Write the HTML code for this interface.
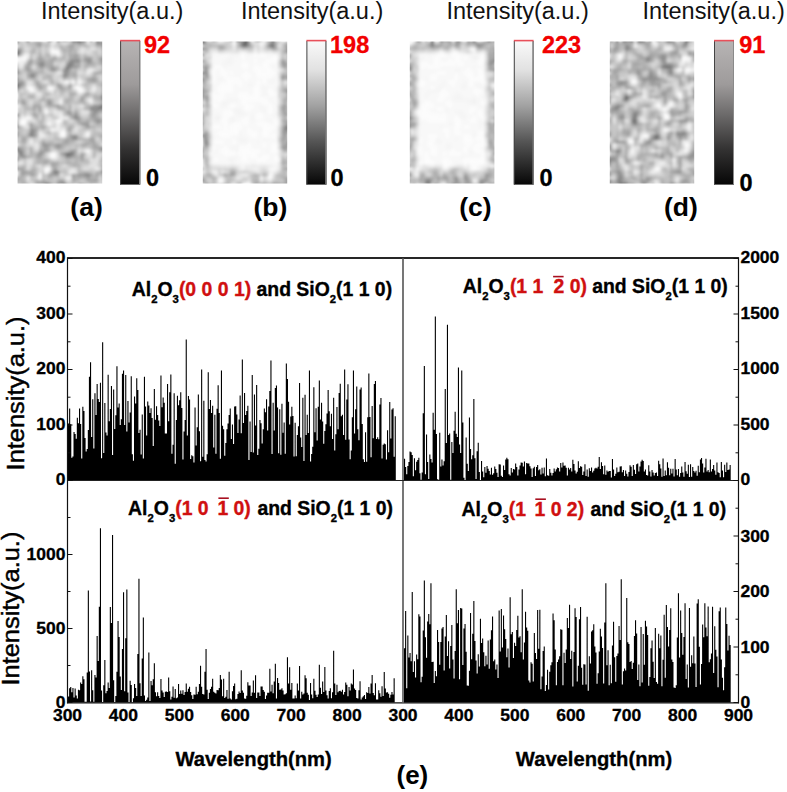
<!DOCTYPE html>
<html><head><meta charset="utf-8"><style>
html,body{margin:0;padding:0;background:#fff;overflow:hidden;width:787px;height:792px;}
svg{display:block;font-family:"Liberation Sans",sans-serif;}
</style></head><body>
<svg width="787" height="792" viewBox="0 0 787 792">
<defs><clipPath id="c0"><rect x="17.6" y="41.5" width="84.6" height="142.0"/></clipPath><filter id="bl0" x="-5%" y="-5%" width="110%" height="110%"><feGaussianBlur stdDeviation="1.5"/></filter><linearGradient id="g0" x1="0" y1="0" x2="0" y2="1"><stop offset="0" stop-color="#b7b4b4"/><stop offset="0.3" stop-color="#9e9b9b"/><stop offset="0.5" stop-color="#6f6d6d"/><stop offset="0.75" stop-color="#343333"/><stop offset="1" stop-color="#060606"/></linearGradient><clipPath id="c1"><rect x="202.8" y="41.5" width="84.4" height="142.0"/></clipPath><filter id="bl1" x="-5%" y="-5%" width="110%" height="110%"><feGaussianBlur stdDeviation="1.5"/></filter><linearGradient id="g1" x1="0" y1="0" x2="0" y2="1"><stop offset="0" stop-color="#f9f9f9"/><stop offset="0.2" stop-color="#e2e2e2"/><stop offset="0.45" stop-color="#a2a2a2"/><stop offset="0.7" stop-color="#555555"/><stop offset="1" stop-color="#060606"/></linearGradient><clipPath id="c2"><rect x="409.8" y="41.5" width="84.6" height="142.0"/></clipPath><filter id="bl2" x="-5%" y="-5%" width="110%" height="110%"><feGaussianBlur stdDeviation="1.5"/></filter><linearGradient id="g2" x1="0" y1="0" x2="0" y2="1"><stop offset="0" stop-color="#f9f9f9"/><stop offset="0.2" stop-color="#e2e2e2"/><stop offset="0.45" stop-color="#a2a2a2"/><stop offset="0.7" stop-color="#555555"/><stop offset="1" stop-color="#060606"/></linearGradient><clipPath id="c3"><rect x="609.8" y="41.5" width="84.4" height="142.0"/></clipPath><filter id="bl3" x="-5%" y="-5%" width="110%" height="110%"><feGaussianBlur stdDeviation="1.5"/></filter><linearGradient id="g3" x1="0" y1="0" x2="0" y2="1"><stop offset="0" stop-color="#b7b4b4"/><stop offset="0.3" stop-color="#9e9b9b"/><stop offset="0.5" stop-color="#6f6d6d"/><stop offset="0.75" stop-color="#343333"/><stop offset="1" stop-color="#060606"/></linearGradient></defs>
<rect width="787" height="792" fill="#fff"/>
<g clip-path="url(#c0)"><g filter="url(#bl0)"><path fill="rgb(60,60,60)" d="M56.6 38.5h3v3h-3zM71.6 38.5h3v3h-3zM77.6 38.5h3v3h-3zM14.6 53.5h3v3h-3zM14.6 71.5h3v3h-3zM14.6 77.5h3v3h-3zM104.6 83.5h3v3h-3zM104.6 104.5h3v3h-3zM14.6 113.5h3v3h-3zM14.6 122.5h3v3h-3zM14.6 125.5h3v3h-3zM104.6 146.5h3v3h-3zM14.6 158.5h3v3h-3zM104.6 176.5h3v3h-3zM47.6 185.5h3v3h-3z"/><path fill="rgb(64,64,64)" d="M104.6 44.5h3v3h-3zM104.6 80.5h3v3h-3z"/><path fill="rgb(68,68,68)" d="M14.6 38.5h3v3h-3zM14.6 68.5h3v3h-3z"/><path fill="rgb(72,72,72)" d="M14.6 41.5h3v3h-3z"/><path fill="rgb(76,76,76)" d="M104.6 98.5h3v3h-3zM65.6 152.5h3v3h-3zM56.6 185.5h3v3h-3zM77.6 185.5h3v3h-3z"/><path fill="rgb(80,80,80)" d="M104.6 59.5h3v3h-3zM68.6 152.5h3v3h-3z"/><path fill="rgb(84,84,84)" d="M26.6 38.5h3v3h-3zM74.6 38.5h3v3h-3zM14.6 185.5h3v3h-3z"/><path fill="rgb(88,88,88)" d="M14.6 50.5h3v3h-3zM101.6 104.5h3v3h-3z"/><path fill="rgb(92,92,92)" d="M104.6 56.5h3v3h-3zM101.6 95.5h3v3h-3zM53.6 170.5h3v3h-3zM80.6 185.5h3v3h-3z"/><path fill="rgb(96,96,96)" d="M17.6 50.5h3v3h-3zM14.6 167.5h3v3h-3zM62.6 185.5h3v3h-3zM89.6 185.5h3v3h-3z"/><path fill="rgb(100,100,100)" d="M68.6 62.5h3v3h-3zM44.6 182.5h3v3h-3zM26.6 185.5h3v3h-3zM44.6 185.5h3v3h-3z"/><path fill="rgb(104,104,104)" d="M14.6 83.5h3v3h-3zM17.6 83.5h3v3h-3zM14.6 86.5h3v3h-3zM71.6 152.5h3v3h-3zM86.6 173.5h3v3h-3z"/><path fill="rgb(108,108,108)" d="M62.6 38.5h3v3h-3zM83.6 38.5h3v3h-3zM68.6 65.5h3v3h-3zM74.6 116.5h3v3h-3zM17.6 149.5h3v3h-3zM101.6 170.5h3v3h-3z"/><path fill="rgb(112,112,112)" d="M47.6 38.5h3v3h-3zM41.6 62.5h3v3h-3zM65.6 65.5h3v3h-3zM104.6 65.5h3v3h-3zM65.6 68.5h3v3h-3zM62.6 74.5h3v3h-3zM95.6 107.5h3v3h-3zM20.6 152.5h3v3h-3zM56.6 170.5h3v3h-3zM47.6 182.5h3v3h-3z"/><path fill="rgb(116,116,116)" d="M89.6 38.5h3v3h-3zM77.6 41.5h3v3h-3zM101.6 41.5h3v3h-3zM104.6 50.5h3v3h-3zM71.6 59.5h3v3h-3zM38.6 62.5h3v3h-3zM47.6 101.5h3v3h-3zM98.6 104.5h3v3h-3zM98.6 107.5h3v3h-3zM14.6 119.5h3v3h-3zM14.6 131.5h3v3h-3zM29.6 131.5h3v3h-3zM29.6 134.5h3v3h-3zM14.6 146.5h3v3h-3zM101.6 146.5h3v3h-3zM17.6 152.5h3v3h-3zM65.6 155.5h3v3h-3zM62.6 182.5h3v3h-3z"/><path fill="rgb(120,120,120)" d="M17.6 53.5h3v3h-3zM86.6 59.5h3v3h-3zM14.6 65.5h3v3h-3zM29.6 74.5h3v3h-3zM32.6 74.5h3v3h-3zM101.6 107.5h3v3h-3zM95.6 119.5h3v3h-3zM14.6 134.5h3v3h-3zM38.6 152.5h3v3h-3zM62.6 152.5h3v3h-3zM104.6 158.5h3v3h-3zM83.6 173.5h3v3h-3z"/><path fill="rgb(124,124,124)" d="M95.6 41.5h3v3h-3zM98.6 41.5h3v3h-3zM71.6 62.5h3v3h-3zM50.6 68.5h3v3h-3zM65.6 71.5h3v3h-3zM101.6 98.5h3v3h-3zM89.6 107.5h3v3h-3zM92.6 107.5h3v3h-3zM74.6 113.5h3v3h-3zM98.6 119.5h3v3h-3zM29.6 128.5h3v3h-3zM32.6 134.5h3v3h-3zM68.6 155.5h3v3h-3z"/><path fill="rgb(128,128,128)" d="M68.6 59.5h3v3h-3zM74.6 59.5h3v3h-3zM77.6 59.5h3v3h-3zM101.6 59.5h3v3h-3zM53.6 68.5h3v3h-3zM65.6 74.5h3v3h-3zM20.6 83.5h3v3h-3zM92.6 113.5h3v3h-3zM86.6 125.5h3v3h-3zM74.6 134.5h3v3h-3zM74.6 137.5h3v3h-3zM44.6 143.5h3v3h-3zM56.6 143.5h3v3h-3zM20.6 149.5h3v3h-3zM59.6 182.5h3v3h-3zM83.6 185.5h3v3h-3z"/><path fill="rgb(132,132,132)" d="M95.6 38.5h3v3h-3zM38.6 41.5h3v3h-3zM101.6 56.5h3v3h-3zM29.6 59.5h3v3h-3zM89.6 59.5h3v3h-3zM92.6 77.5h3v3h-3zM104.6 77.5h3v3h-3zM20.6 80.5h3v3h-3zM104.6 86.5h3v3h-3zM80.6 98.5h3v3h-3zM56.6 104.5h3v3h-3zM71.6 134.5h3v3h-3zM71.6 137.5h3v3h-3zM41.6 143.5h3v3h-3zM17.6 146.5h3v3h-3zM56.6 146.5h3v3h-3zM98.6 146.5h3v3h-3zM71.6 149.5h3v3h-3zM80.6 155.5h3v3h-3zM77.6 173.5h3v3h-3zM59.6 179.5h3v3h-3zM56.6 182.5h3v3h-3zM20.6 185.5h3v3h-3zM101.6 185.5h3v3h-3z"/><path fill="rgb(136,136,136)" d="M53.6 56.5h3v3h-3zM65.6 62.5h3v3h-3zM71.6 65.5h3v3h-3zM26.6 68.5h3v3h-3zM56.6 83.5h3v3h-3zM17.6 86.5h3v3h-3zM59.6 86.5h3v3h-3zM101.6 92.5h3v3h-3zM104.6 95.5h3v3h-3zM92.6 104.5h3v3h-3zM95.6 104.5h3v3h-3zM38.6 107.5h3v3h-3zM92.6 110.5h3v3h-3zM95.6 110.5h3v3h-3zM32.6 113.5h3v3h-3zM77.6 116.5h3v3h-3zM104.6 116.5h3v3h-3zM32.6 128.5h3v3h-3zM32.6 131.5h3v3h-3zM89.6 137.5h3v3h-3zM44.6 146.5h3v3h-3zM14.6 149.5h3v3h-3zM80.6 152.5h3v3h-3zM20.6 155.5h3v3h-3zM23.6 155.5h3v3h-3zM104.6 170.5h3v3h-3zM53.6 173.5h3v3h-3zM80.6 173.5h3v3h-3zM86.6 176.5h3v3h-3zM41.6 182.5h3v3h-3z"/><path fill="rgb(140,140,140)" d="M17.6 47.5h3v3h-3zM74.6 53.5h3v3h-3zM86.6 56.5h3v3h-3zM26.6 65.5h3v3h-3zM50.6 65.5h3v3h-3zM74.6 65.5h3v3h-3zM62.6 68.5h3v3h-3zM32.6 71.5h3v3h-3zM62.6 71.5h3v3h-3zM14.6 80.5h3v3h-3zM38.6 86.5h3v3h-3zM86.6 92.5h3v3h-3zM47.6 98.5h3v3h-3zM65.6 140.5h3v3h-3zM44.6 149.5h3v3h-3zM20.6 167.5h3v3h-3z"/><path fill="rgb(144,144,144)" d="M80.6 38.5h3v3h-3zM35.6 41.5h3v3h-3zM80.6 41.5h3v3h-3zM38.6 44.5h3v3h-3zM68.6 44.5h3v3h-3zM101.6 44.5h3v3h-3zM104.6 53.5h3v3h-3zM74.6 56.5h3v3h-3zM41.6 59.5h3v3h-3zM26.6 62.5h3v3h-3zM101.6 62.5h3v3h-3zM38.6 65.5h3v3h-3zM41.6 65.5h3v3h-3zM89.6 77.5h3v3h-3zM89.6 113.5h3v3h-3zM71.6 116.5h3v3h-3zM92.6 116.5h3v3h-3zM77.6 119.5h3v3h-3zM80.6 122.5h3v3h-3zM83.6 122.5h3v3h-3zM86.6 122.5h3v3h-3zM41.6 125.5h3v3h-3zM68.6 128.5h3v3h-3zM23.6 137.5h3v3h-3zM41.6 140.5h3v3h-3zM47.6 143.5h3v3h-3zM59.6 143.5h3v3h-3zM83.6 143.5h3v3h-3zM101.6 149.5h3v3h-3zM38.6 155.5h3v3h-3zM44.6 161.5h3v3h-3zM53.6 167.5h3v3h-3zM56.6 173.5h3v3h-3zM89.6 173.5h3v3h-3zM95.6 173.5h3v3h-3zM14.6 179.5h3v3h-3zM92.6 179.5h3v3h-3zM38.6 182.5h3v3h-3z"/><path fill="rgb(148,148,148)" d="M104.6 47.5h3v3h-3zM38.6 56.5h3v3h-3zM89.6 56.5h3v3h-3zM38.6 59.5h3v3h-3zM50.6 59.5h3v3h-3zM77.6 62.5h3v3h-3zM86.6 62.5h3v3h-3zM17.6 71.5h3v3h-3zM29.6 71.5h3v3h-3zM98.6 71.5h3v3h-3zM104.6 74.5h3v3h-3zM17.6 80.5h3v3h-3zM35.6 80.5h3v3h-3zM92.6 80.5h3v3h-3zM68.6 83.5h3v3h-3zM68.6 86.5h3v3h-3zM14.6 89.5h3v3h-3zM29.6 95.5h3v3h-3zM80.6 95.5h3v3h-3zM98.6 95.5h3v3h-3zM20.6 101.5h3v3h-3zM23.6 101.5h3v3h-3zM32.6 104.5h3v3h-3zM59.6 107.5h3v3h-3zM65.6 110.5h3v3h-3zM68.6 110.5h3v3h-3zM74.6 110.5h3v3h-3zM68.6 113.5h3v3h-3zM29.6 122.5h3v3h-3zM29.6 125.5h3v3h-3zM68.6 134.5h3v3h-3zM53.6 143.5h3v3h-3zM92.6 143.5h3v3h-3zM95.6 146.5h3v3h-3zM38.6 149.5h3v3h-3zM98.6 149.5h3v3h-3zM71.6 155.5h3v3h-3zM80.6 158.5h3v3h-3zM17.6 167.5h3v3h-3zM101.6 167.5h3v3h-3zM29.6 170.5h3v3h-3zM71.6 173.5h3v3h-3zM14.6 176.5h3v3h-3zM71.6 176.5h3v3h-3zM41.6 179.5h3v3h-3zM95.6 179.5h3v3h-3zM35.6 182.5h3v3h-3z"/><path fill="rgb(152,152,152)" d="M71.6 44.5h3v3h-3zM71.6 56.5h3v3h-3zM83.6 56.5h3v3h-3zM83.6 59.5h3v3h-3zM29.6 62.5h3v3h-3zM89.6 62.5h3v3h-3zM77.6 65.5h3v3h-3zM68.6 68.5h3v3h-3zM95.6 71.5h3v3h-3zM26.6 74.5h3v3h-3zM86.6 77.5h3v3h-3zM50.6 80.5h3v3h-3zM59.6 83.5h3v3h-3zM71.6 92.5h3v3h-3zM35.6 104.5h3v3h-3zM47.6 104.5h3v3h-3zM53.6 104.5h3v3h-3zM89.6 104.5h3v3h-3zM32.6 107.5h3v3h-3zM17.6 113.5h3v3h-3zM95.6 116.5h3v3h-3zM86.6 119.5h3v3h-3zM17.6 125.5h3v3h-3zM68.6 125.5h3v3h-3zM65.6 137.5h3v3h-3zM62.6 140.5h3v3h-3zM92.6 140.5h3v3h-3zM59.6 146.5h3v3h-3zM92.6 146.5h3v3h-3zM41.6 149.5h3v3h-3zM68.6 149.5h3v3h-3zM41.6 152.5h3v3h-3zM59.6 152.5h3v3h-3zM17.6 155.5h3v3h-3zM35.6 155.5h3v3h-3zM53.6 164.5h3v3h-3zM20.6 170.5h3v3h-3zM23.6 170.5h3v3h-3zM26.6 170.5h3v3h-3zM50.6 170.5h3v3h-3zM20.6 173.5h3v3h-3zM29.6 173.5h3v3h-3zM32.6 173.5h3v3h-3zM47.6 173.5h3v3h-3zM50.6 173.5h3v3h-3zM62.6 179.5h3v3h-3zM71.6 179.5h3v3h-3zM89.6 179.5h3v3h-3z"/><path fill="rgb(156,156,156)" d="M38.6 53.5h3v3h-3zM68.6 53.5h3v3h-3zM77.6 56.5h3v3h-3zM98.6 56.5h3v3h-3zM98.6 59.5h3v3h-3zM35.6 62.5h3v3h-3zM44.6 62.5h3v3h-3zM50.6 62.5h3v3h-3zM74.6 62.5h3v3h-3zM47.6 65.5h3v3h-3zM29.6 68.5h3v3h-3zM35.6 71.5h3v3h-3zM47.6 74.5h3v3h-3zM89.6 80.5h3v3h-3zM35.6 83.5h3v3h-3zM38.6 83.5h3v3h-3zM101.6 89.5h3v3h-3zM83.6 92.5h3v3h-3zM20.6 98.5h3v3h-3zM65.6 98.5h3v3h-3zM50.6 101.5h3v3h-3zM101.6 101.5h3v3h-3zM38.6 104.5h3v3h-3zM98.6 110.5h3v3h-3zM71.6 113.5h3v3h-3zM89.6 116.5h3v3h-3zM92.6 119.5h3v3h-3zM95.6 122.5h3v3h-3zM35.6 128.5h3v3h-3zM26.6 134.5h3v3h-3zM98.6 134.5h3v3h-3zM20.6 137.5h3v3h-3zM68.6 137.5h3v3h-3zM92.6 137.5h3v3h-3zM23.6 140.5h3v3h-3zM89.6 140.5h3v3h-3zM80.6 143.5h3v3h-3zM20.6 146.5h3v3h-3zM47.6 149.5h3v3h-3zM74.6 149.5h3v3h-3zM35.6 152.5h3v3h-3zM26.6 155.5h3v3h-3zM44.6 158.5h3v3h-3zM41.6 161.5h3v3h-3zM101.6 164.5h3v3h-3zM98.6 170.5h3v3h-3zM74.6 173.5h3v3h-3zM77.6 176.5h3v3h-3zM35.6 179.5h3v3h-3zM86.6 179.5h3v3h-3z"/><path fill="rgb(160,160,160)" d="M71.6 41.5h3v3h-3zM74.6 41.5h3v3h-3zM95.6 44.5h3v3h-3zM101.6 47.5h3v3h-3zM20.6 50.5h3v3h-3zM32.6 50.5h3v3h-3zM71.6 53.5h3v3h-3zM62.6 56.5h3v3h-3zM68.6 56.5h3v3h-3zM47.6 62.5h3v3h-3zM92.6 62.5h3v3h-3zM23.6 65.5h3v3h-3zM53.6 65.5h3v3h-3zM101.6 65.5h3v3h-3zM68.6 71.5h3v3h-3zM71.6 74.5h3v3h-3zM74.6 74.5h3v3h-3zM92.6 74.5h3v3h-3zM32.6 77.5h3v3h-3zM101.6 83.5h3v3h-3zM41.6 86.5h3v3h-3zM62.6 86.5h3v3h-3zM68.6 92.5h3v3h-3zM83.6 95.5h3v3h-3zM41.6 98.5h3v3h-3zM50.6 104.5h3v3h-3zM62.6 107.5h3v3h-3zM86.6 107.5h3v3h-3zM38.6 110.5h3v3h-3zM89.6 110.5h3v3h-3zM35.6 113.5h3v3h-3zM95.6 113.5h3v3h-3zM98.6 122.5h3v3h-3zM32.6 125.5h3v3h-3zM83.6 125.5h3v3h-3zM101.6 134.5h3v3h-3zM20.6 140.5h3v3h-3zM50.6 143.5h3v3h-3zM62.6 143.5h3v3h-3zM95.6 143.5h3v3h-3zM41.6 146.5h3v3h-3zM47.6 146.5h3v3h-3zM53.6 146.5h3v3h-3zM92.6 152.5h3v3h-3zM74.6 155.5h3v3h-3zM104.6 155.5h3v3h-3zM101.6 158.5h3v3h-3zM50.6 161.5h3v3h-3zM53.6 161.5h3v3h-3zM56.6 161.5h3v3h-3zM65.6 161.5h3v3h-3zM50.6 164.5h3v3h-3zM23.6 173.5h3v3h-3zM83.6 176.5h3v3h-3zM95.6 176.5h3v3h-3zM56.6 179.5h3v3h-3zM50.6 185.5h3v3h-3z"/><path fill="rgb(164,164,164)" d="M65.6 38.5h3v3h-3zM104.6 38.5h3v3h-3zM104.6 41.5h3v3h-3zM35.6 44.5h3v3h-3zM98.6 44.5h3v3h-3zM68.6 47.5h3v3h-3zM71.6 47.5h3v3h-3zM68.6 50.5h3v3h-3zM47.6 53.5h3v3h-3zM50.6 56.5h3v3h-3zM35.6 59.5h3v3h-3zM47.6 59.5h3v3h-3zM98.6 62.5h3v3h-3zM23.6 68.5h3v3h-3zM26.6 71.5h3v3h-3zM92.6 71.5h3v3h-3zM62.6 77.5h3v3h-3zM86.6 80.5h3v3h-3zM56.6 86.5h3v3h-3zM59.6 89.5h3v3h-3zM44.6 92.5h3v3h-3zM32.6 95.5h3v3h-3zM92.6 95.5h3v3h-3zM95.6 95.5h3v3h-3zM68.6 98.5h3v3h-3zM98.6 98.5h3v3h-3zM65.6 101.5h3v3h-3zM86.6 104.5h3v3h-3zM56.6 107.5h3v3h-3zM32.6 110.5h3v3h-3zM98.6 116.5h3v3h-3zM101.6 119.5h3v3h-3zM77.6 122.5h3v3h-3zM38.6 125.5h3v3h-3zM89.6 125.5h3v3h-3zM47.6 131.5h3v3h-3zM77.6 137.5h3v3h-3zM68.6 140.5h3v3h-3zM104.6 140.5h3v3h-3zM29.6 146.5h3v3h-3zM29.6 149.5h3v3h-3zM104.6 149.5h3v3h-3zM29.6 152.5h3v3h-3zM74.6 152.5h3v3h-3zM38.6 158.5h3v3h-3zM68.6 161.5h3v3h-3zM74.6 161.5h3v3h-3zM77.6 164.5h3v3h-3zM32.6 167.5h3v3h-3zM32.6 170.5h3v3h-3zM83.6 170.5h3v3h-3zM101.6 173.5h3v3h-3zM47.6 176.5h3v3h-3zM74.6 176.5h3v3h-3zM89.6 176.5h3v3h-3zM50.6 182.5h3v3h-3zM98.6 185.5h3v3h-3z"/><path fill="rgb(168,168,168)" d="M50.6 38.5h3v3h-3zM101.6 38.5h3v3h-3zM26.6 41.5h3v3h-3zM32.6 41.5h3v3h-3zM83.6 44.5h3v3h-3zM20.6 47.5h3v3h-3zM32.6 47.5h3v3h-3zM62.6 47.5h3v3h-3zM29.6 50.5h3v3h-3zM62.6 50.5h3v3h-3zM41.6 56.5h3v3h-3zM44.6 65.5h3v3h-3zM101.6 68.5h3v3h-3zM71.6 71.5h3v3h-3zM74.6 71.5h3v3h-3zM101.6 71.5h3v3h-3zM14.6 74.5h3v3h-3zM44.6 74.5h3v3h-3zM68.6 74.5h3v3h-3zM29.6 77.5h3v3h-3zM95.6 77.5h3v3h-3zM95.6 80.5h3v3h-3zM23.6 83.5h3v3h-3zM98.6 83.5h3v3h-3zM65.6 86.5h3v3h-3zM101.6 86.5h3v3h-3zM62.6 89.5h3v3h-3zM47.6 92.5h3v3h-3zM74.6 92.5h3v3h-3zM68.6 95.5h3v3h-3zM38.6 98.5h3v3h-3zM95.6 98.5h3v3h-3zM14.6 101.5h3v3h-3zM23.6 104.5h3v3h-3zM59.6 104.5h3v3h-3zM68.6 104.5h3v3h-3zM26.6 107.5h3v3h-3zM68.6 107.5h3v3h-3zM101.6 110.5h3v3h-3zM65.6 113.5h3v3h-3zM35.6 116.5h3v3h-3zM74.6 119.5h3v3h-3zM83.6 119.5h3v3h-3zM104.6 119.5h3v3h-3zM35.6 125.5h3v3h-3zM71.6 125.5h3v3h-3zM92.6 125.5h3v3h-3zM65.6 128.5h3v3h-3zM17.6 131.5h3v3h-3zM68.6 131.5h3v3h-3zM56.6 137.5h3v3h-3zM80.6 137.5h3v3h-3zM50.6 140.5h3v3h-3zM71.6 140.5h3v3h-3zM86.6 140.5h3v3h-3zM65.6 143.5h3v3h-3zM86.6 143.5h3v3h-3zM23.6 152.5h3v3h-3zM29.6 155.5h3v3h-3zM62.6 155.5h3v3h-3zM77.6 155.5h3v3h-3zM92.6 155.5h3v3h-3zM35.6 158.5h3v3h-3zM41.6 158.5h3v3h-3zM74.6 158.5h3v3h-3zM47.6 161.5h3v3h-3zM71.6 164.5h3v3h-3zM74.6 164.5h3v3h-3zM95.6 170.5h3v3h-3zM17.6 176.5h3v3h-3zM20.6 176.5h3v3h-3zM80.6 176.5h3v3h-3zM92.6 176.5h3v3h-3zM38.6 179.5h3v3h-3zM44.6 179.5h3v3h-3zM74.6 179.5h3v3h-3zM20.6 182.5h3v3h-3zM23.6 182.5h3v3h-3zM65.6 182.5h3v3h-3z"/><path fill="rgb(172,172,172)" d="M44.6 44.5h3v3h-3zM59.6 44.5h3v3h-3zM14.6 47.5h3v3h-3zM59.6 47.5h3v3h-3zM101.6 50.5h3v3h-3zM44.6 53.5h3v3h-3zM62.6 53.5h3v3h-3zM77.6 53.5h3v3h-3zM83.6 53.5h3v3h-3zM29.6 56.5h3v3h-3zM26.6 59.5h3v3h-3zM44.6 59.5h3v3h-3zM47.6 68.5h3v3h-3zM74.6 68.5h3v3h-3zM35.6 74.5h3v3h-3zM17.6 77.5h3v3h-3zM41.6 83.5h3v3h-3zM83.6 83.5h3v3h-3zM41.6 95.5h3v3h-3zM23.6 98.5h3v3h-3zM50.6 98.5h3v3h-3zM77.6 98.5h3v3h-3zM80.6 101.5h3v3h-3zM83.6 101.5h3v3h-3zM29.6 107.5h3v3h-3zM83.6 107.5h3v3h-3zM77.6 113.5h3v3h-3zM80.6 119.5h3v3h-3zM44.6 125.5h3v3h-3zM26.6 131.5h3v3h-3zM35.6 131.5h3v3h-3zM20.6 134.5h3v3h-3zM35.6 134.5h3v3h-3zM62.6 137.5h3v3h-3zM86.6 137.5h3v3h-3zM101.6 137.5h3v3h-3zM47.6 140.5h3v3h-3zM89.6 143.5h3v3h-3zM23.6 149.5h3v3h-3zM92.6 149.5h3v3h-3zM32.6 152.5h3v3h-3zM14.6 155.5h3v3h-3zM101.6 155.5h3v3h-3zM47.6 158.5h3v3h-3zM65.6 158.5h3v3h-3zM83.6 158.5h3v3h-3zM35.6 161.5h3v3h-3zM38.6 161.5h3v3h-3zM71.6 161.5h3v3h-3zM80.6 170.5h3v3h-3zM86.6 170.5h3v3h-3zM26.6 173.5h3v3h-3zM92.6 173.5h3v3h-3zM101.6 176.5h3v3h-3zM17.6 179.5h3v3h-3zM20.6 179.5h3v3h-3zM23.6 179.5h3v3h-3zM77.6 182.5h3v3h-3zM80.6 182.5h3v3h-3zM68.6 185.5h3v3h-3zM95.6 185.5h3v3h-3z"/><path fill="rgb(176,176,176)" d="M29.6 41.5h3v3h-3zM47.6 41.5h3v3h-3zM56.6 41.5h3v3h-3zM83.6 41.5h3v3h-3zM77.6 44.5h3v3h-3zM86.6 44.5h3v3h-3zM38.6 50.5h3v3h-3zM101.6 53.5h3v3h-3zM47.6 56.5h3v3h-3zM53.6 59.5h3v3h-3zM80.6 59.5h3v3h-3zM83.6 62.5h3v3h-3zM56.6 65.5h3v3h-3zM83.6 65.5h3v3h-3zM86.6 65.5h3v3h-3zM56.6 68.5h3v3h-3zM47.6 77.5h3v3h-3zM50.6 77.5h3v3h-3zM74.6 77.5h3v3h-3zM23.6 80.5h3v3h-3zM101.6 80.5h3v3h-3zM20.6 86.5h3v3h-3zM35.6 86.5h3v3h-3zM68.6 89.5h3v3h-3zM59.6 92.5h3v3h-3zM26.6 95.5h3v3h-3zM71.6 95.5h3v3h-3zM44.6 98.5h3v3h-3zM35.6 101.5h3v3h-3zM44.6 101.5h3v3h-3zM68.6 101.5h3v3h-3zM77.6 101.5h3v3h-3zM23.6 107.5h3v3h-3zM41.6 113.5h3v3h-3zM41.6 116.5h3v3h-3zM41.6 119.5h3v3h-3zM89.6 119.5h3v3h-3zM17.6 134.5h3v3h-3zM23.6 134.5h3v3h-3zM83.6 137.5h3v3h-3zM44.6 140.5h3v3h-3zM83.6 140.5h3v3h-3zM23.6 146.5h3v3h-3zM62.6 146.5h3v3h-3zM74.6 146.5h3v3h-3zM89.6 146.5h3v3h-3zM83.6 152.5h3v3h-3zM41.6 155.5h3v3h-3zM17.6 158.5h3v3h-3zM77.6 158.5h3v3h-3zM86.6 161.5h3v3h-3zM23.6 164.5h3v3h-3zM56.6 164.5h3v3h-3zM23.6 167.5h3v3h-3zM77.6 167.5h3v3h-3zM62.6 170.5h3v3h-3zM77.6 170.5h3v3h-3zM98.6 173.5h3v3h-3zM50.6 176.5h3v3h-3zM32.6 179.5h3v3h-3zM89.6 182.5h3v3h-3zM32.6 185.5h3v3h-3zM71.6 185.5h3v3h-3z"/><path fill="rgb(180,180,180)" d="M17.6 41.5h3v3h-3zM41.6 41.5h3v3h-3zM65.6 44.5h3v3h-3zM80.6 44.5h3v3h-3zM65.6 47.5h3v3h-3zM74.6 47.5h3v3h-3zM65.6 50.5h3v3h-3zM71.6 50.5h3v3h-3zM74.6 50.5h3v3h-3zM29.6 53.5h3v3h-3zM35.6 56.5h3v3h-3zM59.6 56.5h3v3h-3zM95.6 56.5h3v3h-3zM32.6 59.5h3v3h-3zM59.6 59.5h3v3h-3zM65.6 59.5h3v3h-3zM95.6 62.5h3v3h-3zM29.6 65.5h3v3h-3zM35.6 65.5h3v3h-3zM92.6 65.5h3v3h-3zM38.6 68.5h3v3h-3zM41.6 68.5h3v3h-3zM83.6 68.5h3v3h-3zM38.6 71.5h3v3h-3zM41.6 71.5h3v3h-3zM50.6 74.5h3v3h-3zM26.6 77.5h3v3h-3zM41.6 77.5h3v3h-3zM44.6 77.5h3v3h-3zM65.6 77.5h3v3h-3zM83.6 77.5h3v3h-3zM38.6 80.5h3v3h-3zM44.6 83.5h3v3h-3zM86.6 83.5h3v3h-3zM38.6 89.5h3v3h-3zM20.6 92.5h3v3h-3zM71.6 98.5h3v3h-3zM38.6 101.5h3v3h-3zM74.6 101.5h3v3h-3zM98.6 101.5h3v3h-3zM104.6 101.5h3v3h-3zM44.6 104.5h3v3h-3zM62.6 104.5h3v3h-3zM35.6 107.5h3v3h-3zM62.6 110.5h3v3h-3zM80.6 116.5h3v3h-3zM86.6 116.5h3v3h-3zM38.6 119.5h3v3h-3zM38.6 122.5h3v3h-3zM41.6 122.5h3v3h-3zM65.6 125.5h3v3h-3zM17.6 128.5h3v3h-3zM41.6 128.5h3v3h-3zM95.6 131.5h3v3h-3zM98.6 131.5h3v3h-3zM77.6 134.5h3v3h-3zM53.6 137.5h3v3h-3zM14.6 140.5h3v3h-3zM59.6 140.5h3v3h-3zM20.6 143.5h3v3h-3zM68.6 143.5h3v3h-3zM38.6 146.5h3v3h-3zM59.6 149.5h3v3h-3zM95.6 149.5h3v3h-3zM32.6 155.5h3v3h-3zM68.6 158.5h3v3h-3zM77.6 161.5h3v3h-3zM83.6 161.5h3v3h-3zM101.6 161.5h3v3h-3zM20.6 164.5h3v3h-3zM32.6 164.5h3v3h-3zM68.6 164.5h3v3h-3zM50.6 167.5h3v3h-3zM89.6 170.5h3v3h-3zM14.6 182.5h3v3h-3zM26.6 182.5h3v3h-3z"/><path fill="rgb(184,184,184)" d="M32.6 44.5h3v3h-3zM47.6 44.5h3v3h-3zM74.6 44.5h3v3h-3zM38.6 47.5h3v3h-3zM92.6 50.5h3v3h-3zM95.6 53.5h3v3h-3zM44.6 56.5h3v3h-3zM95.6 59.5h3v3h-3zM62.6 65.5h3v3h-3zM17.6 68.5h3v3h-3zM35.6 68.5h3v3h-3zM71.6 68.5h3v3h-3zM20.6 71.5h3v3h-3zM41.6 74.5h3v3h-3zM95.6 74.5h3v3h-3zM20.6 77.5h3v3h-3zM32.6 80.5h3v3h-3zM98.6 80.5h3v3h-3zM95.6 83.5h3v3h-3zM17.6 92.5h3v3h-3zM89.6 92.5h3v3h-3zM86.6 95.5h3v3h-3zM62.6 98.5h3v3h-3zM83.6 98.5h3v3h-3zM92.6 98.5h3v3h-3zM32.6 101.5h3v3h-3zM62.6 101.5h3v3h-3zM26.6 104.5h3v3h-3zM83.6 104.5h3v3h-3zM65.6 107.5h3v3h-3zM74.6 107.5h3v3h-3zM23.6 110.5h3v3h-3zM50.6 113.5h3v3h-3zM32.6 116.5h3v3h-3zM53.6 116.5h3v3h-3zM68.6 116.5h3v3h-3zM62.6 119.5h3v3h-3zM32.6 122.5h3v3h-3zM62.6 122.5h3v3h-3zM65.6 122.5h3v3h-3zM92.6 122.5h3v3h-3zM101.6 122.5h3v3h-3zM104.6 125.5h3v3h-3zM20.6 128.5h3v3h-3zM83.6 128.5h3v3h-3zM92.6 128.5h3v3h-3zM92.6 131.5h3v3h-3zM101.6 131.5h3v3h-3zM53.6 134.5h3v3h-3zM89.6 134.5h3v3h-3zM92.6 134.5h3v3h-3zM95.6 134.5h3v3h-3zM104.6 134.5h3v3h-3zM14.6 137.5h3v3h-3zM59.6 137.5h3v3h-3zM23.6 143.5h3v3h-3zM74.6 143.5h3v3h-3zM77.6 143.5h3v3h-3zM80.6 146.5h3v3h-3zM65.6 149.5h3v3h-3zM86.6 158.5h3v3h-3zM32.6 161.5h3v3h-3zM59.6 161.5h3v3h-3zM62.6 161.5h3v3h-3zM80.6 161.5h3v3h-3zM98.6 164.5h3v3h-3zM29.6 167.5h3v3h-3zM35.6 167.5h3v3h-3zM56.6 167.5h3v3h-3zM59.6 170.5h3v3h-3zM41.6 173.5h3v3h-3zM23.6 176.5h3v3h-3zM41.6 176.5h3v3h-3zM47.6 179.5h3v3h-3zM77.6 179.5h3v3h-3zM53.6 182.5h3v3h-3zM71.6 182.5h3v3h-3zM83.6 182.5h3v3h-3zM92.6 182.5h3v3h-3zM65.6 185.5h3v3h-3z"/><path fill="rgb(188,188,188)" d="M17.6 38.5h3v3h-3zM98.6 38.5h3v3h-3zM20.6 44.5h3v3h-3zM29.6 44.5h3v3h-3zM44.6 50.5h3v3h-3zM95.6 50.5h3v3h-3zM65.6 53.5h3v3h-3zM56.6 56.5h3v3h-3zM80.6 56.5h3v3h-3zM56.6 59.5h3v3h-3zM92.6 59.5h3v3h-3zM32.6 62.5h3v3h-3zM89.6 65.5h3v3h-3zM98.6 68.5h3v3h-3zM17.6 74.5h3v3h-3zM59.6 74.5h3v3h-3zM80.6 74.5h3v3h-3zM35.6 77.5h3v3h-3zM50.6 83.5h3v3h-3zM44.6 86.5h3v3h-3zM86.6 86.5h3v3h-3zM53.6 89.5h3v3h-3zM65.6 89.5h3v3h-3zM86.6 89.5h3v3h-3zM23.6 92.5h3v3h-3zM32.6 92.5h3v3h-3zM92.6 92.5h3v3h-3zM95.6 92.5h3v3h-3zM44.6 95.5h3v3h-3zM17.6 98.5h3v3h-3zM71.6 101.5h3v3h-3zM71.6 110.5h3v3h-3zM77.6 110.5h3v3h-3zM98.6 113.5h3v3h-3zM104.6 113.5h3v3h-3zM17.6 116.5h3v3h-3zM101.6 116.5h3v3h-3zM65.6 119.5h3v3h-3zM71.6 122.5h3v3h-3zM20.6 125.5h3v3h-3zM95.6 125.5h3v3h-3zM98.6 125.5h3v3h-3zM101.6 125.5h3v3h-3zM14.6 128.5h3v3h-3zM80.6 128.5h3v3h-3zM101.6 128.5h3v3h-3zM20.6 131.5h3v3h-3zM44.6 131.5h3v3h-3zM65.6 134.5h3v3h-3zM98.6 137.5h3v3h-3zM56.6 140.5h3v3h-3zM95.6 140.5h3v3h-3zM71.6 143.5h3v3h-3zM83.6 146.5h3v3h-3zM56.6 149.5h3v3h-3zM62.6 149.5h3v3h-3zM59.6 155.5h3v3h-3zM23.6 158.5h3v3h-3zM62.6 158.5h3v3h-3zM71.6 158.5h3v3h-3zM98.6 158.5h3v3h-3zM98.6 161.5h3v3h-3zM41.6 164.5h3v3h-3zM35.6 170.5h3v3h-3zM65.6 170.5h3v3h-3zM17.6 173.5h3v3h-3zM35.6 173.5h3v3h-3zM44.6 173.5h3v3h-3zM32.6 176.5h3v3h-3zM56.6 176.5h3v3h-3zM50.6 179.5h3v3h-3zM83.6 179.5h3v3h-3zM17.6 182.5h3v3h-3zM95.6 182.5h3v3h-3zM86.6 185.5h3v3h-3z"/><path fill="rgb(192,192,192)" d="M59.6 38.5h3v3h-3zM44.6 41.5h3v3h-3zM68.6 41.5h3v3h-3zM92.6 41.5h3v3h-3zM41.6 44.5h3v3h-3zM56.6 44.5h3v3h-3zM62.6 44.5h3v3h-3zM29.6 47.5h3v3h-3zM35.6 47.5h3v3h-3zM44.6 47.5h3v3h-3zM62.6 59.5h3v3h-3zM32.6 68.5h3v3h-3zM104.6 68.5h3v3h-3zM44.6 71.5h3v3h-3zM50.6 71.5h3v3h-3zM89.6 74.5h3v3h-3zM68.6 77.5h3v3h-3zM47.6 80.5h3v3h-3zM53.6 80.5h3v3h-3zM53.6 83.5h3v3h-3zM80.6 83.5h3v3h-3zM17.6 89.5h3v3h-3zM23.6 89.5h3v3h-3zM71.6 89.5h3v3h-3zM26.6 92.5h3v3h-3zM29.6 92.5h3v3h-3zM62.6 92.5h3v3h-3zM98.6 92.5h3v3h-3zM17.6 95.5h3v3h-3zM20.6 95.5h3v3h-3zM14.6 98.5h3v3h-3zM17.6 101.5h3v3h-3zM95.6 101.5h3v3h-3zM20.6 104.5h3v3h-3zM65.6 104.5h3v3h-3zM104.6 107.5h3v3h-3zM17.6 110.5h3v3h-3zM35.6 110.5h3v3h-3zM23.6 113.5h3v3h-3zM47.6 113.5h3v3h-3zM62.6 113.5h3v3h-3zM83.6 116.5h3v3h-3zM35.6 119.5h3v3h-3zM68.6 122.5h3v3h-3zM80.6 125.5h3v3h-3zM26.6 128.5h3v3h-3zM86.6 128.5h3v3h-3zM53.6 131.5h3v3h-3zM26.6 137.5h3v3h-3zM32.6 137.5h3v3h-3zM17.6 140.5h3v3h-3zM38.6 140.5h3v3h-3zM53.6 140.5h3v3h-3zM74.6 140.5h3v3h-3zM101.6 140.5h3v3h-3zM38.6 143.5h3v3h-3zM98.6 143.5h3v3h-3zM26.6 146.5h3v3h-3zM50.6 146.5h3v3h-3zM68.6 146.5h3v3h-3zM32.6 149.5h3v3h-3zM83.6 155.5h3v3h-3zM14.6 161.5h3v3h-3zM23.6 161.5h3v3h-3zM104.6 161.5h3v3h-3zM14.6 164.5h3v3h-3zM62.6 167.5h3v3h-3zM41.6 170.5h3v3h-3zM92.6 170.5h3v3h-3zM65.6 173.5h3v3h-3zM44.6 176.5h3v3h-3zM53.6 179.5h3v3h-3zM68.6 182.5h3v3h-3z"/><path fill="rgb(196,196,196)" d="M20.6 41.5h3v3h-3zM26.6 44.5h3v3h-3zM77.6 47.5h3v3h-3zM86.6 47.5h3v3h-3zM20.6 53.5h3v3h-3zM92.6 53.5h3v3h-3zM98.6 53.5h3v3h-3zM65.6 56.5h3v3h-3zM92.6 56.5h3v3h-3zM14.6 62.5h3v3h-3zM23.6 62.5h3v3h-3zM20.6 68.5h3v3h-3zM59.6 68.5h3v3h-3zM23.6 71.5h3v3h-3zM101.6 74.5h3v3h-3zM56.6 80.5h3v3h-3zM83.6 80.5h3v3h-3zM32.6 83.5h3v3h-3zM89.6 83.5h3v3h-3zM23.6 86.5h3v3h-3zM83.6 86.5h3v3h-3zM98.6 86.5h3v3h-3zM41.6 89.5h3v3h-3zM44.6 89.5h3v3h-3zM41.6 92.5h3v3h-3zM53.6 92.5h3v3h-3zM89.6 95.5h3v3h-3zM53.6 98.5h3v3h-3zM86.6 101.5h3v3h-3zM47.6 107.5h3v3h-3zM29.6 110.5h3v3h-3zM41.6 110.5h3v3h-3zM29.6 113.5h3v3h-3zM38.6 113.5h3v3h-3zM86.6 113.5h3v3h-3zM26.6 122.5h3v3h-3zM35.6 122.5h3v3h-3zM74.6 122.5h3v3h-3zM23.6 128.5h3v3h-3zM38.6 128.5h3v3h-3zM44.6 128.5h3v3h-3zM89.6 128.5h3v3h-3zM80.6 131.5h3v3h-3zM80.6 134.5h3v3h-3zM41.6 137.5h3v3h-3zM50.6 137.5h3v3h-3zM80.6 140.5h3v3h-3zM98.6 140.5h3v3h-3zM65.6 146.5h3v3h-3zM71.6 146.5h3v3h-3zM86.6 146.5h3v3h-3zM26.6 152.5h3v3h-3zM77.6 152.5h3v3h-3zM32.6 158.5h3v3h-3zM59.6 158.5h3v3h-3zM17.6 164.5h3v3h-3zM59.6 164.5h3v3h-3zM80.6 164.5h3v3h-3zM17.6 170.5h3v3h-3zM29.6 176.5h3v3h-3zM53.6 176.5h3v3h-3zM59.6 176.5h3v3h-3zM29.6 179.5h3v3h-3zM98.6 179.5h3v3h-3zM104.6 179.5h3v3h-3zM74.6 182.5h3v3h-3z"/><path fill="rgb(200,200,200)" d="M89.6 41.5h3v3h-3zM53.6 44.5h3v3h-3zM92.6 44.5h3v3h-3zM98.6 47.5h3v3h-3zM35.6 50.5h3v3h-3zM59.6 50.5h3v3h-3zM35.6 53.5h3v3h-3zM41.6 53.5h3v3h-3zM80.6 53.5h3v3h-3zM86.6 53.5h3v3h-3zM80.6 62.5h3v3h-3zM80.6 65.5h3v3h-3zM44.6 68.5h3v3h-3zM47.6 71.5h3v3h-3zM53.6 71.5h3v3h-3zM20.6 74.5h3v3h-3zM83.6 74.5h3v3h-3zM71.6 77.5h3v3h-3zM80.6 77.5h3v3h-3zM101.6 77.5h3v3h-3zM74.6 80.5h3v3h-3zM56.6 89.5h3v3h-3zM95.6 89.5h3v3h-3zM62.6 95.5h3v3h-3zM65.6 95.5h3v3h-3zM77.6 95.5h3v3h-3zM26.6 98.5h3v3h-3zM32.6 98.5h3v3h-3zM35.6 98.5h3v3h-3zM74.6 98.5h3v3h-3zM26.6 101.5h3v3h-3zM53.6 101.5h3v3h-3zM92.6 101.5h3v3h-3zM29.6 104.5h3v3h-3zM74.6 104.5h3v3h-3zM17.6 107.5h3v3h-3zM77.6 107.5h3v3h-3zM20.6 110.5h3v3h-3zM50.6 116.5h3v3h-3zM89.6 122.5h3v3h-3zM47.6 128.5h3v3h-3zM71.6 128.5h3v3h-3zM77.6 128.5h3v3h-3zM95.6 128.5h3v3h-3zM23.6 131.5h3v3h-3zM50.6 131.5h3v3h-3zM65.6 131.5h3v3h-3zM77.6 131.5h3v3h-3zM89.6 131.5h3v3h-3zM56.6 134.5h3v3h-3zM35.6 137.5h3v3h-3zM47.6 137.5h3v3h-3zM77.6 146.5h3v3h-3zM44.6 152.5h3v3h-3zM101.6 152.5h3v3h-3zM44.6 155.5h3v3h-3zM20.6 158.5h3v3h-3zM50.6 158.5h3v3h-3zM56.6 158.5h3v3h-3zM59.6 167.5h3v3h-3zM65.6 167.5h3v3h-3zM89.6 167.5h3v3h-3zM62.6 173.5h3v3h-3zM80.6 179.5h3v3h-3zM32.6 182.5h3v3h-3zM86.6 182.5h3v3h-3zM104.6 182.5h3v3h-3zM35.6 185.5h3v3h-3z"/><path fill="rgb(204,204,204)" d="M68.6 38.5h3v3h-3zM23.6 41.5h3v3h-3zM89.6 44.5h3v3h-3zM95.6 47.5h3v3h-3zM23.6 50.5h3v3h-3zM47.6 50.5h3v3h-3zM32.6 53.5h3v3h-3zM89.6 53.5h3v3h-3zM56.6 62.5h3v3h-3zM95.6 65.5h3v3h-3zM77.6 68.5h3v3h-3zM80.6 68.5h3v3h-3zM95.6 68.5h3v3h-3zM83.6 71.5h3v3h-3zM38.6 74.5h3v3h-3zM56.6 74.5h3v3h-3zM77.6 74.5h3v3h-3zM86.6 74.5h3v3h-3zM23.6 77.5h3v3h-3zM62.6 83.5h3v3h-3zM71.6 83.5h3v3h-3zM74.6 89.5h3v3h-3zM98.6 89.5h3v3h-3zM50.6 92.5h3v3h-3zM23.6 95.5h3v3h-3zM47.6 95.5h3v3h-3zM53.6 95.5h3v3h-3zM56.6 95.5h3v3h-3zM59.6 95.5h3v3h-3zM74.6 95.5h3v3h-3zM29.6 98.5h3v3h-3zM41.6 104.5h3v3h-3zM20.6 107.5h3v3h-3zM41.6 107.5h3v3h-3zM50.6 107.5h3v3h-3zM80.6 107.5h3v3h-3zM26.6 110.5h3v3h-3zM38.6 116.5h3v3h-3zM44.6 116.5h3v3h-3zM56.6 116.5h3v3h-3zM62.6 125.5h3v3h-3zM56.6 131.5h3v3h-3zM47.6 134.5h3v3h-3zM50.6 134.5h3v3h-3zM17.6 137.5h3v3h-3zM44.6 137.5h3v3h-3zM26.6 140.5h3v3h-3zM26.6 149.5h3v3h-3zM35.6 149.5h3v3h-3zM50.6 149.5h3v3h-3zM95.6 152.5h3v3h-3zM29.6 164.5h3v3h-3zM65.6 164.5h3v3h-3zM83.6 164.5h3v3h-3zM80.6 167.5h3v3h-3zM62.6 176.5h3v3h-3zM101.6 179.5h3v3h-3zM101.6 182.5h3v3h-3z"/><path fill="rgb(208,208,208)" d="M23.6 38.5h3v3h-3zM59.6 41.5h3v3h-3zM17.6 44.5h3v3h-3zM23.6 44.5h3v3h-3zM47.6 47.5h3v3h-3zM26.6 50.5h3v3h-3zM59.6 62.5h3v3h-3zM98.6 65.5h3v3h-3zM23.6 74.5h3v3h-3zM98.6 74.5h3v3h-3zM53.6 77.5h3v3h-3zM56.6 77.5h3v3h-3zM98.6 77.5h3v3h-3zM47.6 83.5h3v3h-3zM65.6 83.5h3v3h-3zM89.6 86.5h3v3h-3zM95.6 86.5h3v3h-3zM56.6 92.5h3v3h-3zM65.6 92.5h3v3h-3zM80.6 92.5h3v3h-3zM50.6 95.5h3v3h-3zM56.6 98.5h3v3h-3zM53.6 107.5h3v3h-3zM50.6 110.5h3v3h-3zM44.6 113.5h3v3h-3zM101.6 113.5h3v3h-3zM14.6 116.5h3v3h-3zM71.6 119.5h3v3h-3zM104.6 122.5h3v3h-3zM47.6 125.5h3v3h-3zM98.6 128.5h3v3h-3zM71.6 131.5h3v3h-3zM74.6 131.5h3v3h-3zM104.6 137.5h3v3h-3zM77.6 140.5h3v3h-3zM17.6 143.5h3v3h-3zM32.6 146.5h3v3h-3zM80.6 149.5h3v3h-3zM56.6 152.5h3v3h-3zM89.6 155.5h3v3h-3zM98.6 155.5h3v3h-3zM89.6 161.5h3v3h-3zM35.6 164.5h3v3h-3zM44.6 164.5h3v3h-3zM86.6 164.5h3v3h-3zM38.6 167.5h3v3h-3zM74.6 167.5h3v3h-3zM68.6 173.5h3v3h-3zM35.6 176.5h3v3h-3zM68.6 179.5h3v3h-3z"/><path fill="rgb(212,212,212)" d="M23.6 47.5h3v3h-3zM41.6 47.5h3v3h-3zM41.6 50.5h3v3h-3zM77.6 50.5h3v3h-3zM89.6 50.5h3v3h-3zM98.6 50.5h3v3h-3zM53.6 53.5h3v3h-3zM53.6 62.5h3v3h-3zM59.6 65.5h3v3h-3zM80.6 71.5h3v3h-3zM53.6 74.5h3v3h-3zM38.6 77.5h3v3h-3zM41.6 80.5h3v3h-3zM74.6 83.5h3v3h-3zM92.6 83.5h3v3h-3zM71.6 86.5h3v3h-3zM20.6 89.5h3v3h-3zM26.6 89.5h3v3h-3zM35.6 89.5h3v3h-3zM41.6 101.5h3v3h-3zM71.6 104.5h3v3h-3zM71.6 107.5h3v3h-3zM53.6 113.5h3v3h-3zM80.6 113.5h3v3h-3zM83.6 113.5h3v3h-3zM29.6 119.5h3v3h-3zM44.6 119.5h3v3h-3zM53.6 122.5h3v3h-3zM59.6 122.5h3v3h-3zM50.6 125.5h3v3h-3zM53.6 125.5h3v3h-3zM77.6 125.5h3v3h-3zM95.6 137.5h3v3h-3zM32.6 140.5h3v3h-3zM35.6 140.5h3v3h-3zM53.6 149.5h3v3h-3zM98.6 152.5h3v3h-3zM53.6 158.5h3v3h-3zM41.6 167.5h3v3h-3zM68.6 167.5h3v3h-3zM92.6 167.5h3v3h-3zM98.6 167.5h3v3h-3zM38.6 170.5h3v3h-3zM98.6 176.5h3v3h-3zM65.6 179.5h3v3h-3zM38.6 185.5h3v3h-3z"/><path fill="rgb(216,216,216)" d="M65.6 41.5h3v3h-3zM26.6 47.5h3v3h-3zM83.6 47.5h3v3h-3zM83.6 50.5h3v3h-3zM59.6 53.5h3v3h-3zM32.6 56.5h3v3h-3zM62.6 62.5h3v3h-3zM104.6 62.5h3v3h-3zM89.6 71.5h3v3h-3zM59.6 77.5h3v3h-3zM53.6 86.5h3v3h-3zM104.6 89.5h3v3h-3zM35.6 95.5h3v3h-3zM38.6 95.5h3v3h-3zM56.6 101.5h3v3h-3zM77.6 104.5h3v3h-3zM47.6 110.5h3v3h-3zM20.6 113.5h3v3h-3zM26.6 119.5h3v3h-3zM68.6 119.5h3v3h-3zM44.6 122.5h3v3h-3zM59.6 125.5h3v3h-3zM74.6 125.5h3v3h-3zM104.6 128.5h3v3h-3zM41.6 131.5h3v3h-3zM83.6 131.5h3v3h-3zM44.6 134.5h3v3h-3zM38.6 137.5h3v3h-3zM26.6 143.5h3v3h-3zM29.6 143.5h3v3h-3zM56.6 155.5h3v3h-3zM86.6 155.5h3v3h-3zM95.6 155.5h3v3h-3zM26.6 158.5h3v3h-3zM92.6 158.5h3v3h-3zM95.6 161.5h3v3h-3zM47.6 164.5h3v3h-3zM62.6 164.5h3v3h-3zM95.6 164.5h3v3h-3zM26.6 167.5h3v3h-3zM86.6 167.5h3v3h-3zM104.6 167.5h3v3h-3zM26.6 179.5h3v3h-3zM17.6 185.5h3v3h-3z"/><path fill="rgb(220,220,220)" d="M32.6 38.5h3v3h-3zM50.6 44.5h3v3h-3zM56.6 47.5h3v3h-3zM89.6 47.5h3v3h-3zM86.6 50.5h3v3h-3zM92.6 68.5h3v3h-3zM59.6 71.5h3v3h-3zM77.6 71.5h3v3h-3zM59.6 80.5h3v3h-3zM68.6 80.5h3v3h-3zM29.6 83.5h3v3h-3zM47.6 89.5h3v3h-3zM83.6 89.5h3v3h-3zM89.6 89.5h3v3h-3zM77.6 92.5h3v3h-3zM29.6 101.5h3v3h-3zM59.6 110.5h3v3h-3zM80.6 110.5h3v3h-3zM86.6 110.5h3v3h-3zM26.6 113.5h3v3h-3zM47.6 116.5h3v3h-3zM50.6 119.5h3v3h-3zM26.6 125.5h3v3h-3zM29.6 137.5h3v3h-3zM32.6 143.5h3v3h-3zM89.6 149.5h3v3h-3zM89.6 152.5h3v3h-3zM29.6 158.5h3v3h-3zM89.6 158.5h3v3h-3zM92.6 161.5h3v3h-3zM38.6 164.5h3v3h-3zM83.6 167.5h3v3h-3zM47.6 170.5h3v3h-3zM74.6 170.5h3v3h-3zM59.6 173.5h3v3h-3zM98.6 182.5h3v3h-3z"/><path fill="rgb(224,224,224)" d="M35.6 38.5h3v3h-3zM38.6 38.5h3v3h-3zM62.6 41.5h3v3h-3zM53.6 47.5h3v3h-3zM92.6 47.5h3v3h-3zM50.6 53.5h3v3h-3zM17.6 62.5h3v3h-3zM32.6 65.5h3v3h-3zM26.6 80.5h3v3h-3zM29.6 80.5h3v3h-3zM44.6 80.5h3v3h-3zM35.6 92.5h3v3h-3zM56.6 110.5h3v3h-3zM83.6 110.5h3v3h-3zM56.6 113.5h3v3h-3zM17.6 119.5h3v3h-3zM32.6 119.5h3v3h-3zM53.6 119.5h3v3h-3zM17.6 122.5h3v3h-3zM50.6 122.5h3v3h-3zM23.6 125.5h3v3h-3zM101.6 143.5h3v3h-3zM77.6 149.5h3v3h-3zM47.6 155.5h3v3h-3zM95.6 158.5h3v3h-3zM26.6 161.5h3v3h-3zM29.6 161.5h3v3h-3zM26.6 164.5h3v3h-3zM89.6 164.5h3v3h-3zM92.6 164.5h3v3h-3zM71.6 167.5h3v3h-3zM29.6 182.5h3v3h-3zM29.6 185.5h3v3h-3z"/><path fill="rgb(228,228,228)" d="M20.6 38.5h3v3h-3zM53.6 41.5h3v3h-3zM86.6 41.5h3v3h-3zM80.6 47.5h3v3h-3zM80.6 50.5h3v3h-3zM26.6 56.5h3v3h-3zM17.6 65.5h3v3h-3zM20.6 65.5h3v3h-3zM86.6 68.5h3v3h-3zM56.6 71.5h3v3h-3zM77.6 77.5h3v3h-3zM80.6 80.5h3v3h-3zM26.6 83.5h3v3h-3zM77.6 83.5h3v3h-3zM32.6 86.5h3v3h-3zM104.6 92.5h3v3h-3zM86.6 98.5h3v3h-3zM17.6 104.5h3v3h-3zM80.6 104.5h3v3h-3zM14.6 107.5h3v3h-3zM104.6 110.5h3v3h-3zM59.6 128.5h3v3h-3zM74.6 128.5h3v3h-3zM83.6 134.5h3v3h-3zM47.6 152.5h3v3h-3zM86.6 152.5h3v3h-3zM20.6 161.5h3v3h-3zM104.6 164.5h3v3h-3zM53.6 185.5h3v3h-3z"/><path fill="rgb(232,232,232)" d="M62.6 80.5h3v3h-3zM50.6 89.5h3v3h-3zM92.6 89.5h3v3h-3zM38.6 92.5h3v3h-3zM89.6 101.5h3v3h-3zM44.6 107.5h3v3h-3zM53.6 110.5h3v3h-3zM62.6 116.5h3v3h-3zM47.6 119.5h3v3h-3zM56.6 128.5h3v3h-3zM35.6 143.5h3v3h-3zM35.6 146.5h3v3h-3zM83.6 149.5h3v3h-3zM14.6 152.5h3v3h-3zM17.6 161.5h3v3h-3zM68.6 170.5h3v3h-3zM26.6 176.5h3v3h-3z"/><path fill="rgb(236,236,236)" d="M50.6 41.5h3v3h-3zM26.6 53.5h3v3h-3zM86.6 71.5h3v3h-3zM80.6 86.5h3v3h-3zM59.6 98.5h3v3h-3zM59.6 113.5h3v3h-3zM20.6 116.5h3v3h-3zM23.6 116.5h3v3h-3zM29.6 116.5h3v3h-3zM65.6 116.5h3v3h-3zM56.6 125.5h3v3h-3zM53.6 128.5h3v3h-3zM38.6 131.5h3v3h-3zM38.6 134.5h3v3h-3zM41.6 134.5h3v3h-3zM95.6 167.5h3v3h-3zM71.6 170.5h3v3h-3zM41.6 185.5h3v3h-3z"/><path fill="rgb(240,240,240)" d="M50.6 47.5h3v3h-3zM23.6 53.5h3v3h-3zM20.6 59.5h3v3h-3zM23.6 59.5h3v3h-3zM20.6 62.5h3v3h-3zM89.6 68.5h3v3h-3zM92.6 86.5h3v3h-3zM32.6 89.5h3v3h-3zM59.6 116.5h3v3h-3zM56.6 122.5h3v3h-3zM62.6 128.5h3v3h-3zM29.6 140.5h3v3h-3zM65.6 176.5h3v3h-3zM68.6 176.5h3v3h-3zM23.6 185.5h3v3h-3z"/><path fill="rgb(244,244,244)" d="M56.6 53.5h3v3h-3zM17.6 56.5h3v3h-3zM17.6 59.5h3v3h-3zM26.6 86.5h3v3h-3zM89.6 98.5h3v3h-3zM59.6 101.5h3v3h-3zM59.6 119.5h3v3h-3zM23.6 122.5h3v3h-3zM50.6 128.5h3v3h-3zM59.6 134.5h3v3h-3zM86.6 134.5h3v3h-3zM53.6 155.5h3v3h-3zM104.6 185.5h3v3h-3z"/><path fill="rgb(248,248,248)" d="M20.6 56.5h3v3h-3zM77.6 80.5h3v3h-3zM26.6 116.5h3v3h-3zM47.6 122.5h3v3h-3zM59.6 131.5h3v3h-3zM86.6 131.5h3v3h-3zM53.6 152.5h3v3h-3zM38.6 173.5h3v3h-3zM38.6 176.5h3v3h-3z"/><path fill="rgb(252,252,252)" d="M29.6 38.5h3v3h-3zM41.6 38.5h3v3h-3zM44.6 38.5h3v3h-3zM53.6 38.5h3v3h-3zM86.6 38.5h3v3h-3zM92.6 38.5h3v3h-3zM14.6 44.5h3v3h-3zM50.6 50.5h3v3h-3zM53.6 50.5h3v3h-3zM56.6 50.5h3v3h-3zM14.6 56.5h3v3h-3zM23.6 56.5h3v3h-3zM14.6 59.5h3v3h-3zM104.6 71.5h3v3h-3zM65.6 80.5h3v3h-3zM71.6 80.5h3v3h-3zM29.6 86.5h3v3h-3zM47.6 86.5h3v3h-3zM50.6 86.5h3v3h-3zM74.6 86.5h3v3h-3zM77.6 86.5h3v3h-3zM29.6 89.5h3v3h-3zM77.6 89.5h3v3h-3zM80.6 89.5h3v3h-3zM14.6 92.5h3v3h-3zM14.6 95.5h3v3h-3zM14.6 104.5h3v3h-3zM14.6 110.5h3v3h-3zM44.6 110.5h3v3h-3zM20.6 119.5h3v3h-3zM23.6 119.5h3v3h-3zM56.6 119.5h3v3h-3zM20.6 122.5h3v3h-3zM62.6 131.5h3v3h-3zM104.6 131.5h3v3h-3zM62.6 134.5h3v3h-3zM14.6 143.5h3v3h-3zM104.6 143.5h3v3h-3zM86.6 149.5h3v3h-3zM50.6 152.5h3v3h-3zM104.6 152.5h3v3h-3zM50.6 155.5h3v3h-3zM44.6 167.5h3v3h-3zM47.6 167.5h3v3h-3zM14.6 170.5h3v3h-3zM44.6 170.5h3v3h-3zM14.6 173.5h3v3h-3zM104.6 173.5h3v3h-3zM59.6 185.5h3v3h-3zM74.6 185.5h3v3h-3zM92.6 185.5h3v3h-3z"/></g></g><rect x="120.1" y="41" width="20.1" height="143.6" fill="url(#g0)"/><path d="M120.6 41V184.6M139.7 41V184.6" stroke="#444" stroke-width="1"/><path d="M139.7 41V184.6" stroke="#8a8a8a" stroke-width="1"/><path d="M120.1 40.6H140.2" stroke="#e8505a" stroke-width="1.6"/><g clip-path="url(#c1)"><g filter="url(#bl1)"><path fill="rgb(60,60,60)" d="M202.8 38.5h3v3h-3zM244.8 38.5h3v3h-3zM199.8 47.5h3v3h-3zM199.8 53.5h3v3h-3zM289.8 119.5h3v3h-3zM289.8 140.5h3v3h-3zM289.8 179.5h3v3h-3z"/><path fill="rgb(64,64,64)" d="M235.8 38.5h3v3h-3zM289.8 38.5h3v3h-3zM289.8 56.5h3v3h-3z"/><path fill="rgb(68,68,68)" d="M289.8 125.5h3v3h-3z"/><path fill="rgb(76,76,76)" d="M244.8 41.5h3v3h-3zM199.8 179.5h3v3h-3z"/><path fill="rgb(80,80,80)" d="M271.8 38.5h3v3h-3zM199.8 41.5h3v3h-3zM289.8 47.5h3v3h-3z"/><path fill="rgb(84,84,84)" d="M241.8 44.5h3v3h-3zM199.8 122.5h3v3h-3zM262.8 185.5h3v3h-3z"/><path fill="rgb(88,88,88)" d="M241.8 41.5h3v3h-3zM289.8 50.5h3v3h-3zM289.8 107.5h3v3h-3z"/><path fill="rgb(92,92,92)" d="M244.8 44.5h3v3h-3zM271.8 44.5h3v3h-3z"/><path fill="rgb(96,96,96)" d="M256.8 38.5h3v3h-3zM268.8 44.5h3v3h-3zM289.8 182.5h3v3h-3z"/><path fill="rgb(100,100,100)" d="M199.8 71.5h3v3h-3zM289.8 167.5h3v3h-3z"/><path fill="rgb(104,104,104)" d="M199.8 77.5h3v3h-3zM289.8 122.5h3v3h-3zM289.8 128.5h3v3h-3zM286.8 185.5h3v3h-3z"/><path fill="rgb(108,108,108)" d="M199.8 92.5h3v3h-3zM199.8 116.5h3v3h-3zM220.8 185.5h3v3h-3z"/><path fill="rgb(112,112,112)" d="M289.8 74.5h3v3h-3zM199.8 149.5h3v3h-3zM205.8 185.5h3v3h-3z"/><path fill="rgb(116,116,116)" d="M202.8 41.5h3v3h-3zM289.8 89.5h3v3h-3zM199.8 95.5h3v3h-3zM286.8 125.5h3v3h-3zM217.8 185.5h3v3h-3z"/><path fill="rgb(120,120,120)" d="M229.8 38.5h3v3h-3zM271.8 41.5h3v3h-3zM286.8 89.5h3v3h-3zM202.8 134.5h3v3h-3zM289.8 161.5h3v3h-3zM286.8 179.5h3v3h-3z"/><path fill="rgb(124,124,124)" d="M199.8 38.5h3v3h-3zM202.8 71.5h3v3h-3zM199.8 104.5h3v3h-3zM283.8 125.5h3v3h-3zM283.8 128.5h3v3h-3zM289.8 149.5h3v3h-3zM199.8 185.5h3v3h-3zM283.8 185.5h3v3h-3z"/><path fill="rgb(128,128,128)" d="M289.8 77.5h3v3h-3zM199.8 89.5h3v3h-3zM289.8 137.5h3v3h-3zM283.8 146.5h3v3h-3z"/><path fill="rgb(132,132,132)" d="M286.8 47.5h3v3h-3zM286.8 50.5h3v3h-3zM283.8 62.5h3v3h-3zM205.8 74.5h3v3h-3zM205.8 95.5h3v3h-3zM286.8 128.5h3v3h-3zM283.8 131.5h3v3h-3zM199.8 134.5h3v3h-3zM205.8 140.5h3v3h-3zM205.8 143.5h3v3h-3z"/><path fill="rgb(136,136,136)" d="M202.8 47.5h3v3h-3zM199.8 59.5h3v3h-3zM205.8 71.5h3v3h-3zM205.8 98.5h3v3h-3zM289.8 143.5h3v3h-3zM289.8 152.5h3v3h-3zM226.8 185.5h3v3h-3zM238.8 185.5h3v3h-3zM259.8 185.5h3v3h-3z"/><path fill="rgb(140,140,140)" d="M268.8 41.5h3v3h-3zM286.8 44.5h3v3h-3zM280.8 59.5h3v3h-3zM205.8 65.5h3v3h-3zM283.8 65.5h3v3h-3zM283.8 104.5h3v3h-3zM283.8 134.5h3v3h-3zM202.8 137.5h3v3h-3zM202.8 140.5h3v3h-3z"/><path fill="rgb(144,144,144)" d="M238.8 44.5h3v3h-3zM271.8 47.5h3v3h-3zM280.8 62.5h3v3h-3zM280.8 74.5h3v3h-3zM280.8 77.5h3v3h-3zM199.8 86.5h3v3h-3zM202.8 89.5h3v3h-3zM283.8 89.5h3v3h-3zM205.8 137.5h3v3h-3zM280.8 146.5h3v3h-3zM199.8 155.5h3v3h-3zM229.8 173.5h3v3h-3zM223.8 185.5h3v3h-3z"/><path fill="rgb(148,148,148)" d="M241.8 38.5h3v3h-3zM238.8 41.5h3v3h-3zM247.8 41.5h3v3h-3zM247.8 44.5h3v3h-3zM202.8 80.5h3v3h-3zM283.8 110.5h3v3h-3zM283.8 113.5h3v3h-3zM283.8 119.5h3v3h-3zM202.8 131.5h3v3h-3zM205.8 134.5h3v3h-3zM280.8 137.5h3v3h-3zM283.8 143.5h3v3h-3zM286.8 167.5h3v3h-3zM223.8 173.5h3v3h-3zM202.8 179.5h3v3h-3zM274.8 182.5h3v3h-3zM283.8 182.5h3v3h-3z"/><path fill="rgb(152,152,152)" d="M283.8 50.5h3v3h-3zM202.8 65.5h3v3h-3zM202.8 68.5h3v3h-3zM205.8 68.5h3v3h-3zM283.8 74.5h3v3h-3zM283.8 98.5h3v3h-3zM280.8 107.5h3v3h-3zM283.8 107.5h3v3h-3zM199.8 113.5h3v3h-3zM199.8 119.5h3v3h-3zM286.8 122.5h3v3h-3zM205.8 131.5h3v3h-3zM280.8 131.5h3v3h-3zM289.8 131.5h3v3h-3zM283.8 137.5h3v3h-3zM286.8 140.5h3v3h-3zM202.8 143.5h3v3h-3zM286.8 143.5h3v3h-3zM283.8 167.5h3v3h-3zM283.8 176.5h3v3h-3zM253.8 182.5h3v3h-3zM271.8 182.5h3v3h-3zM277.8 182.5h3v3h-3zM271.8 185.5h3v3h-3z"/><path fill="rgb(156,156,156)" d="M238.8 38.5h3v3h-3zM253.8 38.5h3v3h-3zM283.8 44.5h3v3h-3zM202.8 59.5h3v3h-3zM202.8 77.5h3v3h-3zM199.8 80.5h3v3h-3zM202.8 95.5h3v3h-3zM286.8 95.5h3v3h-3zM283.8 101.5h3v3h-3zM205.8 104.5h3v3h-3zM283.8 122.5h3v3h-3zM280.8 140.5h3v3h-3zM283.8 149.5h3v3h-3zM199.8 167.5h3v3h-3zM229.8 170.5h3v3h-3zM208.8 173.5h3v3h-3zM286.8 176.5h3v3h-3zM205.8 182.5h3v3h-3zM262.8 182.5h3v3h-3zM286.8 182.5h3v3h-3zM274.8 185.5h3v3h-3zM277.8 185.5h3v3h-3z"/><path fill="rgb(160,160,160)" d="M211.8 38.5h3v3h-3zM217.8 44.5h3v3h-3zM265.8 44.5h3v3h-3zM274.8 47.5h3v3h-3zM283.8 59.5h3v3h-3zM205.8 89.5h3v3h-3zM286.8 92.5h3v3h-3zM205.8 101.5h3v3h-3zM280.8 104.5h3v3h-3zM286.8 119.5h3v3h-3zM280.8 128.5h3v3h-3zM280.8 143.5h3v3h-3zM232.8 170.5h3v3h-3zM232.8 173.5h3v3h-3zM262.8 173.5h3v3h-3zM199.8 176.5h3v3h-3zM211.8 176.5h3v3h-3zM256.8 182.5h3v3h-3z"/><path fill="rgb(164,164,164)" d="M286.8 41.5h3v3h-3zM220.8 44.5h3v3h-3zM205.8 47.5h3v3h-3zM220.8 47.5h3v3h-3zM286.8 74.5h3v3h-3zM205.8 77.5h3v3h-3zM283.8 77.5h3v3h-3zM286.8 77.5h3v3h-3zM202.8 83.5h3v3h-3zM280.8 110.5h3v3h-3zM283.8 116.5h3v3h-3zM280.8 134.5h3v3h-3zM286.8 146.5h3v3h-3zM289.8 155.5h3v3h-3zM205.8 158.5h3v3h-3zM280.8 161.5h3v3h-3zM283.8 161.5h3v3h-3zM205.8 173.5h3v3h-3zM253.8 173.5h3v3h-3zM283.8 179.5h3v3h-3zM280.8 182.5h3v3h-3zM265.8 185.5h3v3h-3z"/><path fill="rgb(168,168,168)" d="M208.8 44.5h3v3h-3zM217.8 47.5h3v3h-3zM283.8 47.5h3v3h-3zM289.8 62.5h3v3h-3zM280.8 65.5h3v3h-3zM202.8 74.5h3v3h-3zM289.8 83.5h3v3h-3zM283.8 86.5h3v3h-3zM202.8 92.5h3v3h-3zM199.8 125.5h3v3h-3zM280.8 125.5h3v3h-3zM283.8 140.5h3v3h-3zM259.8 182.5h3v3h-3zM229.8 185.5h3v3h-3zM235.8 185.5h3v3h-3zM289.8 185.5h3v3h-3z"/><path fill="rgb(172,172,172)" d="M247.8 38.5h3v3h-3zM259.8 38.5h3v3h-3zM274.8 41.5h3v3h-3zM274.8 44.5h3v3h-3zM199.8 65.5h3v3h-3zM202.8 86.5h3v3h-3zM280.8 89.5h3v3h-3zM286.8 113.5h3v3h-3zM280.8 119.5h3v3h-3zM286.8 131.5h3v3h-3zM202.8 146.5h3v3h-3zM205.8 146.5h3v3h-3zM226.8 173.5h3v3h-3zM280.8 176.5h3v3h-3zM226.8 179.5h3v3h-3zM253.8 179.5h3v3h-3zM256.8 179.5h3v3h-3zM202.8 182.5h3v3h-3zM211.8 182.5h3v3h-3zM238.8 182.5h3v3h-3zM268.8 185.5h3v3h-3z"/><path fill="rgb(176,176,176)" d="M205.8 41.5h3v3h-3zM202.8 44.5h3v3h-3zM250.8 44.5h3v3h-3zM202.8 62.5h3v3h-3zM205.8 92.5h3v3h-3zM199.8 98.5h3v3h-3zM286.8 98.5h3v3h-3zM205.8 110.5h3v3h-3zM280.8 113.5h3v3h-3zM289.8 113.5h3v3h-3zM280.8 158.5h3v3h-3zM283.8 158.5h3v3h-3zM205.8 161.5h3v3h-3zM286.8 161.5h3v3h-3zM205.8 164.5h3v3h-3zM280.8 167.5h3v3h-3zM202.8 176.5h3v3h-3zM253.8 176.5h3v3h-3zM250.8 179.5h3v3h-3zM226.8 182.5h3v3h-3zM265.8 182.5h3v3h-3z"/><path fill="rgb(180,180,180)" d="M268.8 38.5h3v3h-3zM283.8 41.5h3v3h-3zM205.8 44.5h3v3h-3zM211.8 44.5h3v3h-3zM214.8 44.5h3v3h-3zM268.8 47.5h3v3h-3zM205.8 50.5h3v3h-3zM280.8 50.5h3v3h-3zM289.8 53.5h3v3h-3zM286.8 56.5h3v3h-3zM205.8 62.5h3v3h-3zM286.8 62.5h3v3h-3zM286.8 71.5h3v3h-3zM280.8 86.5h3v3h-3zM286.8 86.5h3v3h-3zM283.8 95.5h3v3h-3zM286.8 107.5h3v3h-3zM205.8 113.5h3v3h-3zM286.8 137.5h3v3h-3zM199.8 146.5h3v3h-3zM199.8 152.5h3v3h-3zM202.8 155.5h3v3h-3zM205.8 155.5h3v3h-3zM283.8 164.5h3v3h-3zM283.8 170.5h3v3h-3zM277.8 173.5h3v3h-3zM280.8 173.5h3v3h-3zM283.8 173.5h3v3h-3zM214.8 176.5h3v3h-3zM211.8 179.5h3v3h-3zM223.8 182.5h3v3h-3zM268.8 182.5h3v3h-3z"/><path fill="rgb(184,184,184)" d="M208.8 41.5h3v3h-3zM241.8 47.5h3v3h-3zM247.8 47.5h3v3h-3zM280.8 56.5h3v3h-3zM286.8 68.5h3v3h-3zM283.8 71.5h3v3h-3zM202.8 98.5h3v3h-3zM280.8 98.5h3v3h-3zM205.8 107.5h3v3h-3zM202.8 113.5h3v3h-3zM280.8 164.5h3v3h-3zM205.8 167.5h3v3h-3zM280.8 170.5h3v3h-3zM220.8 173.5h3v3h-3zM256.8 173.5h3v3h-3zM208.8 176.5h3v3h-3zM226.8 176.5h3v3h-3zM256.8 176.5h3v3h-3zM277.8 176.5h3v3h-3z"/><path fill="rgb(188,188,188)" d="M265.8 41.5h3v3h-3zM223.8 44.5h3v3h-3zM235.8 44.5h3v3h-3zM223.8 47.5h3v3h-3zM244.8 47.5h3v3h-3zM265.8 47.5h3v3h-3zM202.8 50.5h3v3h-3zM202.8 53.5h3v3h-3zM286.8 53.5h3v3h-3zM286.8 65.5h3v3h-3zM283.8 68.5h3v3h-3zM280.8 71.5h3v3h-3zM280.8 83.5h3v3h-3zM205.8 86.5h3v3h-3zM283.8 92.5h3v3h-3zM202.8 104.5h3v3h-3zM280.8 116.5h3v3h-3zM202.8 119.5h3v3h-3zM280.8 122.5h3v3h-3zM199.8 128.5h3v3h-3zM202.8 128.5h3v3h-3zM289.8 146.5h3v3h-3zM202.8 149.5h3v3h-3zM286.8 149.5h3v3h-3zM280.8 155.5h3v3h-3zM202.8 158.5h3v3h-3zM286.8 158.5h3v3h-3zM250.8 173.5h3v3h-3zM229.8 176.5h3v3h-3zM250.8 176.5h3v3h-3zM229.8 179.5h3v3h-3zM274.8 179.5h3v3h-3zM208.8 182.5h3v3h-3zM235.8 182.5h3v3h-3zM232.8 185.5h3v3h-3z"/><path fill="rgb(192,192,192)" d="M265.8 38.5h3v3h-3zM250.8 47.5h3v3h-3zM280.8 53.5h3v3h-3zM280.8 80.5h3v3h-3zM205.8 83.5h3v3h-3zM286.8 83.5h3v3h-3zM280.8 101.5h3v3h-3zM286.8 104.5h3v3h-3zM199.8 110.5h3v3h-3zM286.8 110.5h3v3h-3zM202.8 116.5h3v3h-3zM202.8 122.5h3v3h-3zM286.8 134.5h3v3h-3zM205.8 149.5h3v3h-3zM280.8 149.5h3v3h-3zM202.8 152.5h3v3h-3zM286.8 155.5h3v3h-3zM202.8 161.5h3v3h-3zM229.8 167.5h3v3h-3zM232.8 167.5h3v3h-3zM205.8 170.5h3v3h-3zM202.8 173.5h3v3h-3zM265.8 173.5h3v3h-3zM274.8 173.5h3v3h-3zM205.8 176.5h3v3h-3zM223.8 176.5h3v3h-3zM274.8 176.5h3v3h-3zM271.8 179.5h3v3h-3zM277.8 179.5h3v3h-3z"/><path fill="rgb(196,196,196)" d="M211.8 41.5h3v3h-3zM226.8 41.5h3v3h-3zM235.8 41.5h3v3h-3zM280.8 47.5h3v3h-3zM202.8 56.5h3v3h-3zM286.8 59.5h3v3h-3zM208.8 65.5h3v3h-3zM199.8 74.5h3v3h-3zM205.8 80.5h3v3h-3zM280.8 95.5h3v3h-3zM202.8 110.5h3v3h-3zM289.8 110.5h3v3h-3zM205.8 128.5h3v3h-3zM277.8 137.5h3v3h-3zM205.8 152.5h3v3h-3zM262.8 170.5h3v3h-3zM205.8 179.5h3v3h-3zM214.8 179.5h3v3h-3zM262.8 179.5h3v3h-3zM280.8 179.5h3v3h-3zM214.8 182.5h3v3h-3zM250.8 182.5h3v3h-3zM280.8 185.5h3v3h-3z"/><path fill="rgb(200,200,200)" d="M223.8 41.5h3v3h-3zM226.8 44.5h3v3h-3zM280.8 44.5h3v3h-3zM208.8 47.5h3v3h-3zM283.8 53.5h3v3h-3zM199.8 83.5h3v3h-3zM280.8 92.5h3v3h-3zM208.8 104.5h3v3h-3zM277.8 107.5h3v3h-3zM202.8 125.5h3v3h-3zM208.8 134.5h3v3h-3zM286.8 164.5h3v3h-3zM235.8 170.5h3v3h-3zM211.8 173.5h3v3h-3zM259.8 173.5h3v3h-3zM238.8 179.5h3v3h-3zM241.8 179.5h3v3h-3z"/><path fill="rgb(204,204,204)" d="M214.8 38.5h3v3h-3zM214.8 41.5h3v3h-3zM229.8 44.5h3v3h-3zM226.8 47.5h3v3h-3zM235.8 47.5h3v3h-3zM238.8 47.5h3v3h-3zM277.8 47.5h3v3h-3zM283.8 56.5h3v3h-3zM205.8 59.5h3v3h-3zM208.8 77.5h3v3h-3zM208.8 83.5h3v3h-3zM208.8 86.5h3v3h-3zM208.8 89.5h3v3h-3zM286.8 101.5h3v3h-3zM277.8 104.5h3v3h-3zM208.8 137.5h3v3h-3zM277.8 140.5h3v3h-3zM208.8 143.5h3v3h-3zM283.8 155.5h3v3h-3zM217.8 167.5h3v3h-3zM223.8 167.5h3v3h-3zM208.8 170.5h3v3h-3zM241.8 170.5h3v3h-3zM244.8 170.5h3v3h-3zM277.8 170.5h3v3h-3zM232.8 176.5h3v3h-3zM223.8 179.5h3v3h-3zM232.8 179.5h3v3h-3zM235.8 179.5h3v3h-3zM244.8 179.5h3v3h-3zM202.8 185.5h3v3h-3z"/><path fill="rgb(208,208,208)" d="M280.8 41.5h3v3h-3zM214.8 47.5h3v3h-3zM262.8 47.5h3v3h-3zM208.8 62.5h3v3h-3zM277.8 62.5h3v3h-3zM289.8 71.5h3v3h-3zM208.8 74.5h3v3h-3zM283.8 83.5h3v3h-3zM277.8 89.5h3v3h-3zM289.8 95.5h3v3h-3zM277.8 110.5h3v3h-3zM277.8 113.5h3v3h-3zM280.8 152.5h3v3h-3zM208.8 164.5h3v3h-3zM208.8 167.5h3v3h-3zM226.8 167.5h3v3h-3zM217.8 170.5h3v3h-3zM226.8 170.5h3v3h-3zM238.8 170.5h3v3h-3zM247.8 170.5h3v3h-3zM265.8 170.5h3v3h-3zM286.8 170.5h3v3h-3zM217.8 173.5h3v3h-3zM235.8 173.5h3v3h-3zM286.8 173.5h3v3h-3zM241.8 176.5h3v3h-3zM244.8 176.5h3v3h-3zM265.8 179.5h3v3h-3zM229.8 182.5h3v3h-3zM253.8 185.5h3v3h-3z"/><path fill="rgb(212,212,212)" d="M277.8 38.5h3v3h-3zM220.8 41.5h3v3h-3zM250.8 41.5h3v3h-3zM277.8 41.5h3v3h-3zM289.8 41.5h3v3h-3zM256.8 44.5h3v3h-3zM211.8 47.5h3v3h-3zM229.8 47.5h3v3h-3zM256.8 47.5h3v3h-3zM205.8 56.5h3v3h-3zM208.8 56.5h3v3h-3zM277.8 59.5h3v3h-3zM277.8 86.5h3v3h-3zM277.8 92.5h3v3h-3zM277.8 95.5h3v3h-3zM208.8 98.5h3v3h-3zM202.8 101.5h3v3h-3zM289.8 101.5h3v3h-3zM202.8 107.5h3v3h-3zM208.8 107.5h3v3h-3zM286.8 116.5h3v3h-3zM205.8 125.5h3v3h-3zM208.8 131.5h3v3h-3zM277.8 134.5h3v3h-3zM208.8 140.5h3v3h-3zM277.8 146.5h3v3h-3zM283.8 152.5h3v3h-3zM202.8 164.5h3v3h-3zM202.8 167.5h3v3h-3zM214.8 167.5h3v3h-3zM220.8 167.5h3v3h-3zM235.8 167.5h3v3h-3zM250.8 170.5h3v3h-3zM259.8 170.5h3v3h-3zM199.8 173.5h3v3h-3zM247.8 173.5h3v3h-3zM247.8 176.5h3v3h-3zM262.8 176.5h3v3h-3zM208.8 179.5h3v3h-3zM220.8 182.5h3v3h-3z"/><path fill="rgb(216,216,216)" d="M274.8 38.5h3v3h-3zM217.8 41.5h3v3h-3zM253.8 44.5h3v3h-3zM262.8 44.5h3v3h-3zM217.8 50.5h3v3h-3zM220.8 50.5h3v3h-3zM247.8 50.5h3v3h-3zM274.8 50.5h3v3h-3zM277.8 65.5h3v3h-3zM286.8 80.5h3v3h-3zM208.8 95.5h3v3h-3zM199.8 101.5h3v3h-3zM208.8 110.5h3v3h-3zM208.8 113.5h3v3h-3zM205.8 116.5h3v3h-3zM205.8 119.5h3v3h-3zM205.8 122.5h3v3h-3zM208.8 122.5h3v3h-3zM277.8 128.5h3v3h-3zM211.8 167.5h3v3h-3zM262.8 167.5h3v3h-3zM223.8 170.5h3v3h-3zM250.8 185.5h3v3h-3z"/><path fill="rgb(220,220,220)" d="M229.8 41.5h3v3h-3zM289.8 44.5h3v3h-3zM235.8 50.5h3v3h-3zM250.8 50.5h3v3h-3zM271.8 50.5h3v3h-3zM277.8 50.5h3v3h-3zM199.8 62.5h3v3h-3zM280.8 68.5h3v3h-3zM277.8 74.5h3v3h-3zM208.8 80.5h3v3h-3zM289.8 92.5h3v3h-3zM208.8 101.5h3v3h-3zM208.8 116.5h3v3h-3zM277.8 125.5h3v3h-3zM277.8 131.5h3v3h-3zM277.8 143.5h3v3h-3zM286.8 152.5h3v3h-3zM259.8 167.5h3v3h-3zM253.8 170.5h3v3h-3zM271.8 176.5h3v3h-3zM247.8 179.5h3v3h-3z"/><path fill="rgb(224,224,224)" d="M205.8 38.5h3v3h-3zM253.8 41.5h3v3h-3zM256.8 41.5h3v3h-3zM208.8 50.5h3v3h-3zM223.8 50.5h3v3h-3zM232.8 50.5h3v3h-3zM256.8 50.5h3v3h-3zM265.8 50.5h3v3h-3zM205.8 53.5h3v3h-3zM208.8 53.5h3v3h-3zM208.8 68.5h3v3h-3zM277.8 71.5h3v3h-3zM277.8 77.5h3v3h-3zM208.8 92.5h3v3h-3zM277.8 98.5h3v3h-3zM277.8 101.5h3v3h-3zM277.8 116.5h3v3h-3zM208.8 119.5h3v3h-3zM208.8 125.5h3v3h-3zM208.8 146.5h3v3h-3zM208.8 158.5h3v3h-3zM202.8 170.5h3v3h-3zM238.8 173.5h3v3h-3zM259.8 179.5h3v3h-3zM268.8 179.5h3v3h-3z"/><path fill="rgb(228,228,228)" d="M223.8 38.5h3v3h-3zM226.8 38.5h3v3h-3zM286.8 38.5h3v3h-3zM277.8 44.5h3v3h-3zM232.8 47.5h3v3h-3zM259.8 47.5h3v3h-3zM226.8 50.5h3v3h-3zM229.8 50.5h3v3h-3zM277.8 53.5h3v3h-3zM208.8 59.5h3v3h-3zM208.8 71.5h3v3h-3zM283.8 80.5h3v3h-3zM277.8 83.5h3v3h-3zM208.8 128.5h3v3h-3zM208.8 149.5h3v3h-3zM277.8 152.5h3v3h-3zM208.8 155.5h3v3h-3zM211.8 164.5h3v3h-3zM214.8 164.5h3v3h-3zM217.8 164.5h3v3h-3zM229.8 164.5h3v3h-3zM232.8 164.5h3v3h-3zM262.8 164.5h3v3h-3zM244.8 167.5h3v3h-3zM265.8 167.5h3v3h-3zM277.8 167.5h3v3h-3zM220.8 170.5h3v3h-3zM256.8 170.5h3v3h-3zM274.8 170.5h3v3h-3zM214.8 173.5h3v3h-3zM271.8 173.5h3v3h-3zM238.8 176.5h3v3h-3zM289.8 176.5h3v3h-3zM217.8 182.5h3v3h-3zM232.8 182.5h3v3h-3z"/><path fill="rgb(232,232,232)" d="M208.8 38.5h3v3h-3zM253.8 47.5h3v3h-3zM244.8 50.5h3v3h-3zM262.8 50.5h3v3h-3zM268.8 50.5h3v3h-3zM277.8 56.5h3v3h-3zM277.8 80.5h3v3h-3zM289.8 134.5h3v3h-3zM208.8 161.5h3v3h-3zM277.8 161.5h3v3h-3zM220.8 164.5h3v3h-3zM223.8 164.5h3v3h-3zM226.8 164.5h3v3h-3zM235.8 164.5h3v3h-3zM250.8 164.5h3v3h-3zM253.8 164.5h3v3h-3zM259.8 164.5h3v3h-3zM265.8 164.5h3v3h-3zM277.8 164.5h3v3h-3zM247.8 167.5h3v3h-3zM241.8 173.5h3v3h-3zM244.8 173.5h3v3h-3zM217.8 176.5h3v3h-3zM235.8 176.5h3v3h-3zM265.8 176.5h3v3h-3z"/><path fill="rgb(236,236,236)" d="M262.8 41.5h3v3h-3zM232.8 44.5h3v3h-3zM259.8 44.5h3v3h-3zM211.8 50.5h3v3h-3zM214.8 50.5h3v3h-3zM238.8 50.5h3v3h-3zM259.8 50.5h3v3h-3zM277.8 68.5h3v3h-3zM289.8 98.5h3v3h-3zM277.8 119.5h3v3h-3zM277.8 122.5h3v3h-3zM199.8 131.5h3v3h-3zM277.8 149.5h3v3h-3zM277.8 155.5h3v3h-3zM244.8 164.5h3v3h-3zM247.8 164.5h3v3h-3zM256.8 164.5h3v3h-3zM268.8 164.5h3v3h-3zM238.8 167.5h3v3h-3zM250.8 167.5h3v3h-3zM256.8 167.5h3v3h-3zM220.8 176.5h3v3h-3zM241.8 182.5h3v3h-3zM247.8 185.5h3v3h-3z"/><path fill="rgb(240,240,240)" d="M262.8 38.5h3v3h-3zM199.8 50.5h3v3h-3zM241.8 50.5h3v3h-3zM253.8 50.5h3v3h-3zM289.8 59.5h3v3h-3zM289.8 68.5h3v3h-3zM223.8 101.5h3v3h-3zM214.8 116.5h3v3h-3zM217.8 116.5h3v3h-3zM229.8 158.5h3v3h-3zM238.8 164.5h3v3h-3zM271.8 164.5h3v3h-3zM241.8 167.5h3v3h-3zM253.8 167.5h3v3h-3zM199.8 170.5h3v3h-3zM211.8 170.5h3v3h-3zM214.8 170.5h3v3h-3zM268.8 170.5h3v3h-3zM271.8 170.5h3v3h-3zM208.8 185.5h3v3h-3zM211.8 185.5h3v3h-3z"/><path fill="rgb(244,244,244)" d="M229.8 53.5h3v3h-3zM232.8 53.5h3v3h-3zM235.8 53.5h3v3h-3zM226.8 56.5h3v3h-3zM229.8 56.5h3v3h-3zM223.8 59.5h3v3h-3zM226.8 59.5h3v3h-3zM229.8 59.5h3v3h-3zM232.8 59.5h3v3h-3zM220.8 62.5h3v3h-3zM223.8 62.5h3v3h-3zM226.8 62.5h3v3h-3zM229.8 62.5h3v3h-3zM223.8 65.5h3v3h-3zM271.8 65.5h3v3h-3zM217.8 77.5h3v3h-3zM220.8 77.5h3v3h-3zM271.8 77.5h3v3h-3zM268.8 80.5h3v3h-3zM271.8 80.5h3v3h-3zM247.8 83.5h3v3h-3zM250.8 83.5h3v3h-3zM259.8 86.5h3v3h-3zM262.8 86.5h3v3h-3zM265.8 86.5h3v3h-3zM274.8 86.5h3v3h-3zM262.8 89.5h3v3h-3zM274.8 89.5h3v3h-3zM262.8 92.5h3v3h-3zM265.8 92.5h3v3h-3zM226.8 98.5h3v3h-3zM229.8 98.5h3v3h-3zM232.8 98.5h3v3h-3zM235.8 98.5h3v3h-3zM268.8 98.5h3v3h-3zM220.8 101.5h3v3h-3zM226.8 101.5h3v3h-3zM271.8 101.5h3v3h-3zM220.8 104.5h3v3h-3zM223.8 104.5h3v3h-3zM259.8 104.5h3v3h-3zM274.8 104.5h3v3h-3zM199.8 107.5h3v3h-3zM232.8 107.5h3v3h-3zM235.8 107.5h3v3h-3zM238.8 107.5h3v3h-3zM259.8 107.5h3v3h-3zM262.8 107.5h3v3h-3zM232.8 110.5h3v3h-3zM235.8 110.5h3v3h-3zM238.8 110.5h3v3h-3zM241.8 110.5h3v3h-3zM262.8 110.5h3v3h-3zM274.8 110.5h3v3h-3zM214.8 113.5h3v3h-3zM217.8 113.5h3v3h-3zM235.8 113.5h3v3h-3zM238.8 113.5h3v3h-3zM241.8 113.5h3v3h-3zM244.8 113.5h3v3h-3zM250.8 113.5h3v3h-3zM271.8 113.5h3v3h-3zM274.8 113.5h3v3h-3zM229.8 116.5h3v3h-3zM232.8 116.5h3v3h-3zM250.8 116.5h3v3h-3zM214.8 119.5h3v3h-3zM217.8 119.5h3v3h-3zM229.8 119.5h3v3h-3zM232.8 119.5h3v3h-3zM250.8 119.5h3v3h-3zM265.8 119.5h3v3h-3zM268.8 119.5h3v3h-3zM259.8 128.5h3v3h-3zM238.8 131.5h3v3h-3zM211.8 134.5h3v3h-3zM238.8 134.5h3v3h-3zM211.8 137.5h3v3h-3zM235.8 137.5h3v3h-3zM238.8 137.5h3v3h-3zM241.8 137.5h3v3h-3zM244.8 137.5h3v3h-3zM262.8 137.5h3v3h-3zM265.8 137.5h3v3h-3zM238.8 140.5h3v3h-3zM241.8 140.5h3v3h-3zM244.8 140.5h3v3h-3zM256.8 140.5h3v3h-3zM235.8 143.5h3v3h-3zM229.8 146.5h3v3h-3zM232.8 146.5h3v3h-3zM235.8 146.5h3v3h-3zM214.8 149.5h3v3h-3zM235.8 149.5h3v3h-3zM265.8 149.5h3v3h-3zM208.8 152.5h3v3h-3zM229.8 155.5h3v3h-3zM232.8 155.5h3v3h-3zM235.8 155.5h3v3h-3zM226.8 158.5h3v3h-3zM232.8 158.5h3v3h-3zM277.8 158.5h3v3h-3zM229.8 161.5h3v3h-3zM232.8 161.5h3v3h-3zM250.8 161.5h3v3h-3zM253.8 161.5h3v3h-3zM259.8 161.5h3v3h-3zM241.8 164.5h3v3h-3zM274.8 164.5h3v3h-3zM268.8 167.5h3v3h-3zM274.8 167.5h3v3h-3zM259.8 176.5h3v3h-3zM214.8 185.5h3v3h-3z"/><path fill="rgb(248,248,248)" d="M232.8 38.5h3v3h-3zM259.8 41.5h3v3h-3zM211.8 53.5h3v3h-3zM214.8 53.5h3v3h-3zM217.8 53.5h3v3h-3zM220.8 53.5h3v3h-3zM223.8 53.5h3v3h-3zM226.8 53.5h3v3h-3zM238.8 53.5h3v3h-3zM244.8 53.5h3v3h-3zM247.8 53.5h3v3h-3zM250.8 53.5h3v3h-3zM256.8 53.5h3v3h-3zM265.8 53.5h3v3h-3zM268.8 53.5h3v3h-3zM271.8 53.5h3v3h-3zM274.8 53.5h3v3h-3zM199.8 56.5h3v3h-3zM211.8 56.5h3v3h-3zM214.8 56.5h3v3h-3zM217.8 56.5h3v3h-3zM220.8 56.5h3v3h-3zM223.8 56.5h3v3h-3zM232.8 56.5h3v3h-3zM235.8 56.5h3v3h-3zM238.8 56.5h3v3h-3zM244.8 56.5h3v3h-3zM247.8 56.5h3v3h-3zM250.8 56.5h3v3h-3zM253.8 56.5h3v3h-3zM256.8 56.5h3v3h-3zM259.8 56.5h3v3h-3zM262.8 56.5h3v3h-3zM265.8 56.5h3v3h-3zM268.8 56.5h3v3h-3zM211.8 59.5h3v3h-3zM214.8 59.5h3v3h-3zM217.8 59.5h3v3h-3zM220.8 59.5h3v3h-3zM235.8 59.5h3v3h-3zM238.8 59.5h3v3h-3zM241.8 59.5h3v3h-3zM244.8 59.5h3v3h-3zM247.8 59.5h3v3h-3zM250.8 59.5h3v3h-3zM256.8 59.5h3v3h-3zM259.8 59.5h3v3h-3zM262.8 59.5h3v3h-3zM211.8 62.5h3v3h-3zM214.8 62.5h3v3h-3zM217.8 62.5h3v3h-3zM232.8 62.5h3v3h-3zM235.8 62.5h3v3h-3zM238.8 62.5h3v3h-3zM247.8 62.5h3v3h-3zM250.8 62.5h3v3h-3zM253.8 62.5h3v3h-3zM256.8 62.5h3v3h-3zM259.8 62.5h3v3h-3zM268.8 62.5h3v3h-3zM271.8 62.5h3v3h-3zM274.8 62.5h3v3h-3zM211.8 65.5h3v3h-3zM220.8 65.5h3v3h-3zM226.8 65.5h3v3h-3zM229.8 65.5h3v3h-3zM232.8 65.5h3v3h-3zM235.8 65.5h3v3h-3zM238.8 65.5h3v3h-3zM247.8 65.5h3v3h-3zM250.8 65.5h3v3h-3zM259.8 65.5h3v3h-3zM268.8 65.5h3v3h-3zM274.8 65.5h3v3h-3zM214.8 68.5h3v3h-3zM217.8 68.5h3v3h-3zM223.8 68.5h3v3h-3zM226.8 68.5h3v3h-3zM229.8 68.5h3v3h-3zM232.8 68.5h3v3h-3zM235.8 68.5h3v3h-3zM238.8 68.5h3v3h-3zM241.8 68.5h3v3h-3zM244.8 68.5h3v3h-3zM247.8 68.5h3v3h-3zM250.8 68.5h3v3h-3zM262.8 68.5h3v3h-3zM271.8 68.5h3v3h-3zM274.8 68.5h3v3h-3zM214.8 71.5h3v3h-3zM217.8 71.5h3v3h-3zM226.8 71.5h3v3h-3zM232.8 71.5h3v3h-3zM235.8 71.5h3v3h-3zM238.8 71.5h3v3h-3zM241.8 71.5h3v3h-3zM247.8 71.5h3v3h-3zM250.8 71.5h3v3h-3zM253.8 71.5h3v3h-3zM274.8 71.5h3v3h-3zM214.8 74.5h3v3h-3zM217.8 74.5h3v3h-3zM220.8 74.5h3v3h-3zM226.8 74.5h3v3h-3zM229.8 74.5h3v3h-3zM232.8 74.5h3v3h-3zM235.8 74.5h3v3h-3zM238.8 74.5h3v3h-3zM250.8 74.5h3v3h-3zM253.8 74.5h3v3h-3zM271.8 74.5h3v3h-3zM274.8 74.5h3v3h-3zM214.8 77.5h3v3h-3zM223.8 77.5h3v3h-3zM238.8 77.5h3v3h-3zM241.8 77.5h3v3h-3zM247.8 77.5h3v3h-3zM250.8 77.5h3v3h-3zM253.8 77.5h3v3h-3zM256.8 77.5h3v3h-3zM259.8 77.5h3v3h-3zM265.8 77.5h3v3h-3zM268.8 77.5h3v3h-3zM274.8 77.5h3v3h-3zM214.8 80.5h3v3h-3zM217.8 80.5h3v3h-3zM220.8 80.5h3v3h-3zM223.8 80.5h3v3h-3zM241.8 80.5h3v3h-3zM244.8 80.5h3v3h-3zM247.8 80.5h3v3h-3zM250.8 80.5h3v3h-3zM253.8 80.5h3v3h-3zM259.8 80.5h3v3h-3zM265.8 80.5h3v3h-3zM274.8 80.5h3v3h-3zM211.8 83.5h3v3h-3zM214.8 83.5h3v3h-3zM217.8 83.5h3v3h-3zM232.8 83.5h3v3h-3zM235.8 83.5h3v3h-3zM241.8 83.5h3v3h-3zM244.8 83.5h3v3h-3zM253.8 83.5h3v3h-3zM259.8 83.5h3v3h-3zM262.8 83.5h3v3h-3zM265.8 83.5h3v3h-3zM268.8 83.5h3v3h-3zM271.8 83.5h3v3h-3zM274.8 83.5h3v3h-3zM211.8 86.5h3v3h-3zM214.8 86.5h3v3h-3zM232.8 86.5h3v3h-3zM235.8 86.5h3v3h-3zM238.8 86.5h3v3h-3zM241.8 86.5h3v3h-3zM244.8 86.5h3v3h-3zM247.8 86.5h3v3h-3zM250.8 86.5h3v3h-3zM268.8 86.5h3v3h-3zM271.8 86.5h3v3h-3zM211.8 89.5h3v3h-3zM214.8 89.5h3v3h-3zM232.8 89.5h3v3h-3zM235.8 89.5h3v3h-3zM238.8 89.5h3v3h-3zM241.8 89.5h3v3h-3zM244.8 89.5h3v3h-3zM247.8 89.5h3v3h-3zM250.8 89.5h3v3h-3zM259.8 89.5h3v3h-3zM265.8 89.5h3v3h-3zM271.8 89.5h3v3h-3zM214.8 92.5h3v3h-3zM217.8 92.5h3v3h-3zM223.8 92.5h3v3h-3zM226.8 92.5h3v3h-3zM229.8 92.5h3v3h-3zM232.8 92.5h3v3h-3zM235.8 92.5h3v3h-3zM247.8 92.5h3v3h-3zM250.8 92.5h3v3h-3zM259.8 92.5h3v3h-3zM274.8 92.5h3v3h-3zM223.8 95.5h3v3h-3zM226.8 95.5h3v3h-3zM229.8 95.5h3v3h-3zM232.8 95.5h3v3h-3zM235.8 95.5h3v3h-3zM259.8 95.5h3v3h-3zM262.8 95.5h3v3h-3zM265.8 95.5h3v3h-3zM268.8 95.5h3v3h-3zM271.8 95.5h3v3h-3zM274.8 95.5h3v3h-3zM214.8 98.5h3v3h-3zM220.8 98.5h3v3h-3zM223.8 98.5h3v3h-3zM238.8 98.5h3v3h-3zM265.8 98.5h3v3h-3zM271.8 98.5h3v3h-3zM274.8 98.5h3v3h-3zM214.8 101.5h3v3h-3zM217.8 101.5h3v3h-3zM229.8 101.5h3v3h-3zM232.8 101.5h3v3h-3zM235.8 101.5h3v3h-3zM238.8 101.5h3v3h-3zM247.8 101.5h3v3h-3zM250.8 101.5h3v3h-3zM253.8 101.5h3v3h-3zM256.8 101.5h3v3h-3zM259.8 101.5h3v3h-3zM268.8 101.5h3v3h-3zM274.8 101.5h3v3h-3zM217.8 104.5h3v3h-3zM226.8 104.5h3v3h-3zM235.8 104.5h3v3h-3zM238.8 104.5h3v3h-3zM241.8 104.5h3v3h-3zM253.8 104.5h3v3h-3zM256.8 104.5h3v3h-3zM262.8 104.5h3v3h-3zM265.8 104.5h3v3h-3zM271.8 104.5h3v3h-3zM211.8 107.5h3v3h-3zM214.8 107.5h3v3h-3zM217.8 107.5h3v3h-3zM220.8 107.5h3v3h-3zM223.8 107.5h3v3h-3zM226.8 107.5h3v3h-3zM229.8 107.5h3v3h-3zM241.8 107.5h3v3h-3zM250.8 107.5h3v3h-3zM253.8 107.5h3v3h-3zM256.8 107.5h3v3h-3zM265.8 107.5h3v3h-3zM271.8 107.5h3v3h-3zM274.8 107.5h3v3h-3zM211.8 110.5h3v3h-3zM214.8 110.5h3v3h-3zM217.8 110.5h3v3h-3zM220.8 110.5h3v3h-3zM244.8 110.5h3v3h-3zM247.8 110.5h3v3h-3zM250.8 110.5h3v3h-3zM253.8 110.5h3v3h-3zM256.8 110.5h3v3h-3zM259.8 110.5h3v3h-3zM265.8 110.5h3v3h-3zM271.8 110.5h3v3h-3zM211.8 113.5h3v3h-3zM220.8 113.5h3v3h-3zM232.8 113.5h3v3h-3zM247.8 113.5h3v3h-3zM253.8 113.5h3v3h-3zM262.8 113.5h3v3h-3zM265.8 113.5h3v3h-3zM268.8 113.5h3v3h-3zM211.8 116.5h3v3h-3zM220.8 116.5h3v3h-3zM226.8 116.5h3v3h-3zM235.8 116.5h3v3h-3zM238.8 116.5h3v3h-3zM241.8 116.5h3v3h-3zM247.8 116.5h3v3h-3zM253.8 116.5h3v3h-3zM262.8 116.5h3v3h-3zM265.8 116.5h3v3h-3zM268.8 116.5h3v3h-3zM271.8 116.5h3v3h-3zM274.8 116.5h3v3h-3zM211.8 119.5h3v3h-3zM226.8 119.5h3v3h-3zM235.8 119.5h3v3h-3zM238.8 119.5h3v3h-3zM247.8 119.5h3v3h-3zM253.8 119.5h3v3h-3zM256.8 119.5h3v3h-3zM259.8 119.5h3v3h-3zM262.8 119.5h3v3h-3zM271.8 119.5h3v3h-3zM211.8 122.5h3v3h-3zM214.8 122.5h3v3h-3zM217.8 122.5h3v3h-3zM220.8 122.5h3v3h-3zM226.8 122.5h3v3h-3zM229.8 122.5h3v3h-3zM241.8 122.5h3v3h-3zM247.8 122.5h3v3h-3zM250.8 122.5h3v3h-3zM253.8 122.5h3v3h-3zM268.8 122.5h3v3h-3zM271.8 122.5h3v3h-3zM220.8 125.5h3v3h-3zM226.8 125.5h3v3h-3zM241.8 125.5h3v3h-3zM244.8 125.5h3v3h-3zM247.8 125.5h3v3h-3zM250.8 125.5h3v3h-3zM253.8 125.5h3v3h-3zM256.8 125.5h3v3h-3zM259.8 125.5h3v3h-3zM274.8 125.5h3v3h-3zM211.8 128.5h3v3h-3zM214.8 128.5h3v3h-3zM217.8 128.5h3v3h-3zM220.8 128.5h3v3h-3zM226.8 128.5h3v3h-3zM238.8 128.5h3v3h-3zM241.8 128.5h3v3h-3zM244.8 128.5h3v3h-3zM250.8 128.5h3v3h-3zM253.8 128.5h3v3h-3zM256.8 128.5h3v3h-3zM271.8 128.5h3v3h-3zM274.8 128.5h3v3h-3zM211.8 131.5h3v3h-3zM214.8 131.5h3v3h-3zM241.8 131.5h3v3h-3zM244.8 131.5h3v3h-3zM256.8 131.5h3v3h-3zM259.8 131.5h3v3h-3zM268.8 131.5h3v3h-3zM271.8 131.5h3v3h-3zM274.8 131.5h3v3h-3zM214.8 134.5h3v3h-3zM217.8 134.5h3v3h-3zM229.8 134.5h3v3h-3zM232.8 134.5h3v3h-3zM235.8 134.5h3v3h-3zM241.8 134.5h3v3h-3zM244.8 134.5h3v3h-3zM247.8 134.5h3v3h-3zM256.8 134.5h3v3h-3zM259.8 134.5h3v3h-3zM268.8 134.5h3v3h-3zM274.8 134.5h3v3h-3zM199.8 137.5h3v3h-3zM214.8 137.5h3v3h-3zM217.8 137.5h3v3h-3zM220.8 137.5h3v3h-3zM223.8 137.5h3v3h-3zM226.8 137.5h3v3h-3zM229.8 137.5h3v3h-3zM232.8 137.5h3v3h-3zM247.8 137.5h3v3h-3zM250.8 137.5h3v3h-3zM253.8 137.5h3v3h-3zM256.8 137.5h3v3h-3zM259.8 137.5h3v3h-3zM268.8 137.5h3v3h-3zM271.8 137.5h3v3h-3zM274.8 137.5h3v3h-3zM211.8 140.5h3v3h-3zM223.8 140.5h3v3h-3zM226.8 140.5h3v3h-3zM229.8 140.5h3v3h-3zM235.8 140.5h3v3h-3zM247.8 140.5h3v3h-3zM250.8 140.5h3v3h-3zM253.8 140.5h3v3h-3zM259.8 140.5h3v3h-3zM262.8 140.5h3v3h-3zM265.8 140.5h3v3h-3zM268.8 140.5h3v3h-3zM271.8 140.5h3v3h-3zM274.8 140.5h3v3h-3zM211.8 143.5h3v3h-3zM214.8 143.5h3v3h-3zM217.8 143.5h3v3h-3zM220.8 143.5h3v3h-3zM223.8 143.5h3v3h-3zM226.8 143.5h3v3h-3zM229.8 143.5h3v3h-3zM232.8 143.5h3v3h-3zM238.8 143.5h3v3h-3zM241.8 143.5h3v3h-3zM244.8 143.5h3v3h-3zM250.8 143.5h3v3h-3zM253.8 143.5h3v3h-3zM256.8 143.5h3v3h-3zM259.8 143.5h3v3h-3zM265.8 143.5h3v3h-3zM268.8 143.5h3v3h-3zM214.8 146.5h3v3h-3zM217.8 146.5h3v3h-3zM220.8 146.5h3v3h-3zM226.8 146.5h3v3h-3zM250.8 146.5h3v3h-3zM253.8 146.5h3v3h-3zM256.8 146.5h3v3h-3zM259.8 146.5h3v3h-3zM262.8 146.5h3v3h-3zM265.8 146.5h3v3h-3zM268.8 146.5h3v3h-3zM211.8 149.5h3v3h-3zM217.8 149.5h3v3h-3zM229.8 149.5h3v3h-3zM232.8 149.5h3v3h-3zM259.8 149.5h3v3h-3zM262.8 149.5h3v3h-3zM268.8 149.5h3v3h-3zM211.8 152.5h3v3h-3zM214.8 152.5h3v3h-3zM217.8 152.5h3v3h-3zM220.8 152.5h3v3h-3zM235.8 152.5h3v3h-3zM256.8 152.5h3v3h-3zM259.8 152.5h3v3h-3zM262.8 152.5h3v3h-3zM265.8 152.5h3v3h-3zM268.8 152.5h3v3h-3zM271.8 152.5h3v3h-3zM274.8 152.5h3v3h-3zM211.8 155.5h3v3h-3zM214.8 155.5h3v3h-3zM217.8 155.5h3v3h-3zM220.8 155.5h3v3h-3zM223.8 155.5h3v3h-3zM226.8 155.5h3v3h-3zM238.8 155.5h3v3h-3zM247.8 155.5h3v3h-3zM256.8 155.5h3v3h-3zM259.8 155.5h3v3h-3zM268.8 155.5h3v3h-3zM271.8 155.5h3v3h-3zM211.8 158.5h3v3h-3zM217.8 158.5h3v3h-3zM220.8 158.5h3v3h-3zM223.8 158.5h3v3h-3zM235.8 158.5h3v3h-3zM238.8 158.5h3v3h-3zM247.8 158.5h3v3h-3zM250.8 158.5h3v3h-3zM253.8 158.5h3v3h-3zM265.8 158.5h3v3h-3zM268.8 158.5h3v3h-3zM271.8 158.5h3v3h-3zM211.8 161.5h3v3h-3zM214.8 161.5h3v3h-3zM217.8 161.5h3v3h-3zM220.8 161.5h3v3h-3zM223.8 161.5h3v3h-3zM226.8 161.5h3v3h-3zM235.8 161.5h3v3h-3zM238.8 161.5h3v3h-3zM241.8 161.5h3v3h-3zM244.8 161.5h3v3h-3zM247.8 161.5h3v3h-3zM256.8 161.5h3v3h-3zM262.8 161.5h3v3h-3zM265.8 161.5h3v3h-3zM268.8 161.5h3v3h-3zM271.8 161.5h3v3h-3zM274.8 161.5h3v3h-3zM271.8 167.5h3v3h-3zM220.8 179.5h3v3h-3z"/><path fill="rgb(252,252,252)" d="M217.8 38.5h3v3h-3zM220.8 38.5h3v3h-3zM250.8 38.5h3v3h-3zM280.8 38.5h3v3h-3zM283.8 38.5h3v3h-3zM232.8 41.5h3v3h-3zM199.8 44.5h3v3h-3zM241.8 53.5h3v3h-3zM253.8 53.5h3v3h-3zM259.8 53.5h3v3h-3zM262.8 53.5h3v3h-3zM241.8 56.5h3v3h-3zM271.8 56.5h3v3h-3zM274.8 56.5h3v3h-3zM253.8 59.5h3v3h-3zM265.8 59.5h3v3h-3zM268.8 59.5h3v3h-3zM271.8 59.5h3v3h-3zM274.8 59.5h3v3h-3zM241.8 62.5h3v3h-3zM244.8 62.5h3v3h-3zM262.8 62.5h3v3h-3zM265.8 62.5h3v3h-3zM214.8 65.5h3v3h-3zM217.8 65.5h3v3h-3zM241.8 65.5h3v3h-3zM244.8 65.5h3v3h-3zM253.8 65.5h3v3h-3zM256.8 65.5h3v3h-3zM262.8 65.5h3v3h-3zM265.8 65.5h3v3h-3zM289.8 65.5h3v3h-3zM199.8 68.5h3v3h-3zM211.8 68.5h3v3h-3zM220.8 68.5h3v3h-3zM253.8 68.5h3v3h-3zM256.8 68.5h3v3h-3zM259.8 68.5h3v3h-3zM265.8 68.5h3v3h-3zM268.8 68.5h3v3h-3zM211.8 71.5h3v3h-3zM220.8 71.5h3v3h-3zM223.8 71.5h3v3h-3zM229.8 71.5h3v3h-3zM244.8 71.5h3v3h-3zM256.8 71.5h3v3h-3zM259.8 71.5h3v3h-3zM262.8 71.5h3v3h-3zM265.8 71.5h3v3h-3zM268.8 71.5h3v3h-3zM271.8 71.5h3v3h-3zM211.8 74.5h3v3h-3zM223.8 74.5h3v3h-3zM241.8 74.5h3v3h-3zM244.8 74.5h3v3h-3zM247.8 74.5h3v3h-3zM256.8 74.5h3v3h-3zM259.8 74.5h3v3h-3zM262.8 74.5h3v3h-3zM265.8 74.5h3v3h-3zM268.8 74.5h3v3h-3zM211.8 77.5h3v3h-3zM226.8 77.5h3v3h-3zM229.8 77.5h3v3h-3zM232.8 77.5h3v3h-3zM235.8 77.5h3v3h-3zM244.8 77.5h3v3h-3zM262.8 77.5h3v3h-3zM211.8 80.5h3v3h-3zM226.8 80.5h3v3h-3zM229.8 80.5h3v3h-3zM232.8 80.5h3v3h-3zM235.8 80.5h3v3h-3zM238.8 80.5h3v3h-3zM256.8 80.5h3v3h-3zM262.8 80.5h3v3h-3zM289.8 80.5h3v3h-3zM220.8 83.5h3v3h-3zM223.8 83.5h3v3h-3zM226.8 83.5h3v3h-3zM229.8 83.5h3v3h-3zM238.8 83.5h3v3h-3zM256.8 83.5h3v3h-3zM217.8 86.5h3v3h-3zM220.8 86.5h3v3h-3zM223.8 86.5h3v3h-3zM226.8 86.5h3v3h-3zM229.8 86.5h3v3h-3zM253.8 86.5h3v3h-3zM256.8 86.5h3v3h-3zM289.8 86.5h3v3h-3zM217.8 89.5h3v3h-3zM220.8 89.5h3v3h-3zM223.8 89.5h3v3h-3zM226.8 89.5h3v3h-3zM229.8 89.5h3v3h-3zM253.8 89.5h3v3h-3zM256.8 89.5h3v3h-3zM268.8 89.5h3v3h-3zM211.8 92.5h3v3h-3zM220.8 92.5h3v3h-3zM238.8 92.5h3v3h-3zM241.8 92.5h3v3h-3zM244.8 92.5h3v3h-3zM253.8 92.5h3v3h-3zM256.8 92.5h3v3h-3zM268.8 92.5h3v3h-3zM271.8 92.5h3v3h-3zM211.8 95.5h3v3h-3zM214.8 95.5h3v3h-3zM217.8 95.5h3v3h-3zM220.8 95.5h3v3h-3zM238.8 95.5h3v3h-3zM241.8 95.5h3v3h-3zM244.8 95.5h3v3h-3zM247.8 95.5h3v3h-3zM250.8 95.5h3v3h-3zM253.8 95.5h3v3h-3zM256.8 95.5h3v3h-3zM211.8 98.5h3v3h-3zM217.8 98.5h3v3h-3zM241.8 98.5h3v3h-3zM244.8 98.5h3v3h-3zM247.8 98.5h3v3h-3zM250.8 98.5h3v3h-3zM253.8 98.5h3v3h-3zM256.8 98.5h3v3h-3zM259.8 98.5h3v3h-3zM262.8 98.5h3v3h-3zM211.8 101.5h3v3h-3zM241.8 101.5h3v3h-3zM244.8 101.5h3v3h-3zM262.8 101.5h3v3h-3zM265.8 101.5h3v3h-3zM211.8 104.5h3v3h-3zM214.8 104.5h3v3h-3zM229.8 104.5h3v3h-3zM232.8 104.5h3v3h-3zM244.8 104.5h3v3h-3zM247.8 104.5h3v3h-3zM250.8 104.5h3v3h-3zM268.8 104.5h3v3h-3zM289.8 104.5h3v3h-3zM244.8 107.5h3v3h-3zM247.8 107.5h3v3h-3zM268.8 107.5h3v3h-3zM223.8 110.5h3v3h-3zM226.8 110.5h3v3h-3zM229.8 110.5h3v3h-3zM268.8 110.5h3v3h-3zM223.8 113.5h3v3h-3zM226.8 113.5h3v3h-3zM229.8 113.5h3v3h-3zM256.8 113.5h3v3h-3zM259.8 113.5h3v3h-3zM223.8 116.5h3v3h-3zM244.8 116.5h3v3h-3zM256.8 116.5h3v3h-3zM259.8 116.5h3v3h-3zM289.8 116.5h3v3h-3zM220.8 119.5h3v3h-3zM223.8 119.5h3v3h-3zM241.8 119.5h3v3h-3zM244.8 119.5h3v3h-3zM274.8 119.5h3v3h-3zM223.8 122.5h3v3h-3zM232.8 122.5h3v3h-3zM235.8 122.5h3v3h-3zM238.8 122.5h3v3h-3zM244.8 122.5h3v3h-3zM256.8 122.5h3v3h-3zM259.8 122.5h3v3h-3zM262.8 122.5h3v3h-3zM265.8 122.5h3v3h-3zM274.8 122.5h3v3h-3zM211.8 125.5h3v3h-3zM214.8 125.5h3v3h-3zM217.8 125.5h3v3h-3zM223.8 125.5h3v3h-3zM229.8 125.5h3v3h-3zM232.8 125.5h3v3h-3zM235.8 125.5h3v3h-3zM238.8 125.5h3v3h-3zM262.8 125.5h3v3h-3zM265.8 125.5h3v3h-3zM268.8 125.5h3v3h-3zM271.8 125.5h3v3h-3zM223.8 128.5h3v3h-3zM229.8 128.5h3v3h-3zM232.8 128.5h3v3h-3zM235.8 128.5h3v3h-3zM247.8 128.5h3v3h-3zM262.8 128.5h3v3h-3zM265.8 128.5h3v3h-3zM268.8 128.5h3v3h-3zM217.8 131.5h3v3h-3zM220.8 131.5h3v3h-3zM223.8 131.5h3v3h-3zM226.8 131.5h3v3h-3zM229.8 131.5h3v3h-3zM232.8 131.5h3v3h-3zM235.8 131.5h3v3h-3zM247.8 131.5h3v3h-3zM250.8 131.5h3v3h-3zM253.8 131.5h3v3h-3zM262.8 131.5h3v3h-3zM265.8 131.5h3v3h-3zM220.8 134.5h3v3h-3zM223.8 134.5h3v3h-3zM226.8 134.5h3v3h-3zM250.8 134.5h3v3h-3zM253.8 134.5h3v3h-3zM262.8 134.5h3v3h-3zM265.8 134.5h3v3h-3zM271.8 134.5h3v3h-3zM199.8 140.5h3v3h-3zM214.8 140.5h3v3h-3zM217.8 140.5h3v3h-3zM220.8 140.5h3v3h-3zM232.8 140.5h3v3h-3zM199.8 143.5h3v3h-3zM247.8 143.5h3v3h-3zM262.8 143.5h3v3h-3zM271.8 143.5h3v3h-3zM274.8 143.5h3v3h-3zM211.8 146.5h3v3h-3zM223.8 146.5h3v3h-3zM238.8 146.5h3v3h-3zM241.8 146.5h3v3h-3zM244.8 146.5h3v3h-3zM247.8 146.5h3v3h-3zM271.8 146.5h3v3h-3zM274.8 146.5h3v3h-3zM220.8 149.5h3v3h-3zM223.8 149.5h3v3h-3zM226.8 149.5h3v3h-3zM238.8 149.5h3v3h-3zM241.8 149.5h3v3h-3zM244.8 149.5h3v3h-3zM247.8 149.5h3v3h-3zM250.8 149.5h3v3h-3zM253.8 149.5h3v3h-3zM256.8 149.5h3v3h-3zM271.8 149.5h3v3h-3zM274.8 149.5h3v3h-3zM223.8 152.5h3v3h-3zM226.8 152.5h3v3h-3zM229.8 152.5h3v3h-3zM232.8 152.5h3v3h-3zM238.8 152.5h3v3h-3zM241.8 152.5h3v3h-3zM244.8 152.5h3v3h-3zM247.8 152.5h3v3h-3zM250.8 152.5h3v3h-3zM253.8 152.5h3v3h-3zM241.8 155.5h3v3h-3zM244.8 155.5h3v3h-3zM250.8 155.5h3v3h-3zM253.8 155.5h3v3h-3zM262.8 155.5h3v3h-3zM265.8 155.5h3v3h-3zM274.8 155.5h3v3h-3zM199.8 158.5h3v3h-3zM214.8 158.5h3v3h-3zM241.8 158.5h3v3h-3zM244.8 158.5h3v3h-3zM256.8 158.5h3v3h-3zM259.8 158.5h3v3h-3zM262.8 158.5h3v3h-3zM274.8 158.5h3v3h-3zM289.8 158.5h3v3h-3zM199.8 161.5h3v3h-3zM199.8 164.5h3v3h-3zM289.8 164.5h3v3h-3zM289.8 170.5h3v3h-3zM268.8 173.5h3v3h-3zM289.8 173.5h3v3h-3zM268.8 176.5h3v3h-3zM217.8 179.5h3v3h-3zM199.8 182.5h3v3h-3zM244.8 182.5h3v3h-3zM247.8 182.5h3v3h-3zM241.8 185.5h3v3h-3zM244.8 185.5h3v3h-3zM256.8 185.5h3v3h-3z"/></g></g><rect x="306.4" y="41" width="20.0" height="143.6" fill="url(#g1)"/><path d="M306.9 41V184.6M325.9 41V184.6" stroke="#444" stroke-width="1"/><path d="M325.9 41V184.6" stroke="#8a8a8a" stroke-width="1"/><path d="M306.4 40.6H326.4" stroke="#e8505a" stroke-width="1.6"/><g clip-path="url(#c2)"><g filter="url(#bl2)"><path fill="rgb(60,60,60)" d="M430.8 38.5h3v3h-3zM487.8 38.5h3v3h-3zM493.8 38.5h3v3h-3zM406.8 68.5h3v3h-3zM496.8 116.5h3v3h-3zM496.8 119.5h3v3h-3zM496.8 122.5h3v3h-3zM406.8 125.5h3v3h-3zM406.8 173.5h3v3h-3zM490.8 185.5h3v3h-3z"/><path fill="rgb(64,64,64)" d="M406.8 116.5h3v3h-3zM496.8 146.5h3v3h-3zM496.8 167.5h3v3h-3z"/><path fill="rgb(72,72,72)" d="M487.8 185.5h3v3h-3z"/><path fill="rgb(80,80,80)" d="M439.8 38.5h3v3h-3z"/><path fill="rgb(84,84,84)" d="M472.8 38.5h3v3h-3zM406.8 53.5h3v3h-3z"/><path fill="rgb(88,88,88)" d="M430.8 41.5h3v3h-3z"/><path fill="rgb(92,92,92)" d="M478.8 185.5h3v3h-3z"/><path fill="rgb(96,96,96)" d="M496.8 98.5h3v3h-3z"/><path fill="rgb(100,100,100)" d="M496.8 59.5h3v3h-3zM496.8 74.5h3v3h-3zM406.8 179.5h3v3h-3z"/><path fill="rgb(104,104,104)" d="M415.8 38.5h3v3h-3zM430.8 44.5h3v3h-3zM406.8 65.5h3v3h-3zM406.8 131.5h3v3h-3zM496.8 158.5h3v3h-3zM427.8 179.5h3v3h-3z"/><path fill="rgb(108,108,108)" d="M427.8 182.5h3v3h-3zM496.8 182.5h3v3h-3z"/><path fill="rgb(112,112,112)" d="M493.8 59.5h3v3h-3zM496.8 134.5h3v3h-3zM424.8 179.5h3v3h-3z"/><path fill="rgb(120,120,120)" d="M457.8 38.5h3v3h-3zM478.8 44.5h3v3h-3zM496.8 68.5h3v3h-3zM406.8 122.5h3v3h-3zM496.8 137.5h3v3h-3zM463.8 176.5h3v3h-3zM424.8 182.5h3v3h-3zM406.8 185.5h3v3h-3z"/><path fill="rgb(124,124,124)" d="M406.8 110.5h3v3h-3zM496.8 131.5h3v3h-3zM481.8 179.5h3v3h-3z"/><path fill="rgb(128,128,128)" d="M475.8 44.5h3v3h-3zM406.8 56.5h3v3h-3zM493.8 68.5h3v3h-3zM496.8 107.5h3v3h-3zM496.8 110.5h3v3h-3zM406.8 113.5h3v3h-3zM481.8 185.5h3v3h-3z"/><path fill="rgb(132,132,132)" d="M472.8 41.5h3v3h-3zM493.8 56.5h3v3h-3zM406.8 62.5h3v3h-3zM406.8 92.5h3v3h-3zM409.8 116.5h3v3h-3zM406.8 146.5h3v3h-3zM406.8 164.5h3v3h-3zM454.8 176.5h3v3h-3zM454.8 179.5h3v3h-3zM451.8 185.5h3v3h-3z"/><path fill="rgb(136,136,136)" d="M487.8 62.5h3v3h-3zM406.8 83.5h3v3h-3zM412.8 101.5h3v3h-3zM406.8 119.5h3v3h-3zM493.8 122.5h3v3h-3zM484.8 173.5h3v3h-3zM466.8 179.5h3v3h-3zM478.8 179.5h3v3h-3zM484.8 179.5h3v3h-3zM454.8 182.5h3v3h-3zM478.8 182.5h3v3h-3z"/><path fill="rgb(140,140,140)" d="M418.8 38.5h3v3h-3zM445.8 38.5h3v3h-3zM457.8 41.5h3v3h-3zM466.8 41.5h3v3h-3zM475.8 41.5h3v3h-3zM454.8 44.5h3v3h-3zM493.8 50.5h3v3h-3zM493.8 53.5h3v3h-3zM490.8 59.5h3v3h-3zM490.8 62.5h3v3h-3zM412.8 122.5h3v3h-3zM496.8 152.5h3v3h-3zM463.8 173.5h3v3h-3zM442.8 176.5h3v3h-3zM484.8 176.5h3v3h-3zM451.8 182.5h3v3h-3zM445.8 185.5h3v3h-3zM472.8 185.5h3v3h-3z"/><path fill="rgb(144,144,144)" d="M454.8 41.5h3v3h-3zM481.8 41.5h3v3h-3zM436.8 44.5h3v3h-3zM487.8 59.5h3v3h-3zM490.8 68.5h3v3h-3zM493.8 116.5h3v3h-3zM487.8 122.5h3v3h-3zM493.8 152.5h3v3h-3zM487.8 173.5h3v3h-3zM436.8 176.5h3v3h-3zM457.8 182.5h3v3h-3zM412.8 185.5h3v3h-3z"/><path fill="rgb(148,148,148)" d="M454.8 38.5h3v3h-3zM448.8 41.5h3v3h-3zM433.8 44.5h3v3h-3zM493.8 47.5h3v3h-3zM487.8 53.5h3v3h-3zM406.8 80.5h3v3h-3zM409.8 122.5h3v3h-3zM409.8 137.5h3v3h-3zM487.8 140.5h3v3h-3zM409.8 143.5h3v3h-3zM445.8 176.5h3v3h-3zM463.8 179.5h3v3h-3zM466.8 182.5h3v3h-3zM481.8 182.5h3v3h-3z"/><path fill="rgb(152,152,152)" d="M466.8 38.5h3v3h-3zM439.8 41.5h3v3h-3zM469.8 41.5h3v3h-3zM427.8 44.5h3v3h-3zM481.8 44.5h3v3h-3zM487.8 56.5h3v3h-3zM409.8 65.5h3v3h-3zM487.8 65.5h3v3h-3zM409.8 68.5h3v3h-3zM412.8 77.5h3v3h-3zM409.8 95.5h3v3h-3zM412.8 104.5h3v3h-3zM412.8 137.5h3v3h-3zM421.8 173.5h3v3h-3zM466.8 176.5h3v3h-3zM490.8 182.5h3v3h-3zM433.8 185.5h3v3h-3z"/><path fill="rgb(156,156,156)" d="M448.8 38.5h3v3h-3zM484.8 41.5h3v3h-3zM439.8 44.5h3v3h-3zM496.8 47.5h3v3h-3zM490.8 56.5h3v3h-3zM490.8 65.5h3v3h-3zM487.8 68.5h3v3h-3zM406.8 74.5h3v3h-3zM409.8 83.5h3v3h-3zM412.8 98.5h3v3h-3zM406.8 101.5h3v3h-3zM409.8 125.5h3v3h-3zM409.8 140.5h3v3h-3zM490.8 146.5h3v3h-3zM442.8 173.5h3v3h-3zM427.8 176.5h3v3h-3zM418.8 179.5h3v3h-3zM430.8 179.5h3v3h-3zM445.8 179.5h3v3h-3zM463.8 182.5h3v3h-3z"/><path fill="rgb(160,160,160)" d="M442.8 38.5h3v3h-3zM478.8 41.5h3v3h-3zM457.8 44.5h3v3h-3zM487.8 50.5h3v3h-3zM409.8 74.5h3v3h-3zM493.8 92.5h3v3h-3zM490.8 128.5h3v3h-3zM490.8 140.5h3v3h-3zM490.8 143.5h3v3h-3zM493.8 146.5h3v3h-3zM490.8 158.5h3v3h-3zM451.8 170.5h3v3h-3zM409.8 173.5h3v3h-3zM424.8 176.5h3v3h-3zM430.8 176.5h3v3h-3zM439.8 176.5h3v3h-3zM451.8 176.5h3v3h-3zM487.8 176.5h3v3h-3zM496.8 176.5h3v3h-3zM436.8 179.5h3v3h-3zM457.8 179.5h3v3h-3zM469.8 182.5h3v3h-3z"/><path fill="rgb(164,164,164)" d="M490.8 38.5h3v3h-3zM487.8 41.5h3v3h-3zM448.8 44.5h3v3h-3zM412.8 47.5h3v3h-3zM490.8 53.5h3v3h-3zM409.8 62.5h3v3h-3zM409.8 80.5h3v3h-3zM409.8 92.5h3v3h-3zM409.8 98.5h3v3h-3zM490.8 104.5h3v3h-3zM409.8 119.5h3v3h-3zM493.8 125.5h3v3h-3zM487.8 131.5h3v3h-3zM493.8 131.5h3v3h-3zM406.8 134.5h3v3h-3zM487.8 137.5h3v3h-3zM487.8 143.5h3v3h-3zM409.8 146.5h3v3h-3zM493.8 149.5h3v3h-3zM412.8 158.5h3v3h-3zM496.8 161.5h3v3h-3zM406.8 170.5h3v3h-3zM433.8 170.5h3v3h-3zM496.8 170.5h3v3h-3zM433.8 173.5h3v3h-3zM490.8 173.5h3v3h-3zM493.8 182.5h3v3h-3zM463.8 185.5h3v3h-3z"/><path fill="rgb(168,168,168)" d="M427.8 41.5h3v3h-3zM412.8 44.5h3v3h-3zM406.8 47.5h3v3h-3zM478.8 47.5h3v3h-3zM490.8 50.5h3v3h-3zM412.8 74.5h3v3h-3zM406.8 89.5h3v3h-3zM412.8 89.5h3v3h-3zM412.8 125.5h3v3h-3zM487.8 125.5h3v3h-3zM490.8 125.5h3v3h-3zM487.8 128.5h3v3h-3zM493.8 128.5h3v3h-3zM490.8 131.5h3v3h-3zM487.8 134.5h3v3h-3zM493.8 134.5h3v3h-3zM406.8 143.5h3v3h-3zM487.8 146.5h3v3h-3zM406.8 149.5h3v3h-3zM409.8 158.5h3v3h-3zM487.8 170.5h3v3h-3zM451.8 173.5h3v3h-3zM418.8 176.5h3v3h-3zM421.8 176.5h3v3h-3zM433.8 176.5h3v3h-3zM421.8 179.5h3v3h-3zM451.8 179.5h3v3h-3z"/><path fill="rgb(172,172,172)" d="M445.8 44.5h3v3h-3zM466.8 44.5h3v3h-3zM490.8 44.5h3v3h-3zM409.8 47.5h3v3h-3zM415.8 47.5h3v3h-3zM445.8 47.5h3v3h-3zM487.8 47.5h3v3h-3zM490.8 47.5h3v3h-3zM496.8 53.5h3v3h-3zM496.8 77.5h3v3h-3zM412.8 86.5h3v3h-3zM490.8 92.5h3v3h-3zM496.8 92.5h3v3h-3zM490.8 122.5h3v3h-3zM406.8 128.5h3v3h-3zM490.8 137.5h3v3h-3zM490.8 155.5h3v3h-3zM493.8 158.5h3v3h-3zM493.8 167.5h3v3h-3zM490.8 170.5h3v3h-3zM418.8 173.5h3v3h-3zM436.8 173.5h3v3h-3zM466.8 173.5h3v3h-3zM481.8 176.5h3v3h-3zM487.8 179.5h3v3h-3zM433.8 182.5h3v3h-3zM436.8 182.5h3v3h-3zM460.8 182.5h3v3h-3zM487.8 182.5h3v3h-3zM427.8 185.5h3v3h-3z"/><path fill="rgb(176,176,176)" d="M424.8 38.5h3v3h-3zM418.8 41.5h3v3h-3zM445.8 41.5h3v3h-3zM490.8 41.5h3v3h-3zM415.8 44.5h3v3h-3zM442.8 44.5h3v3h-3zM430.8 47.5h3v3h-3zM433.8 47.5h3v3h-3zM484.8 47.5h3v3h-3zM493.8 62.5h3v3h-3zM493.8 65.5h3v3h-3zM490.8 77.5h3v3h-3zM412.8 83.5h3v3h-3zM412.8 92.5h3v3h-3zM415.8 101.5h3v3h-3zM490.8 101.5h3v3h-3zM493.8 104.5h3v3h-3zM493.8 107.5h3v3h-3zM409.8 110.5h3v3h-3zM409.8 113.5h3v3h-3zM412.8 116.5h3v3h-3zM493.8 137.5h3v3h-3zM496.8 140.5h3v3h-3zM406.8 152.5h3v3h-3zM412.8 155.5h3v3h-3zM487.8 167.5h3v3h-3zM448.8 170.5h3v3h-3zM445.8 173.5h3v3h-3zM454.8 173.5h3v3h-3zM490.8 176.5h3v3h-3zM409.8 179.5h3v3h-3zM412.8 179.5h3v3h-3zM415.8 179.5h3v3h-3zM469.8 179.5h3v3h-3zM421.8 182.5h3v3h-3zM448.8 182.5h3v3h-3zM475.8 185.5h3v3h-3z"/><path fill="rgb(180,180,180)" d="M484.8 38.5h3v3h-3zM415.8 41.5h3v3h-3zM424.8 44.5h3v3h-3zM484.8 44.5h3v3h-3zM493.8 44.5h3v3h-3zM421.8 47.5h3v3h-3zM442.8 47.5h3v3h-3zM475.8 47.5h3v3h-3zM409.8 71.5h3v3h-3zM409.8 77.5h3v3h-3zM493.8 77.5h3v3h-3zM412.8 80.5h3v3h-3zM487.8 86.5h3v3h-3zM496.8 86.5h3v3h-3zM409.8 89.5h3v3h-3zM412.8 95.5h3v3h-3zM409.8 101.5h3v3h-3zM493.8 101.5h3v3h-3zM409.8 107.5h3v3h-3zM493.8 119.5h3v3h-3zM406.8 137.5h3v3h-3zM490.8 152.5h3v3h-3zM409.8 161.5h3v3h-3zM493.8 161.5h3v3h-3zM454.8 167.5h3v3h-3zM430.8 170.5h3v3h-3zM478.8 176.5h3v3h-3zM448.8 179.5h3v3h-3z"/><path fill="rgb(184,184,184)" d="M442.8 41.5h3v3h-3zM463.8 41.5h3v3h-3zM493.8 41.5h3v3h-3zM451.8 44.5h3v3h-3zM418.8 47.5h3v3h-3zM436.8 47.5h3v3h-3zM481.8 47.5h3v3h-3zM409.8 53.5h3v3h-3zM412.8 62.5h3v3h-3zM406.8 95.5h3v3h-3zM412.8 107.5h3v3h-3zM490.8 116.5h3v3h-3zM490.8 134.5h3v3h-3zM490.8 149.5h3v3h-3zM409.8 164.5h3v3h-3zM412.8 164.5h3v3h-3zM433.8 167.5h3v3h-3zM451.8 167.5h3v3h-3zM436.8 170.5h3v3h-3zM463.8 170.5h3v3h-3zM484.8 170.5h3v3h-3zM430.8 173.5h3v3h-3zM472.8 173.5h3v3h-3zM448.8 176.5h3v3h-3zM457.8 176.5h3v3h-3zM433.8 179.5h3v3h-3zM412.8 182.5h3v3h-3zM445.8 182.5h3v3h-3zM466.8 185.5h3v3h-3zM493.8 185.5h3v3h-3z"/><path fill="rgb(188,188,188)" d="M424.8 41.5h3v3h-3zM451.8 41.5h3v3h-3zM460.8 41.5h3v3h-3zM472.8 44.5h3v3h-3zM487.8 44.5h3v3h-3zM427.8 47.5h3v3h-3zM457.8 47.5h3v3h-3zM496.8 56.5h3v3h-3zM493.8 71.5h3v3h-3zM493.8 74.5h3v3h-3zM487.8 77.5h3v3h-3zM490.8 89.5h3v3h-3zM496.8 101.5h3v3h-3zM406.8 104.5h3v3h-3zM490.8 107.5h3v3h-3zM487.8 119.5h3v3h-3zM406.8 140.5h3v3h-3zM409.8 149.5h3v3h-3zM412.8 161.5h3v3h-3zM454.8 170.5h3v3h-3zM493.8 170.5h3v3h-3zM448.8 173.5h3v3h-3zM481.8 173.5h3v3h-3zM496.8 173.5h3v3h-3zM406.8 176.5h3v3h-3zM493.8 176.5h3v3h-3zM439.8 179.5h3v3h-3zM442.8 179.5h3v3h-3zM418.8 182.5h3v3h-3zM430.8 182.5h3v3h-3zM469.8 185.5h3v3h-3z"/><path fill="rgb(192,192,192)" d="M433.8 41.5h3v3h-3zM409.8 44.5h3v3h-3zM424.8 47.5h3v3h-3zM409.8 56.5h3v3h-3zM487.8 80.5h3v3h-3zM487.8 89.5h3v3h-3zM493.8 89.5h3v3h-3zM415.8 98.5h3v3h-3zM415.8 104.5h3v3h-3zM487.8 104.5h3v3h-3zM406.8 107.5h3v3h-3zM487.8 110.5h3v3h-3zM493.8 110.5h3v3h-3zM493.8 113.5h3v3h-3zM496.8 113.5h3v3h-3zM487.8 116.5h3v3h-3zM412.8 119.5h3v3h-3zM415.8 122.5h3v3h-3zM490.8 167.5h3v3h-3zM421.8 170.5h3v3h-3zM493.8 173.5h3v3h-3zM409.8 176.5h3v3h-3zM460.8 176.5h3v3h-3zM469.8 176.5h3v3h-3zM460.8 179.5h3v3h-3zM484.8 182.5h3v3h-3zM442.8 185.5h3v3h-3z"/><path fill="rgb(196,196,196)" d="M436.8 41.5h3v3h-3zM418.8 44.5h3v3h-3zM421.8 44.5h3v3h-3zM463.8 44.5h3v3h-3zM469.8 44.5h3v3h-3zM412.8 65.5h3v3h-3zM412.8 71.5h3v3h-3zM496.8 71.5h3v3h-3zM415.8 77.5h3v3h-3zM490.8 80.5h3v3h-3zM409.8 86.5h3v3h-3zM493.8 98.5h3v3h-3zM487.8 101.5h3v3h-3zM409.8 104.5h3v3h-3zM487.8 107.5h3v3h-3zM487.8 113.5h3v3h-3zM412.8 134.5h3v3h-3zM484.8 134.5h3v3h-3zM493.8 143.5h3v3h-3zM412.8 149.5h3v3h-3zM412.8 152.5h3v3h-3zM487.8 158.5h3v3h-3zM490.8 161.5h3v3h-3zM430.8 167.5h3v3h-3zM436.8 167.5h3v3h-3zM418.8 170.5h3v3h-3zM427.8 170.5h3v3h-3zM469.8 173.5h3v3h-3zM412.8 176.5h3v3h-3zM496.8 179.5h3v3h-3zM439.8 185.5h3v3h-3zM457.8 185.5h3v3h-3z"/><path fill="rgb(200,200,200)" d="M448.8 47.5h3v3h-3zM454.8 47.5h3v3h-3zM412.8 50.5h3v3h-3zM409.8 59.5h3v3h-3zM412.8 59.5h3v3h-3zM415.8 65.5h3v3h-3zM493.8 80.5h3v3h-3zM487.8 83.5h3v3h-3zM490.8 95.5h3v3h-3zM409.8 134.5h3v3h-3zM412.8 140.5h3v3h-3zM493.8 140.5h3v3h-3zM409.8 155.5h3v3h-3zM493.8 155.5h3v3h-3zM457.8 167.5h3v3h-3zM409.8 170.5h3v3h-3zM442.8 170.5h3v3h-3zM439.8 173.5h3v3h-3zM490.8 179.5h3v3h-3zM493.8 179.5h3v3h-3zM409.8 182.5h3v3h-3zM475.8 182.5h3v3h-3z"/><path fill="rgb(204,204,204)" d="M469.8 38.5h3v3h-3zM421.8 41.5h3v3h-3zM439.8 47.5h3v3h-3zM412.8 56.5h3v3h-3zM484.8 62.5h3v3h-3zM415.8 68.5h3v3h-3zM487.8 92.5h3v3h-3zM487.8 95.5h3v3h-3zM484.8 122.5h3v3h-3zM427.8 167.5h3v3h-3zM445.8 170.5h3v3h-3zM460.8 170.5h3v3h-3zM466.8 170.5h3v3h-3zM481.8 170.5h3v3h-3zM424.8 173.5h3v3h-3zM460.8 173.5h3v3h-3zM475.8 173.5h3v3h-3zM478.8 173.5h3v3h-3zM415.8 176.5h3v3h-3zM472.8 182.5h3v3h-3zM448.8 185.5h3v3h-3z"/><path fill="rgb(208,208,208)" d="M409.8 50.5h3v3h-3zM466.8 50.5h3v3h-3zM484.8 50.5h3v3h-3zM412.8 68.5h3v3h-3zM484.8 68.5h3v3h-3zM490.8 74.5h3v3h-3zM493.8 95.5h3v3h-3zM487.8 98.5h3v3h-3zM490.8 110.5h3v3h-3zM412.8 113.5h3v3h-3zM490.8 113.5h3v3h-3zM484.8 131.5h3v3h-3zM415.8 137.5h3v3h-3zM487.8 149.5h3v3h-3zM406.8 155.5h3v3h-3zM406.8 158.5h3v3h-3zM448.8 167.5h3v3h-3zM460.8 167.5h3v3h-3zM424.8 170.5h3v3h-3zM457.8 170.5h3v3h-3zM475.8 170.5h3v3h-3zM406.8 182.5h3v3h-3z"/><path fill="rgb(212,212,212)" d="M412.8 41.5h3v3h-3zM463.8 47.5h3v3h-3zM415.8 50.5h3v3h-3zM496.8 50.5h3v3h-3zM415.8 56.5h3v3h-3zM484.8 59.5h3v3h-3zM484.8 65.5h3v3h-3zM415.8 74.5h3v3h-3zM415.8 92.5h3v3h-3zM415.8 95.5h3v3h-3zM415.8 116.5h3v3h-3zM415.8 119.5h3v3h-3zM412.8 128.5h3v3h-3zM412.8 143.5h3v3h-3zM496.8 143.5h3v3h-3zM496.8 149.5h3v3h-3zM409.8 152.5h3v3h-3zM487.8 155.5h3v3h-3zM412.8 167.5h3v3h-3zM424.8 167.5h3v3h-3zM484.8 167.5h3v3h-3zM478.8 170.5h3v3h-3zM472.8 176.5h3v3h-3zM475.8 176.5h3v3h-3zM415.8 182.5h3v3h-3z"/><path fill="rgb(216,216,216)" d="M460.8 44.5h3v3h-3zM460.8 47.5h3v3h-3zM466.8 47.5h3v3h-3zM445.8 50.5h3v3h-3zM484.8 53.5h3v3h-3zM415.8 62.5h3v3h-3zM415.8 71.5h3v3h-3zM490.8 71.5h3v3h-3zM487.8 74.5h3v3h-3zM496.8 80.5h3v3h-3zM406.8 86.5h3v3h-3zM415.8 86.5h3v3h-3zM490.8 86.5h3v3h-3zM490.8 98.5h3v3h-3zM412.8 110.5h3v3h-3zM415.8 125.5h3v3h-3zM412.8 146.5h3v3h-3zM484.8 146.5h3v3h-3zM415.8 158.5h3v3h-3zM406.8 161.5h3v3h-3zM439.8 167.5h3v3h-3zM439.8 170.5h3v3h-3zM472.8 170.5h3v3h-3zM427.8 173.5h3v3h-3zM457.8 173.5h3v3h-3zM421.8 185.5h3v3h-3z"/><path fill="rgb(220,220,220)" d="M418.8 50.5h3v3h-3zM421.8 50.5h3v3h-3zM427.8 50.5h3v3h-3zM430.8 50.5h3v3h-3zM463.8 50.5h3v3h-3zM475.8 50.5h3v3h-3zM412.8 53.5h3v3h-3zM484.8 56.5h3v3h-3zM415.8 59.5h3v3h-3zM487.8 71.5h3v3h-3zM415.8 80.5h3v3h-3zM484.8 86.5h3v3h-3zM415.8 89.5h3v3h-3zM484.8 89.5h3v3h-3zM484.8 110.5h3v3h-3zM484.8 119.5h3v3h-3zM490.8 119.5h3v3h-3zM484.8 125.5h3v3h-3zM484.8 128.5h3v3h-3zM412.8 131.5h3v3h-3zM421.8 167.5h3v3h-3zM463.8 167.5h3v3h-3zM469.8 170.5h3v3h-3zM475.8 179.5h3v3h-3zM484.8 185.5h3v3h-3z"/><path fill="rgb(224,224,224)" d="M406.8 38.5h3v3h-3zM406.8 44.5h3v3h-3zM424.8 50.5h3v3h-3zM433.8 50.5h3v3h-3zM478.8 50.5h3v3h-3zM484.8 71.5h3v3h-3zM484.8 77.5h3v3h-3zM496.8 83.5h3v3h-3zM415.8 107.5h3v3h-3zM484.8 107.5h3v3h-3zM484.8 113.5h3v3h-3zM415.8 134.5h3v3h-3zM484.8 137.5h3v3h-3zM484.8 149.5h3v3h-3zM415.8 155.5h3v3h-3zM493.8 164.5h3v3h-3zM412.8 173.5h3v3h-3zM439.8 182.5h3v3h-3z"/><path fill="rgb(228,228,228)" d="M481.8 38.5h3v3h-3zM451.8 47.5h3v3h-3zM448.8 50.5h3v3h-3zM460.8 50.5h3v3h-3zM469.8 50.5h3v3h-3zM415.8 53.5h3v3h-3zM484.8 74.5h3v3h-3zM493.8 86.5h3v3h-3zM484.8 92.5h3v3h-3zM484.8 104.5h3v3h-3zM484.8 116.5h3v3h-3zM409.8 128.5h3v3h-3zM415.8 128.5h3v3h-3zM415.8 140.5h3v3h-3zM484.8 140.5h3v3h-3zM415.8 161.5h3v3h-3zM487.8 161.5h3v3h-3zM421.8 164.5h3v3h-3zM424.8 164.5h3v3h-3zM457.8 164.5h3v3h-3zM466.8 167.5h3v3h-3zM481.8 167.5h3v3h-3zM412.8 170.5h3v3h-3z"/><path fill="rgb(232,232,232)" d="M460.8 38.5h3v3h-3zM436.8 50.5h3v3h-3zM442.8 50.5h3v3h-3zM457.8 50.5h3v3h-3zM496.8 65.5h3v3h-3zM415.8 83.5h3v3h-3zM484.8 83.5h3v3h-3zM484.8 95.5h3v3h-3zM409.8 131.5h3v3h-3zM415.8 131.5h3v3h-3zM415.8 143.5h3v3h-3zM487.8 152.5h3v3h-3zM415.8 164.5h3v3h-3zM433.8 164.5h3v3h-3zM436.8 164.5h3v3h-3zM439.8 164.5h3v3h-3zM454.8 164.5h3v3h-3zM460.8 164.5h3v3h-3zM487.8 164.5h3v3h-3zM418.8 167.5h3v3h-3z"/><path fill="rgb(236,236,236)" d="M481.8 50.5h3v3h-3zM406.8 59.5h3v3h-3zM484.8 80.5h3v3h-3zM490.8 83.5h3v3h-3zM415.8 113.5h3v3h-3zM484.8 143.5h3v3h-3zM415.8 152.5h3v3h-3zM484.8 152.5h3v3h-3zM484.8 155.5h3v3h-3zM484.8 158.5h3v3h-3zM427.8 164.5h3v3h-3zM466.8 164.5h3v3h-3zM484.8 164.5h3v3h-3zM409.8 167.5h3v3h-3zM445.8 167.5h3v3h-3zM415.8 170.5h3v3h-3zM442.8 182.5h3v3h-3zM409.8 185.5h3v3h-3zM436.8 185.5h3v3h-3zM460.8 185.5h3v3h-3z"/><path fill="rgb(240,240,240)" d="M421.8 38.5h3v3h-3zM496.8 38.5h3v3h-3zM472.8 56.5h3v3h-3zM475.8 56.5h3v3h-3zM496.8 89.5h3v3h-3zM472.8 98.5h3v3h-3zM484.8 98.5h3v3h-3zM472.8 101.5h3v3h-3zM484.8 101.5h3v3h-3zM496.8 104.5h3v3h-3zM415.8 146.5h3v3h-3zM415.8 149.5h3v3h-3zM484.8 161.5h3v3h-3zM418.8 164.5h3v3h-3zM430.8 164.5h3v3h-3zM451.8 164.5h3v3h-3zM481.8 164.5h3v3h-3zM442.8 167.5h3v3h-3zM478.8 167.5h3v3h-3z"/><path fill="rgb(244,244,244)" d="M472.8 50.5h3v3h-3zM427.8 53.5h3v3h-3zM466.8 53.5h3v3h-3zM469.8 53.5h3v3h-3zM472.8 53.5h3v3h-3zM475.8 53.5h3v3h-3zM418.8 56.5h3v3h-3zM421.8 56.5h3v3h-3zM469.8 56.5h3v3h-3zM418.8 59.5h3v3h-3zM472.8 59.5h3v3h-3zM472.8 65.5h3v3h-3zM454.8 68.5h3v3h-3zM457.8 68.5h3v3h-3zM424.8 77.5h3v3h-3zM442.8 80.5h3v3h-3zM463.8 80.5h3v3h-3zM439.8 83.5h3v3h-3zM442.8 83.5h3v3h-3zM460.8 83.5h3v3h-3zM463.8 83.5h3v3h-3zM475.8 83.5h3v3h-3zM478.8 83.5h3v3h-3zM436.8 86.5h3v3h-3zM439.8 86.5h3v3h-3zM460.8 86.5h3v3h-3zM463.8 86.5h3v3h-3zM478.8 86.5h3v3h-3zM481.8 86.5h3v3h-3zM427.8 89.5h3v3h-3zM430.8 89.5h3v3h-3zM433.8 89.5h3v3h-3zM436.8 89.5h3v3h-3zM424.8 92.5h3v3h-3zM427.8 92.5h3v3h-3zM454.8 92.5h3v3h-3zM457.8 92.5h3v3h-3zM424.8 95.5h3v3h-3zM451.8 95.5h3v3h-3zM454.8 95.5h3v3h-3zM457.8 95.5h3v3h-3zM460.8 95.5h3v3h-3zM472.8 95.5h3v3h-3zM481.8 95.5h3v3h-3zM451.8 98.5h3v3h-3zM454.8 98.5h3v3h-3zM457.8 98.5h3v3h-3zM460.8 98.5h3v3h-3zM463.8 98.5h3v3h-3zM466.8 98.5h3v3h-3zM469.8 98.5h3v3h-3zM475.8 98.5h3v3h-3zM418.8 101.5h3v3h-3zM466.8 101.5h3v3h-3zM469.8 101.5h3v3h-3zM475.8 101.5h3v3h-3zM478.8 104.5h3v3h-3zM445.8 107.5h3v3h-3zM445.8 110.5h3v3h-3zM454.8 110.5h3v3h-3zM457.8 110.5h3v3h-3zM460.8 110.5h3v3h-3zM457.8 113.5h3v3h-3zM460.8 113.5h3v3h-3zM463.8 113.5h3v3h-3zM460.8 116.5h3v3h-3zM463.8 116.5h3v3h-3zM478.8 119.5h3v3h-3zM418.8 122.5h3v3h-3zM448.8 122.5h3v3h-3zM451.8 122.5h3v3h-3zM478.8 122.5h3v3h-3zM481.8 122.5h3v3h-3zM439.8 125.5h3v3h-3zM478.8 125.5h3v3h-3zM496.8 125.5h3v3h-3zM472.8 131.5h3v3h-3zM472.8 134.5h3v3h-3zM436.8 137.5h3v3h-3zM454.8 137.5h3v3h-3zM436.8 140.5h3v3h-3zM439.8 140.5h3v3h-3zM445.8 143.5h3v3h-3zM448.8 143.5h3v3h-3zM445.8 146.5h3v3h-3zM448.8 146.5h3v3h-3zM469.8 149.5h3v3h-3zM469.8 152.5h3v3h-3zM430.8 155.5h3v3h-3zM460.8 155.5h3v3h-3zM448.8 164.5h3v3h-3zM463.8 164.5h3v3h-3zM478.8 164.5h3v3h-3zM490.8 164.5h3v3h-3zM415.8 173.5h3v3h-3z"/><path fill="rgb(248,248,248)" d="M412.8 38.5h3v3h-3zM451.8 38.5h3v3h-3zM469.8 47.5h3v3h-3zM472.8 47.5h3v3h-3zM439.8 50.5h3v3h-3zM451.8 50.5h3v3h-3zM454.8 50.5h3v3h-3zM418.8 53.5h3v3h-3zM421.8 53.5h3v3h-3zM424.8 53.5h3v3h-3zM430.8 53.5h3v3h-3zM433.8 53.5h3v3h-3zM445.8 53.5h3v3h-3zM448.8 53.5h3v3h-3zM460.8 53.5h3v3h-3zM463.8 53.5h3v3h-3zM478.8 53.5h3v3h-3zM424.8 56.5h3v3h-3zM427.8 56.5h3v3h-3zM430.8 56.5h3v3h-3zM439.8 56.5h3v3h-3zM442.8 56.5h3v3h-3zM445.8 56.5h3v3h-3zM448.8 56.5h3v3h-3zM451.8 56.5h3v3h-3zM460.8 56.5h3v3h-3zM466.8 56.5h3v3h-3zM478.8 56.5h3v3h-3zM421.8 59.5h3v3h-3zM424.8 59.5h3v3h-3zM427.8 59.5h3v3h-3zM430.8 59.5h3v3h-3zM439.8 59.5h3v3h-3zM442.8 59.5h3v3h-3zM445.8 59.5h3v3h-3zM451.8 59.5h3v3h-3zM460.8 59.5h3v3h-3zM463.8 59.5h3v3h-3zM466.8 59.5h3v3h-3zM469.8 59.5h3v3h-3zM475.8 59.5h3v3h-3zM418.8 62.5h3v3h-3zM427.8 62.5h3v3h-3zM430.8 62.5h3v3h-3zM454.8 62.5h3v3h-3zM463.8 62.5h3v3h-3zM466.8 62.5h3v3h-3zM469.8 62.5h3v3h-3zM472.8 62.5h3v3h-3zM475.8 62.5h3v3h-3zM481.8 62.5h3v3h-3zM418.8 65.5h3v3h-3zM424.8 65.5h3v3h-3zM439.8 65.5h3v3h-3zM442.8 65.5h3v3h-3zM445.8 65.5h3v3h-3zM448.8 65.5h3v3h-3zM451.8 65.5h3v3h-3zM454.8 65.5h3v3h-3zM457.8 65.5h3v3h-3zM460.8 65.5h3v3h-3zM463.8 65.5h3v3h-3zM466.8 65.5h3v3h-3zM469.8 65.5h3v3h-3zM475.8 65.5h3v3h-3zM478.8 65.5h3v3h-3zM481.8 65.5h3v3h-3zM418.8 68.5h3v3h-3zM421.8 68.5h3v3h-3zM424.8 68.5h3v3h-3zM427.8 68.5h3v3h-3zM430.8 68.5h3v3h-3zM433.8 68.5h3v3h-3zM436.8 68.5h3v3h-3zM439.8 68.5h3v3h-3zM442.8 68.5h3v3h-3zM445.8 68.5h3v3h-3zM448.8 68.5h3v3h-3zM451.8 68.5h3v3h-3zM460.8 68.5h3v3h-3zM463.8 68.5h3v3h-3zM469.8 68.5h3v3h-3zM472.8 68.5h3v3h-3zM475.8 68.5h3v3h-3zM481.8 68.5h3v3h-3zM418.8 71.5h3v3h-3zM421.8 71.5h3v3h-3zM424.8 71.5h3v3h-3zM427.8 71.5h3v3h-3zM430.8 71.5h3v3h-3zM433.8 71.5h3v3h-3zM445.8 71.5h3v3h-3zM448.8 71.5h3v3h-3zM451.8 71.5h3v3h-3zM454.8 71.5h3v3h-3zM457.8 71.5h3v3h-3zM460.8 71.5h3v3h-3zM472.8 71.5h3v3h-3zM475.8 71.5h3v3h-3zM481.8 71.5h3v3h-3zM418.8 74.5h3v3h-3zM421.8 74.5h3v3h-3zM424.8 74.5h3v3h-3zM427.8 74.5h3v3h-3zM436.8 74.5h3v3h-3zM439.8 74.5h3v3h-3zM442.8 74.5h3v3h-3zM445.8 74.5h3v3h-3zM448.8 74.5h3v3h-3zM451.8 74.5h3v3h-3zM457.8 74.5h3v3h-3zM460.8 74.5h3v3h-3zM463.8 74.5h3v3h-3zM472.8 74.5h3v3h-3zM475.8 74.5h3v3h-3zM418.8 77.5h3v3h-3zM421.8 77.5h3v3h-3zM427.8 77.5h3v3h-3zM436.8 77.5h3v3h-3zM439.8 77.5h3v3h-3zM442.8 77.5h3v3h-3zM445.8 77.5h3v3h-3zM448.8 77.5h3v3h-3zM451.8 77.5h3v3h-3zM457.8 77.5h3v3h-3zM460.8 77.5h3v3h-3zM463.8 77.5h3v3h-3zM466.8 77.5h3v3h-3zM424.8 80.5h3v3h-3zM427.8 80.5h3v3h-3zM430.8 80.5h3v3h-3zM433.8 80.5h3v3h-3zM436.8 80.5h3v3h-3zM439.8 80.5h3v3h-3zM445.8 80.5h3v3h-3zM454.8 80.5h3v3h-3zM457.8 80.5h3v3h-3zM460.8 80.5h3v3h-3zM466.8 80.5h3v3h-3zM472.8 80.5h3v3h-3zM475.8 80.5h3v3h-3zM478.8 80.5h3v3h-3zM424.8 83.5h3v3h-3zM427.8 83.5h3v3h-3zM430.8 83.5h3v3h-3zM433.8 83.5h3v3h-3zM436.8 83.5h3v3h-3zM445.8 83.5h3v3h-3zM448.8 83.5h3v3h-3zM454.8 83.5h3v3h-3zM457.8 83.5h3v3h-3zM466.8 83.5h3v3h-3zM472.8 83.5h3v3h-3zM481.8 83.5h3v3h-3zM493.8 83.5h3v3h-3zM418.8 86.5h3v3h-3zM421.8 86.5h3v3h-3zM424.8 86.5h3v3h-3zM427.8 86.5h3v3h-3zM433.8 86.5h3v3h-3zM442.8 86.5h3v3h-3zM445.8 86.5h3v3h-3zM448.8 86.5h3v3h-3zM451.8 86.5h3v3h-3zM454.8 86.5h3v3h-3zM457.8 86.5h3v3h-3zM466.8 86.5h3v3h-3zM469.8 86.5h3v3h-3zM472.8 86.5h3v3h-3zM475.8 86.5h3v3h-3zM418.8 89.5h3v3h-3zM421.8 89.5h3v3h-3zM424.8 89.5h3v3h-3zM439.8 89.5h3v3h-3zM445.8 89.5h3v3h-3zM448.8 89.5h3v3h-3zM451.8 89.5h3v3h-3zM454.8 89.5h3v3h-3zM457.8 89.5h3v3h-3zM460.8 89.5h3v3h-3zM463.8 89.5h3v3h-3zM466.8 89.5h3v3h-3zM469.8 89.5h3v3h-3zM481.8 89.5h3v3h-3zM418.8 92.5h3v3h-3zM421.8 92.5h3v3h-3zM430.8 92.5h3v3h-3zM433.8 92.5h3v3h-3zM436.8 92.5h3v3h-3zM448.8 92.5h3v3h-3zM451.8 92.5h3v3h-3zM460.8 92.5h3v3h-3zM463.8 92.5h3v3h-3zM466.8 92.5h3v3h-3zM469.8 92.5h3v3h-3zM472.8 92.5h3v3h-3zM478.8 92.5h3v3h-3zM481.8 92.5h3v3h-3zM418.8 95.5h3v3h-3zM421.8 95.5h3v3h-3zM427.8 95.5h3v3h-3zM430.8 95.5h3v3h-3zM433.8 95.5h3v3h-3zM436.8 95.5h3v3h-3zM445.8 95.5h3v3h-3zM448.8 95.5h3v3h-3zM463.8 95.5h3v3h-3zM466.8 95.5h3v3h-3zM469.8 95.5h3v3h-3zM475.8 95.5h3v3h-3zM478.8 95.5h3v3h-3zM418.8 98.5h3v3h-3zM421.8 98.5h3v3h-3zM424.8 98.5h3v3h-3zM427.8 98.5h3v3h-3zM430.8 98.5h3v3h-3zM433.8 98.5h3v3h-3zM442.8 98.5h3v3h-3zM445.8 98.5h3v3h-3zM448.8 98.5h3v3h-3zM478.8 98.5h3v3h-3zM481.8 98.5h3v3h-3zM421.8 101.5h3v3h-3zM430.8 101.5h3v3h-3zM433.8 101.5h3v3h-3zM436.8 101.5h3v3h-3zM439.8 101.5h3v3h-3zM442.8 101.5h3v3h-3zM451.8 101.5h3v3h-3zM454.8 101.5h3v3h-3zM457.8 101.5h3v3h-3zM460.8 101.5h3v3h-3zM463.8 101.5h3v3h-3zM478.8 101.5h3v3h-3zM418.8 104.5h3v3h-3zM433.8 104.5h3v3h-3zM436.8 104.5h3v3h-3zM439.8 104.5h3v3h-3zM442.8 104.5h3v3h-3zM445.8 104.5h3v3h-3zM451.8 104.5h3v3h-3zM454.8 104.5h3v3h-3zM457.8 104.5h3v3h-3zM460.8 104.5h3v3h-3zM463.8 104.5h3v3h-3zM466.8 104.5h3v3h-3zM469.8 104.5h3v3h-3zM472.8 104.5h3v3h-3zM475.8 104.5h3v3h-3zM481.8 104.5h3v3h-3zM418.8 107.5h3v3h-3zM427.8 107.5h3v3h-3zM430.8 107.5h3v3h-3zM433.8 107.5h3v3h-3zM442.8 107.5h3v3h-3zM448.8 107.5h3v3h-3zM451.8 107.5h3v3h-3zM454.8 107.5h3v3h-3zM457.8 107.5h3v3h-3zM460.8 107.5h3v3h-3zM463.8 107.5h3v3h-3zM466.8 107.5h3v3h-3zM475.8 107.5h3v3h-3zM478.8 107.5h3v3h-3zM481.8 107.5h3v3h-3zM415.8 110.5h3v3h-3zM430.8 110.5h3v3h-3zM433.8 110.5h3v3h-3zM436.8 110.5h3v3h-3zM439.8 110.5h3v3h-3zM442.8 110.5h3v3h-3zM448.8 110.5h3v3h-3zM451.8 110.5h3v3h-3zM463.8 110.5h3v3h-3zM466.8 110.5h3v3h-3zM472.8 110.5h3v3h-3zM475.8 110.5h3v3h-3zM481.8 110.5h3v3h-3zM439.8 113.5h3v3h-3zM445.8 113.5h3v3h-3zM448.8 113.5h3v3h-3zM451.8 113.5h3v3h-3zM454.8 113.5h3v3h-3zM466.8 113.5h3v3h-3zM469.8 113.5h3v3h-3zM472.8 113.5h3v3h-3zM475.8 113.5h3v3h-3zM481.8 113.5h3v3h-3zM418.8 116.5h3v3h-3zM445.8 116.5h3v3h-3zM448.8 116.5h3v3h-3zM451.8 116.5h3v3h-3zM457.8 116.5h3v3h-3zM466.8 116.5h3v3h-3zM469.8 116.5h3v3h-3zM475.8 116.5h3v3h-3zM478.8 116.5h3v3h-3zM418.8 119.5h3v3h-3zM421.8 119.5h3v3h-3zM424.8 119.5h3v3h-3zM445.8 119.5h3v3h-3zM448.8 119.5h3v3h-3zM451.8 119.5h3v3h-3zM460.8 119.5h3v3h-3zM463.8 119.5h3v3h-3zM466.8 119.5h3v3h-3zM475.8 119.5h3v3h-3zM481.8 119.5h3v3h-3zM421.8 122.5h3v3h-3zM424.8 122.5h3v3h-3zM427.8 122.5h3v3h-3zM430.8 122.5h3v3h-3zM433.8 122.5h3v3h-3zM436.8 122.5h3v3h-3zM439.8 122.5h3v3h-3zM442.8 122.5h3v3h-3zM445.8 122.5h3v3h-3zM460.8 122.5h3v3h-3zM463.8 122.5h3v3h-3zM466.8 122.5h3v3h-3zM469.8 122.5h3v3h-3zM472.8 122.5h3v3h-3zM475.8 122.5h3v3h-3zM418.8 125.5h3v3h-3zM421.8 125.5h3v3h-3zM424.8 125.5h3v3h-3zM427.8 125.5h3v3h-3zM430.8 125.5h3v3h-3zM433.8 125.5h3v3h-3zM436.8 125.5h3v3h-3zM442.8 125.5h3v3h-3zM445.8 125.5h3v3h-3zM448.8 125.5h3v3h-3zM451.8 125.5h3v3h-3zM460.8 125.5h3v3h-3zM469.8 125.5h3v3h-3zM472.8 125.5h3v3h-3zM475.8 125.5h3v3h-3zM481.8 125.5h3v3h-3zM418.8 128.5h3v3h-3zM421.8 128.5h3v3h-3zM424.8 128.5h3v3h-3zM427.8 128.5h3v3h-3zM430.8 128.5h3v3h-3zM433.8 128.5h3v3h-3zM436.8 128.5h3v3h-3zM439.8 128.5h3v3h-3zM448.8 128.5h3v3h-3zM451.8 128.5h3v3h-3zM457.8 128.5h3v3h-3zM460.8 128.5h3v3h-3zM463.8 128.5h3v3h-3zM466.8 128.5h3v3h-3zM469.8 128.5h3v3h-3zM472.8 128.5h3v3h-3zM475.8 128.5h3v3h-3zM478.8 128.5h3v3h-3zM481.8 128.5h3v3h-3zM418.8 131.5h3v3h-3zM421.8 131.5h3v3h-3zM424.8 131.5h3v3h-3zM427.8 131.5h3v3h-3zM430.8 131.5h3v3h-3zM433.8 131.5h3v3h-3zM436.8 131.5h3v3h-3zM439.8 131.5h3v3h-3zM442.8 131.5h3v3h-3zM448.8 131.5h3v3h-3zM451.8 131.5h3v3h-3zM460.8 131.5h3v3h-3zM463.8 131.5h3v3h-3zM466.8 131.5h3v3h-3zM469.8 131.5h3v3h-3zM475.8 131.5h3v3h-3zM418.8 134.5h3v3h-3zM421.8 134.5h3v3h-3zM424.8 134.5h3v3h-3zM436.8 134.5h3v3h-3zM439.8 134.5h3v3h-3zM442.8 134.5h3v3h-3zM448.8 134.5h3v3h-3zM451.8 134.5h3v3h-3zM454.8 134.5h3v3h-3zM457.8 134.5h3v3h-3zM460.8 134.5h3v3h-3zM469.8 134.5h3v3h-3zM475.8 134.5h3v3h-3zM481.8 134.5h3v3h-3zM421.8 137.5h3v3h-3zM424.8 137.5h3v3h-3zM427.8 137.5h3v3h-3zM433.8 137.5h3v3h-3zM439.8 137.5h3v3h-3zM442.8 137.5h3v3h-3zM445.8 137.5h3v3h-3zM448.8 137.5h3v3h-3zM451.8 137.5h3v3h-3zM457.8 137.5h3v3h-3zM460.8 137.5h3v3h-3zM472.8 137.5h3v3h-3zM421.8 140.5h3v3h-3zM424.8 140.5h3v3h-3zM433.8 140.5h3v3h-3zM442.8 140.5h3v3h-3zM445.8 140.5h3v3h-3zM448.8 140.5h3v3h-3zM451.8 140.5h3v3h-3zM454.8 140.5h3v3h-3zM457.8 140.5h3v3h-3zM460.8 140.5h3v3h-3zM472.8 140.5h3v3h-3zM475.8 140.5h3v3h-3zM478.8 140.5h3v3h-3zM418.8 143.5h3v3h-3zM421.8 143.5h3v3h-3zM424.8 143.5h3v3h-3zM433.8 143.5h3v3h-3zM436.8 143.5h3v3h-3zM439.8 143.5h3v3h-3zM442.8 143.5h3v3h-3zM451.8 143.5h3v3h-3zM454.8 143.5h3v3h-3zM457.8 143.5h3v3h-3zM460.8 143.5h3v3h-3zM463.8 143.5h3v3h-3zM469.8 143.5h3v3h-3zM472.8 143.5h3v3h-3zM421.8 146.5h3v3h-3zM424.8 146.5h3v3h-3zM427.8 146.5h3v3h-3zM436.8 146.5h3v3h-3zM439.8 146.5h3v3h-3zM442.8 146.5h3v3h-3zM451.8 146.5h3v3h-3zM454.8 146.5h3v3h-3zM457.8 146.5h3v3h-3zM460.8 146.5h3v3h-3zM466.8 146.5h3v3h-3zM469.8 146.5h3v3h-3zM478.8 146.5h3v3h-3zM481.8 146.5h3v3h-3zM421.8 149.5h3v3h-3zM424.8 149.5h3v3h-3zM427.8 149.5h3v3h-3zM436.8 149.5h3v3h-3zM439.8 149.5h3v3h-3zM442.8 149.5h3v3h-3zM445.8 149.5h3v3h-3zM448.8 149.5h3v3h-3zM454.8 149.5h3v3h-3zM457.8 149.5h3v3h-3zM460.8 149.5h3v3h-3zM466.8 149.5h3v3h-3zM472.8 149.5h3v3h-3zM481.8 149.5h3v3h-3zM421.8 152.5h3v3h-3zM427.8 152.5h3v3h-3zM436.8 152.5h3v3h-3zM439.8 152.5h3v3h-3zM445.8 152.5h3v3h-3zM460.8 152.5h3v3h-3zM463.8 152.5h3v3h-3zM466.8 152.5h3v3h-3zM472.8 152.5h3v3h-3zM475.8 152.5h3v3h-3zM478.8 152.5h3v3h-3zM418.8 155.5h3v3h-3zM421.8 155.5h3v3h-3zM427.8 155.5h3v3h-3zM433.8 155.5h3v3h-3zM436.8 155.5h3v3h-3zM439.8 155.5h3v3h-3zM442.8 155.5h3v3h-3zM445.8 155.5h3v3h-3zM448.8 155.5h3v3h-3zM451.8 155.5h3v3h-3zM454.8 155.5h3v3h-3zM457.8 155.5h3v3h-3zM463.8 155.5h3v3h-3zM466.8 155.5h3v3h-3zM469.8 155.5h3v3h-3zM472.8 155.5h3v3h-3zM475.8 155.5h3v3h-3zM478.8 155.5h3v3h-3zM418.8 158.5h3v3h-3zM421.8 158.5h3v3h-3zM430.8 158.5h3v3h-3zM433.8 158.5h3v3h-3zM436.8 158.5h3v3h-3zM439.8 158.5h3v3h-3zM448.8 158.5h3v3h-3zM451.8 158.5h3v3h-3zM454.8 158.5h3v3h-3zM457.8 158.5h3v3h-3zM460.8 158.5h3v3h-3zM421.8 161.5h3v3h-3zM433.8 161.5h3v3h-3zM436.8 161.5h3v3h-3zM439.8 161.5h3v3h-3zM451.8 161.5h3v3h-3zM454.8 161.5h3v3h-3zM457.8 161.5h3v3h-3zM460.8 161.5h3v3h-3zM466.8 161.5h3v3h-3zM469.8 164.5h3v3h-3zM475.8 164.5h3v3h-3zM415.8 167.5h3v3h-3zM469.8 167.5h3v3h-3zM475.8 167.5h3v3h-3zM472.8 179.5h3v3h-3z"/><path fill="rgb(252,252,252)" d="M409.8 38.5h3v3h-3zM427.8 38.5h3v3h-3zM433.8 38.5h3v3h-3zM436.8 38.5h3v3h-3zM463.8 38.5h3v3h-3zM475.8 38.5h3v3h-3zM478.8 38.5h3v3h-3zM406.8 41.5h3v3h-3zM409.8 41.5h3v3h-3zM496.8 41.5h3v3h-3zM496.8 44.5h3v3h-3zM406.8 50.5h3v3h-3zM436.8 53.5h3v3h-3zM439.8 53.5h3v3h-3zM442.8 53.5h3v3h-3zM451.8 53.5h3v3h-3zM454.8 53.5h3v3h-3zM457.8 53.5h3v3h-3zM481.8 53.5h3v3h-3zM433.8 56.5h3v3h-3zM436.8 56.5h3v3h-3zM454.8 56.5h3v3h-3zM457.8 56.5h3v3h-3zM463.8 56.5h3v3h-3zM481.8 56.5h3v3h-3zM433.8 59.5h3v3h-3zM436.8 59.5h3v3h-3zM448.8 59.5h3v3h-3zM454.8 59.5h3v3h-3zM457.8 59.5h3v3h-3zM478.8 59.5h3v3h-3zM481.8 59.5h3v3h-3zM421.8 62.5h3v3h-3zM424.8 62.5h3v3h-3zM433.8 62.5h3v3h-3zM436.8 62.5h3v3h-3zM439.8 62.5h3v3h-3zM442.8 62.5h3v3h-3zM445.8 62.5h3v3h-3zM448.8 62.5h3v3h-3zM451.8 62.5h3v3h-3zM457.8 62.5h3v3h-3zM460.8 62.5h3v3h-3zM478.8 62.5h3v3h-3zM496.8 62.5h3v3h-3zM421.8 65.5h3v3h-3zM427.8 65.5h3v3h-3zM430.8 65.5h3v3h-3zM433.8 65.5h3v3h-3zM436.8 65.5h3v3h-3zM466.8 68.5h3v3h-3zM478.8 68.5h3v3h-3zM406.8 71.5h3v3h-3zM436.8 71.5h3v3h-3zM439.8 71.5h3v3h-3zM442.8 71.5h3v3h-3zM463.8 71.5h3v3h-3zM466.8 71.5h3v3h-3zM469.8 71.5h3v3h-3zM478.8 71.5h3v3h-3zM430.8 74.5h3v3h-3zM433.8 74.5h3v3h-3zM454.8 74.5h3v3h-3zM466.8 74.5h3v3h-3zM469.8 74.5h3v3h-3zM478.8 74.5h3v3h-3zM481.8 74.5h3v3h-3zM406.8 77.5h3v3h-3zM430.8 77.5h3v3h-3zM433.8 77.5h3v3h-3zM454.8 77.5h3v3h-3zM469.8 77.5h3v3h-3zM472.8 77.5h3v3h-3zM475.8 77.5h3v3h-3zM478.8 77.5h3v3h-3zM481.8 77.5h3v3h-3zM418.8 80.5h3v3h-3zM421.8 80.5h3v3h-3zM448.8 80.5h3v3h-3zM451.8 80.5h3v3h-3zM469.8 80.5h3v3h-3zM481.8 80.5h3v3h-3zM418.8 83.5h3v3h-3zM421.8 83.5h3v3h-3zM451.8 83.5h3v3h-3zM469.8 83.5h3v3h-3zM430.8 86.5h3v3h-3zM442.8 89.5h3v3h-3zM472.8 89.5h3v3h-3zM475.8 89.5h3v3h-3zM478.8 89.5h3v3h-3zM439.8 92.5h3v3h-3zM442.8 92.5h3v3h-3zM445.8 92.5h3v3h-3zM475.8 92.5h3v3h-3zM439.8 95.5h3v3h-3zM442.8 95.5h3v3h-3zM496.8 95.5h3v3h-3zM406.8 98.5h3v3h-3zM436.8 98.5h3v3h-3zM439.8 98.5h3v3h-3zM424.8 101.5h3v3h-3zM427.8 101.5h3v3h-3zM445.8 101.5h3v3h-3zM448.8 101.5h3v3h-3zM481.8 101.5h3v3h-3zM421.8 104.5h3v3h-3zM424.8 104.5h3v3h-3zM427.8 104.5h3v3h-3zM430.8 104.5h3v3h-3zM448.8 104.5h3v3h-3zM421.8 107.5h3v3h-3zM424.8 107.5h3v3h-3zM436.8 107.5h3v3h-3zM439.8 107.5h3v3h-3zM469.8 107.5h3v3h-3zM472.8 107.5h3v3h-3zM418.8 110.5h3v3h-3zM421.8 110.5h3v3h-3zM424.8 110.5h3v3h-3zM427.8 110.5h3v3h-3zM469.8 110.5h3v3h-3zM478.8 110.5h3v3h-3zM418.8 113.5h3v3h-3zM421.8 113.5h3v3h-3zM424.8 113.5h3v3h-3zM427.8 113.5h3v3h-3zM430.8 113.5h3v3h-3zM433.8 113.5h3v3h-3zM436.8 113.5h3v3h-3zM442.8 113.5h3v3h-3zM478.8 113.5h3v3h-3zM421.8 116.5h3v3h-3zM424.8 116.5h3v3h-3zM427.8 116.5h3v3h-3zM430.8 116.5h3v3h-3zM433.8 116.5h3v3h-3zM436.8 116.5h3v3h-3zM439.8 116.5h3v3h-3zM442.8 116.5h3v3h-3zM454.8 116.5h3v3h-3zM472.8 116.5h3v3h-3zM481.8 116.5h3v3h-3zM427.8 119.5h3v3h-3zM430.8 119.5h3v3h-3zM433.8 119.5h3v3h-3zM436.8 119.5h3v3h-3zM439.8 119.5h3v3h-3zM442.8 119.5h3v3h-3zM454.8 119.5h3v3h-3zM457.8 119.5h3v3h-3zM469.8 119.5h3v3h-3zM472.8 119.5h3v3h-3zM454.8 122.5h3v3h-3zM457.8 122.5h3v3h-3zM454.8 125.5h3v3h-3zM457.8 125.5h3v3h-3zM463.8 125.5h3v3h-3zM466.8 125.5h3v3h-3zM442.8 128.5h3v3h-3zM445.8 128.5h3v3h-3zM454.8 128.5h3v3h-3zM496.8 128.5h3v3h-3zM445.8 131.5h3v3h-3zM454.8 131.5h3v3h-3zM457.8 131.5h3v3h-3zM478.8 131.5h3v3h-3zM481.8 131.5h3v3h-3zM427.8 134.5h3v3h-3zM430.8 134.5h3v3h-3zM433.8 134.5h3v3h-3zM445.8 134.5h3v3h-3zM463.8 134.5h3v3h-3zM466.8 134.5h3v3h-3zM478.8 134.5h3v3h-3zM418.8 137.5h3v3h-3zM430.8 137.5h3v3h-3zM463.8 137.5h3v3h-3zM466.8 137.5h3v3h-3zM469.8 137.5h3v3h-3zM475.8 137.5h3v3h-3zM478.8 137.5h3v3h-3zM481.8 137.5h3v3h-3zM418.8 140.5h3v3h-3zM427.8 140.5h3v3h-3zM430.8 140.5h3v3h-3zM463.8 140.5h3v3h-3zM466.8 140.5h3v3h-3zM469.8 140.5h3v3h-3zM481.8 140.5h3v3h-3zM427.8 143.5h3v3h-3zM430.8 143.5h3v3h-3zM466.8 143.5h3v3h-3zM475.8 143.5h3v3h-3zM478.8 143.5h3v3h-3zM481.8 143.5h3v3h-3zM418.8 146.5h3v3h-3zM430.8 146.5h3v3h-3zM433.8 146.5h3v3h-3zM463.8 146.5h3v3h-3zM472.8 146.5h3v3h-3zM475.8 146.5h3v3h-3zM418.8 149.5h3v3h-3zM430.8 149.5h3v3h-3zM433.8 149.5h3v3h-3zM451.8 149.5h3v3h-3zM463.8 149.5h3v3h-3zM475.8 149.5h3v3h-3zM478.8 149.5h3v3h-3zM418.8 152.5h3v3h-3zM424.8 152.5h3v3h-3zM430.8 152.5h3v3h-3zM433.8 152.5h3v3h-3zM442.8 152.5h3v3h-3zM448.8 152.5h3v3h-3zM451.8 152.5h3v3h-3zM454.8 152.5h3v3h-3zM457.8 152.5h3v3h-3zM481.8 152.5h3v3h-3zM424.8 155.5h3v3h-3zM481.8 155.5h3v3h-3zM496.8 155.5h3v3h-3zM424.8 158.5h3v3h-3zM427.8 158.5h3v3h-3zM442.8 158.5h3v3h-3zM445.8 158.5h3v3h-3zM463.8 158.5h3v3h-3zM466.8 158.5h3v3h-3zM469.8 158.5h3v3h-3zM472.8 158.5h3v3h-3zM475.8 158.5h3v3h-3zM478.8 158.5h3v3h-3zM481.8 158.5h3v3h-3zM418.8 161.5h3v3h-3zM424.8 161.5h3v3h-3zM427.8 161.5h3v3h-3zM430.8 161.5h3v3h-3zM442.8 161.5h3v3h-3zM445.8 161.5h3v3h-3zM448.8 161.5h3v3h-3zM463.8 161.5h3v3h-3zM469.8 161.5h3v3h-3zM472.8 161.5h3v3h-3zM475.8 161.5h3v3h-3zM478.8 161.5h3v3h-3zM481.8 161.5h3v3h-3zM442.8 164.5h3v3h-3zM445.8 164.5h3v3h-3zM472.8 164.5h3v3h-3zM496.8 164.5h3v3h-3zM406.8 167.5h3v3h-3zM472.8 167.5h3v3h-3zM415.8 185.5h3v3h-3zM418.8 185.5h3v3h-3zM424.8 185.5h3v3h-3zM430.8 185.5h3v3h-3zM454.8 185.5h3v3h-3zM496.8 185.5h3v3h-3z"/></g></g><rect x="513.8" y="41" width="19.8" height="143.6" fill="url(#g2)"/><path d="M514.3 41V184.6M533.1 41V184.6" stroke="#444" stroke-width="1"/><path d="M533.1 41V184.6" stroke="#8a8a8a" stroke-width="1"/><path d="M513.8 40.6H533.6" stroke="#e8505a" stroke-width="1.6"/><g clip-path="url(#c3)"><g filter="url(#bl3)"><path fill="rgb(60,60,60)" d="M609.8 38.5h3v3h-3zM621.8 38.5h3v3h-3zM630.8 38.5h3v3h-3zM636.8 38.5h3v3h-3zM639.8 38.5h3v3h-3zM684.8 38.5h3v3h-3zM606.8 68.5h3v3h-3zM606.8 95.5h3v3h-3zM606.8 98.5h3v3h-3zM606.8 101.5h3v3h-3zM606.8 173.5h3v3h-3zM696.8 173.5h3v3h-3zM606.8 179.5h3v3h-3zM696.8 179.5h3v3h-3zM618.8 185.5h3v3h-3zM624.8 185.5h3v3h-3zM630.8 185.5h3v3h-3zM633.8 185.5h3v3h-3zM651.8 185.5h3v3h-3z"/><path fill="rgb(64,64,64)" d="M624.8 95.5h3v3h-3zM696.8 110.5h3v3h-3z"/><path fill="rgb(68,68,68)" d="M615.8 38.5h3v3h-3zM606.8 146.5h3v3h-3z"/><path fill="rgb(72,72,72)" d="M612.8 185.5h3v3h-3z"/><path fill="rgb(76,76,76)" d="M633.8 119.5h3v3h-3zM606.8 143.5h3v3h-3zM696.8 170.5h3v3h-3zM606.8 185.5h3v3h-3z"/><path fill="rgb(80,80,80)" d="M666.8 38.5h3v3h-3zM624.8 98.5h3v3h-3zM696.8 182.5h3v3h-3zM693.8 185.5h3v3h-3z"/><path fill="rgb(84,84,84)" d="M696.8 53.5h3v3h-3zM696.8 95.5h3v3h-3zM654.8 134.5h3v3h-3zM696.8 155.5h3v3h-3zM606.8 182.5h3v3h-3zM618.8 182.5h3v3h-3zM621.8 185.5h3v3h-3z"/><path fill="rgb(88,88,88)" d="M663.8 65.5h3v3h-3zM606.8 134.5h3v3h-3zM663.8 185.5h3v3h-3z"/><path fill="rgb(92,92,92)" d="M666.8 65.5h3v3h-3zM696.8 89.5h3v3h-3zM654.8 137.5h3v3h-3z"/><path fill="rgb(96,96,96)" d="M684.8 41.5h3v3h-3zM606.8 83.5h3v3h-3zM633.8 113.5h3v3h-3zM606.8 158.5h3v3h-3zM606.8 161.5h3v3h-3zM669.8 185.5h3v3h-3z"/><path fill="rgb(100,100,100)" d="M648.8 38.5h3v3h-3zM633.8 116.5h3v3h-3z"/><path fill="rgb(104,104,104)" d="M669.8 65.5h3v3h-3zM615.8 149.5h3v3h-3zM696.8 158.5h3v3h-3zM642.8 185.5h3v3h-3z"/><path fill="rgb(108,108,108)" d="M624.8 38.5h3v3h-3zM696.8 41.5h3v3h-3zM624.8 47.5h3v3h-3zM669.8 71.5h3v3h-3zM693.8 89.5h3v3h-3zM693.8 92.5h3v3h-3zM633.8 122.5h3v3h-3zM606.8 131.5h3v3h-3zM681.8 131.5h3v3h-3z"/><path fill="rgb(112,112,112)" d="M660.8 65.5h3v3h-3zM606.8 89.5h3v3h-3zM693.8 95.5h3v3h-3zM630.8 119.5h3v3h-3zM696.8 164.5h3v3h-3zM618.8 176.5h3v3h-3zM621.8 182.5h3v3h-3zM624.8 182.5h3v3h-3z"/><path fill="rgb(116,116,116)" d="M627.8 38.5h3v3h-3zM669.8 68.5h3v3h-3zM618.8 179.5h3v3h-3z"/><path fill="rgb(120,120,120)" d="M642.8 38.5h3v3h-3zM669.8 38.5h3v3h-3zM606.8 50.5h3v3h-3zM642.8 77.5h3v3h-3zM693.8 77.5h3v3h-3zM696.8 92.5h3v3h-3zM627.8 95.5h3v3h-3zM657.8 134.5h3v3h-3zM651.8 137.5h3v3h-3zM660.8 155.5h3v3h-3zM609.8 158.5h3v3h-3zM618.8 173.5h3v3h-3zM669.8 182.5h3v3h-3zM696.8 185.5h3v3h-3z"/><path fill="rgb(124,124,124)" d="M624.8 44.5h3v3h-3zM660.8 56.5h3v3h-3zM636.8 71.5h3v3h-3zM654.8 77.5h3v3h-3zM633.8 110.5h3v3h-3zM621.8 116.5h3v3h-3zM684.8 119.5h3v3h-3zM678.8 134.5h3v3h-3zM696.8 143.5h3v3h-3zM612.8 158.5h3v3h-3zM696.8 167.5h3v3h-3zM675.8 170.5h3v3h-3zM615.8 179.5h3v3h-3zM642.8 182.5h3v3h-3z"/><path fill="rgb(128,128,128)" d="M606.8 47.5h3v3h-3zM627.8 47.5h3v3h-3zM696.8 50.5h3v3h-3zM663.8 56.5h3v3h-3zM663.8 62.5h3v3h-3zM645.8 77.5h3v3h-3zM687.8 77.5h3v3h-3zM618.8 83.5h3v3h-3zM615.8 104.5h3v3h-3zM618.8 104.5h3v3h-3zM612.8 107.5h3v3h-3zM615.8 107.5h3v3h-3zM618.8 116.5h3v3h-3zM681.8 119.5h3v3h-3zM675.8 131.5h3v3h-3zM678.8 131.5h3v3h-3zM657.8 137.5h3v3h-3zM615.8 140.5h3v3h-3zM618.8 149.5h3v3h-3zM687.8 155.5h3v3h-3zM678.8 170.5h3v3h-3z"/><path fill="rgb(132,132,132)" d="M615.8 41.5h3v3h-3zM606.8 44.5h3v3h-3zM645.8 56.5h3v3h-3zM648.8 56.5h3v3h-3zM645.8 59.5h3v3h-3zM660.8 59.5h3v3h-3zM648.8 71.5h3v3h-3zM648.8 74.5h3v3h-3zM648.8 77.5h3v3h-3zM696.8 77.5h3v3h-3zM618.8 80.5h3v3h-3zM621.8 80.5h3v3h-3zM630.8 116.5h3v3h-3zM678.8 119.5h3v3h-3zM651.8 134.5h3v3h-3zM645.8 140.5h3v3h-3zM648.8 140.5h3v3h-3zM606.8 155.5h3v3h-3zM645.8 179.5h3v3h-3z"/><path fill="rgb(136,136,136)" d="M672.8 41.5h3v3h-3zM681.8 44.5h3v3h-3zM684.8 44.5h3v3h-3zM693.8 53.5h3v3h-3zM606.8 62.5h3v3h-3zM666.8 68.5h3v3h-3zM657.8 77.5h3v3h-3zM624.8 80.5h3v3h-3zM657.8 83.5h3v3h-3zM684.8 104.5h3v3h-3zM609.8 107.5h3v3h-3zM636.8 110.5h3v3h-3zM669.8 110.5h3v3h-3zM678.8 110.5h3v3h-3zM630.8 122.5h3v3h-3zM666.8 122.5h3v3h-3zM684.8 131.5h3v3h-3zM681.8 134.5h3v3h-3zM621.8 140.5h3v3h-3zM690.8 152.5h3v3h-3zM690.8 155.5h3v3h-3zM606.8 164.5h3v3h-3zM615.8 170.5h3v3h-3zM618.8 170.5h3v3h-3zM684.8 179.5h3v3h-3zM672.8 182.5h3v3h-3z"/><path fill="rgb(140,140,140)" d="M657.8 38.5h3v3h-3zM666.8 41.5h3v3h-3zM627.8 44.5h3v3h-3zM612.8 47.5h3v3h-3zM672.8 50.5h3v3h-3zM687.8 50.5h3v3h-3zM660.8 53.5h3v3h-3zM663.8 53.5h3v3h-3zM648.8 59.5h3v3h-3zM663.8 59.5h3v3h-3zM666.8 62.5h3v3h-3zM669.8 62.5h3v3h-3zM636.8 68.5h3v3h-3zM666.8 71.5h3v3h-3zM651.8 74.5h3v3h-3zM639.8 77.5h3v3h-3zM651.8 77.5h3v3h-3zM651.8 80.5h3v3h-3zM633.8 92.5h3v3h-3zM660.8 92.5h3v3h-3zM663.8 92.5h3v3h-3zM621.8 98.5h3v3h-3zM684.8 98.5h3v3h-3zM684.8 107.5h3v3h-3zM609.8 110.5h3v3h-3zM621.8 113.5h3v3h-3zM630.8 113.5h3v3h-3zM675.8 134.5h3v3h-3zM678.8 137.5h3v3h-3zM696.8 140.5h3v3h-3zM693.8 149.5h3v3h-3zM615.8 152.5h3v3h-3zM693.8 152.5h3v3h-3zM624.8 158.5h3v3h-3zM678.8 161.5h3v3h-3zM606.8 170.5h3v3h-3zM672.8 170.5h3v3h-3zM645.8 176.5h3v3h-3zM681.8 179.5h3v3h-3zM615.8 182.5h3v3h-3zM666.8 185.5h3v3h-3z"/><path fill="rgb(144,144,144)" d="M687.8 38.5h3v3h-3zM639.8 41.5h3v3h-3zM645.8 41.5h3v3h-3zM675.8 50.5h3v3h-3zM687.8 53.5h3v3h-3zM657.8 56.5h3v3h-3zM672.8 65.5h3v3h-3zM648.8 68.5h3v3h-3zM651.8 71.5h3v3h-3zM642.8 80.5h3v3h-3zM648.8 80.5h3v3h-3zM678.8 80.5h3v3h-3zM651.8 83.5h3v3h-3zM663.8 98.5h3v3h-3zM645.8 104.5h3v3h-3zM681.8 110.5h3v3h-3zM618.8 113.5h3v3h-3zM636.8 113.5h3v3h-3zM657.8 116.5h3v3h-3zM627.8 131.5h3v3h-3zM669.8 131.5h3v3h-3zM666.8 134.5h3v3h-3zM666.8 137.5h3v3h-3zM618.8 140.5h3v3h-3zM669.8 152.5h3v3h-3zM615.8 155.5h3v3h-3zM678.8 158.5h3v3h-3zM615.8 164.5h3v3h-3zM678.8 164.5h3v3h-3zM621.8 176.5h3v3h-3zM648.8 176.5h3v3h-3zM609.8 179.5h3v3h-3zM639.8 179.5h3v3h-3zM642.8 179.5h3v3h-3z"/><path fill="rgb(148,148,148)" d="M621.8 41.5h3v3h-3zM630.8 41.5h3v3h-3zM636.8 41.5h3v3h-3zM642.8 41.5h3v3h-3zM669.8 41.5h3v3h-3zM615.8 44.5h3v3h-3zM615.8 47.5h3v3h-3zM612.8 50.5h3v3h-3zM648.8 53.5h3v3h-3zM669.8 53.5h3v3h-3zM606.8 59.5h3v3h-3zM633.8 62.5h3v3h-3zM660.8 62.5h3v3h-3zM615.8 68.5h3v3h-3zM612.8 71.5h3v3h-3zM654.8 74.5h3v3h-3zM675.8 74.5h3v3h-3zM663.8 80.5h3v3h-3zM621.8 83.5h3v3h-3zM624.8 83.5h3v3h-3zM666.8 89.5h3v3h-3zM630.8 95.5h3v3h-3zM654.8 95.5h3v3h-3zM663.8 95.5h3v3h-3zM663.8 101.5h3v3h-3zM612.8 104.5h3v3h-3zM615.8 110.5h3v3h-3zM672.8 113.5h3v3h-3zM636.8 122.5h3v3h-3zM654.8 128.5h3v3h-3zM624.8 131.5h3v3h-3zM684.8 134.5h3v3h-3zM648.8 137.5h3v3h-3zM660.8 152.5h3v3h-3zM609.8 155.5h3v3h-3zM612.8 155.5h3v3h-3zM693.8 155.5h3v3h-3zM639.8 164.5h3v3h-3zM693.8 170.5h3v3h-3zM639.8 173.5h3v3h-3zM693.8 173.5h3v3h-3zM615.8 176.5h3v3h-3zM621.8 179.5h3v3h-3zM627.8 182.5h3v3h-3z"/><path fill="rgb(152,152,152)" d="M663.8 38.5h3v3h-3zM624.8 41.5h3v3h-3zM645.8 44.5h3v3h-3zM636.8 53.5h3v3h-3zM651.8 53.5h3v3h-3zM657.8 53.5h3v3h-3zM672.8 53.5h3v3h-3zM639.8 56.5h3v3h-3zM642.8 56.5h3v3h-3zM624.8 59.5h3v3h-3zM693.8 59.5h3v3h-3zM636.8 62.5h3v3h-3zM612.8 68.5h3v3h-3zM606.8 74.5h3v3h-3zM639.8 74.5h3v3h-3zM615.8 80.5h3v3h-3zM615.8 83.5h3v3h-3zM663.8 89.5h3v3h-3zM606.8 92.5h3v3h-3zM624.8 92.5h3v3h-3zM672.8 98.5h3v3h-3zM684.8 101.5h3v3h-3zM612.8 110.5h3v3h-3zM630.8 110.5h3v3h-3zM675.8 110.5h3v3h-3zM684.8 110.5h3v3h-3zM669.8 113.5h3v3h-3zM684.8 116.5h3v3h-3zM621.8 131.5h3v3h-3zM654.8 131.5h3v3h-3zM642.8 143.5h3v3h-3zM645.8 143.5h3v3h-3zM666.8 149.5h3v3h-3zM690.8 149.5h3v3h-3zM654.8 152.5h3v3h-3zM624.8 155.5h3v3h-3zM657.8 155.5h3v3h-3zM669.8 155.5h3v3h-3zM678.8 155.5h3v3h-3zM684.8 155.5h3v3h-3zM639.8 167.5h3v3h-3zM669.8 170.5h3v3h-3zM615.8 173.5h3v3h-3zM630.8 182.5h3v3h-3zM681.8 182.5h3v3h-3zM693.8 182.5h3v3h-3z"/><path fill="rgb(156,156,156)" d="M681.8 41.5h3v3h-3zM630.8 47.5h3v3h-3zM657.8 47.5h3v3h-3zM675.8 47.5h3v3h-3zM669.8 50.5h3v3h-3zM690.8 53.5h3v3h-3zM693.8 56.5h3v3h-3zM642.8 65.5h3v3h-3zM618.8 68.5h3v3h-3zM633.8 68.5h3v3h-3zM639.8 71.5h3v3h-3zM615.8 74.5h3v3h-3zM636.8 74.5h3v3h-3zM669.8 74.5h3v3h-3zM615.8 77.5h3v3h-3zM660.8 77.5h3v3h-3zM678.8 77.5h3v3h-3zM690.8 77.5h3v3h-3zM678.8 83.5h3v3h-3zM624.8 86.5h3v3h-3zM627.8 86.5h3v3h-3zM630.8 86.5h3v3h-3zM657.8 86.5h3v3h-3zM669.8 86.5h3v3h-3zM621.8 95.5h3v3h-3zM627.8 98.5h3v3h-3zM675.8 98.5h3v3h-3zM642.8 104.5h3v3h-3zM672.8 110.5h3v3h-3zM651.8 113.5h3v3h-3zM669.8 119.5h3v3h-3zM690.8 119.5h3v3h-3zM651.8 128.5h3v3h-3zM693.8 143.5h3v3h-3zM654.8 146.5h3v3h-3zM693.8 146.5h3v3h-3zM609.8 149.5h3v3h-3zM612.8 149.5h3v3h-3zM666.8 152.5h3v3h-3zM636.8 155.5h3v3h-3zM615.8 158.5h3v3h-3zM687.8 158.5h3v3h-3zM690.8 158.5h3v3h-3zM615.8 161.5h3v3h-3zM615.8 167.5h3v3h-3zM678.8 167.5h3v3h-3zM690.8 167.5h3v3h-3zM612.8 170.5h3v3h-3zM621.8 173.5h3v3h-3zM660.8 179.5h3v3h-3zM693.8 179.5h3v3h-3zM639.8 182.5h3v3h-3zM687.8 182.5h3v3h-3z"/><path fill="rgb(160,160,160)" d="M654.8 38.5h3v3h-3zM690.8 38.5h3v3h-3zM672.8 44.5h3v3h-3zM639.8 53.5h3v3h-3zM654.8 53.5h3v3h-3zM675.8 53.5h3v3h-3zM651.8 56.5h3v3h-3zM621.8 59.5h3v3h-3zM642.8 59.5h3v3h-3zM696.8 59.5h3v3h-3zM630.8 62.5h3v3h-3zM672.8 62.5h3v3h-3zM633.8 65.5h3v3h-3zM630.8 68.5h3v3h-3zM639.8 68.5h3v3h-3zM642.8 68.5h3v3h-3zM663.8 68.5h3v3h-3zM696.8 68.5h3v3h-3zM615.8 71.5h3v3h-3zM627.8 71.5h3v3h-3zM672.8 74.5h3v3h-3zM678.8 74.5h3v3h-3zM687.8 74.5h3v3h-3zM654.8 80.5h3v3h-3zM657.8 80.5h3v3h-3zM648.8 83.5h3v3h-3zM654.8 83.5h3v3h-3zM666.8 86.5h3v3h-3zM693.8 86.5h3v3h-3zM636.8 92.5h3v3h-3zM690.8 95.5h3v3h-3zM621.8 104.5h3v3h-3zM630.8 107.5h3v3h-3zM648.8 113.5h3v3h-3zM627.8 128.5h3v3h-3zM636.8 128.5h3v3h-3zM633.8 137.5h3v3h-3zM612.8 140.5h3v3h-3zM693.8 140.5h3v3h-3zM639.8 143.5h3v3h-3zM624.8 146.5h3v3h-3zM645.8 152.5h3v3h-3zM654.8 155.5h3v3h-3zM681.8 155.5h3v3h-3zM609.8 161.5h3v3h-3zM624.8 161.5h3v3h-3zM648.8 161.5h3v3h-3zM690.8 170.5h3v3h-3zM630.8 176.5h3v3h-3zM633.8 176.5h3v3h-3zM684.8 176.5h3v3h-3zM624.8 179.5h3v3h-3zM660.8 182.5h3v3h-3z"/><path fill="rgb(164,164,164)" d="M627.8 41.5h3v3h-3zM648.8 41.5h3v3h-3zM675.8 44.5h3v3h-3zM615.8 50.5h3v3h-3zM624.8 50.5h3v3h-3zM654.8 50.5h3v3h-3zM609.8 59.5h3v3h-3zM639.8 62.5h3v3h-3zM618.8 65.5h3v3h-3zM630.8 65.5h3v3h-3zM660.8 68.5h3v3h-3zM633.8 71.5h3v3h-3zM645.8 74.5h3v3h-3zM693.8 74.5h3v3h-3zM660.8 80.5h3v3h-3zM687.8 80.5h3v3h-3zM609.8 83.5h3v3h-3zM639.8 83.5h3v3h-3zM642.8 83.5h3v3h-3zM612.8 86.5h3v3h-3zM660.8 89.5h3v3h-3zM669.8 89.5h3v3h-3zM648.8 95.5h3v3h-3zM657.8 95.5h3v3h-3zM651.8 110.5h3v3h-3zM615.8 113.5h3v3h-3zM687.8 116.5h3v3h-3zM606.8 119.5h3v3h-3zM639.8 122.5h3v3h-3zM663.8 122.5h3v3h-3zM678.8 122.5h3v3h-3zM645.8 125.5h3v3h-3zM621.8 128.5h3v3h-3zM624.8 128.5h3v3h-3zM657.8 131.5h3v3h-3zM624.8 134.5h3v3h-3zM627.8 134.5h3v3h-3zM669.8 134.5h3v3h-3zM612.8 137.5h3v3h-3zM696.8 137.5h3v3h-3zM648.8 143.5h3v3h-3zM609.8 146.5h3v3h-3zM666.8 146.5h3v3h-3zM696.8 146.5h3v3h-3zM624.8 149.5h3v3h-3zM618.8 152.5h3v3h-3zM624.8 152.5h3v3h-3zM642.8 152.5h3v3h-3zM651.8 152.5h3v3h-3zM663.8 152.5h3v3h-3zM687.8 152.5h3v3h-3zM636.8 158.5h3v3h-3zM642.8 158.5h3v3h-3zM651.8 161.5h3v3h-3zM618.8 167.5h3v3h-3zM609.8 170.5h3v3h-3zM639.8 176.5h3v3h-3zM651.8 176.5h3v3h-3zM648.8 179.5h3v3h-3zM669.8 179.5h3v3h-3zM687.8 179.5h3v3h-3zM612.8 182.5h3v3h-3zM678.8 182.5h3v3h-3zM684.8 182.5h3v3h-3z"/><path fill="rgb(168,168,168)" d="M648.8 44.5h3v3h-3zM645.8 47.5h3v3h-3zM648.8 50.5h3v3h-3zM651.8 50.5h3v3h-3zM690.8 50.5h3v3h-3zM693.8 50.5h3v3h-3zM666.8 53.5h3v3h-3zM636.8 56.5h3v3h-3zM636.8 59.5h3v3h-3zM621.8 62.5h3v3h-3zM642.8 62.5h3v3h-3zM615.8 65.5h3v3h-3zM636.8 65.5h3v3h-3zM657.8 65.5h3v3h-3zM627.8 68.5h3v3h-3zM651.8 68.5h3v3h-3zM609.8 74.5h3v3h-3zM612.8 74.5h3v3h-3zM639.8 80.5h3v3h-3zM645.8 80.5h3v3h-3zM681.8 83.5h3v3h-3zM609.8 86.5h3v3h-3zM615.8 86.5h3v3h-3zM633.8 89.5h3v3h-3zM630.8 92.5h3v3h-3zM639.8 92.5h3v3h-3zM666.8 92.5h3v3h-3zM651.8 95.5h3v3h-3zM660.8 95.5h3v3h-3zM684.8 95.5h3v3h-3zM681.8 98.5h3v3h-3zM609.8 104.5h3v3h-3zM639.8 104.5h3v3h-3zM648.8 104.5h3v3h-3zM618.8 107.5h3v3h-3zM627.8 107.5h3v3h-3zM636.8 107.5h3v3h-3zM669.8 107.5h3v3h-3zM618.8 110.5h3v3h-3zM654.8 110.5h3v3h-3zM609.8 113.5h3v3h-3zM675.8 113.5h3v3h-3zM678.8 113.5h3v3h-3zM615.8 116.5h3v3h-3zM648.8 116.5h3v3h-3zM609.8 119.5h3v3h-3zM645.8 122.5h3v3h-3zM657.8 122.5h3v3h-3zM669.8 122.5h3v3h-3zM636.8 125.5h3v3h-3zM654.8 125.5h3v3h-3zM666.8 131.5h3v3h-3zM615.8 137.5h3v3h-3zM624.8 140.5h3v3h-3zM642.8 140.5h3v3h-3zM678.8 140.5h3v3h-3zM624.8 143.5h3v3h-3zM672.8 143.5h3v3h-3zM618.8 146.5h3v3h-3zM663.8 149.5h3v3h-3zM639.8 152.5h3v3h-3zM648.8 152.5h3v3h-3zM639.8 155.5h3v3h-3zM627.8 158.5h3v3h-3zM693.8 158.5h3v3h-3zM627.8 161.5h3v3h-3zM675.8 167.5h3v3h-3zM687.8 167.5h3v3h-3zM639.8 170.5h3v3h-3zM669.8 173.5h3v3h-3zM681.8 173.5h3v3h-3zM684.8 173.5h3v3h-3zM690.8 173.5h3v3h-3zM669.8 176.5h3v3h-3zM609.8 182.5h3v3h-3zM645.8 182.5h3v3h-3z"/><path fill="rgb(172,172,172)" d="M606.8 41.5h3v3h-3zM618.8 41.5h3v3h-3zM678.8 44.5h3v3h-3zM648.8 47.5h3v3h-3zM681.8 47.5h3v3h-3zM609.8 50.5h3v3h-3zM630.8 50.5h3v3h-3zM633.8 50.5h3v3h-3zM633.8 53.5h3v3h-3zM678.8 53.5h3v3h-3zM678.8 56.5h3v3h-3zM633.8 59.5h3v3h-3zM639.8 59.5h3v3h-3zM651.8 59.5h3v3h-3zM618.8 62.5h3v3h-3zM645.8 65.5h3v3h-3zM675.8 65.5h3v3h-3zM609.8 68.5h3v3h-3zM621.8 68.5h3v3h-3zM645.8 68.5h3v3h-3zM654.8 71.5h3v3h-3zM666.8 74.5h3v3h-3zM609.8 77.5h3v3h-3zM612.8 77.5h3v3h-3zM609.8 89.5h3v3h-3zM648.8 89.5h3v3h-3zM651.8 89.5h3v3h-3zM684.8 92.5h3v3h-3zM633.8 95.5h3v3h-3zM672.8 95.5h3v3h-3zM693.8 98.5h3v3h-3zM615.8 101.5h3v3h-3zM687.8 104.5h3v3h-3zM672.8 107.5h3v3h-3zM621.8 110.5h3v3h-3zM639.8 110.5h3v3h-3zM648.8 110.5h3v3h-3zM609.8 116.5h3v3h-3zM690.8 116.5h3v3h-3zM618.8 119.5h3v3h-3zM621.8 119.5h3v3h-3zM636.8 119.5h3v3h-3zM657.8 119.5h3v3h-3zM675.8 119.5h3v3h-3zM687.8 119.5h3v3h-3zM609.8 122.5h3v3h-3zM621.8 122.5h3v3h-3zM633.8 125.5h3v3h-3zM645.8 128.5h3v3h-3zM648.8 128.5h3v3h-3zM681.8 128.5h3v3h-3zM609.8 131.5h3v3h-3zM615.8 134.5h3v3h-3zM684.8 137.5h3v3h-3zM633.8 140.5h3v3h-3zM678.8 143.5h3v3h-3zM639.8 146.5h3v3h-3zM663.8 146.5h3v3h-3zM642.8 155.5h3v3h-3zM609.8 164.5h3v3h-3zM663.8 167.5h3v3h-3zM669.8 167.5h3v3h-3zM621.8 170.5h3v3h-3zM678.8 173.5h3v3h-3zM687.8 173.5h3v3h-3zM687.8 176.5h3v3h-3zM612.8 179.5h3v3h-3zM678.8 179.5h3v3h-3zM660.8 185.5h3v3h-3z"/><path fill="rgb(176,176,176)" d="M672.8 38.5h3v3h-3zM612.8 41.5h3v3h-3zM612.8 44.5h3v3h-3zM618.8 44.5h3v3h-3zM621.8 44.5h3v3h-3zM630.8 44.5h3v3h-3zM654.8 47.5h3v3h-3zM627.8 50.5h3v3h-3zM654.8 56.5h3v3h-3zM669.8 56.5h3v3h-3zM630.8 59.5h3v3h-3zM624.8 62.5h3v3h-3zM645.8 62.5h3v3h-3zM675.8 62.5h3v3h-3zM639.8 65.5h3v3h-3zM630.8 71.5h3v3h-3zM672.8 71.5h3v3h-3zM681.8 71.5h3v3h-3zM636.8 77.5h3v3h-3zM609.8 80.5h3v3h-3zM693.8 80.5h3v3h-3zM618.8 86.5h3v3h-3zM639.8 86.5h3v3h-3zM621.8 92.5h3v3h-3zM648.8 92.5h3v3h-3zM657.8 92.5h3v3h-3zM666.8 95.5h3v3h-3zM669.8 95.5h3v3h-3zM624.8 101.5h3v3h-3zM633.8 107.5h3v3h-3zM687.8 107.5h3v3h-3zM651.8 116.5h3v3h-3zM666.8 119.5h3v3h-3zM672.8 119.5h3v3h-3zM648.8 122.5h3v3h-3zM681.8 122.5h3v3h-3zM630.8 125.5h3v3h-3zM657.8 125.5h3v3h-3zM639.8 128.5h3v3h-3zM657.8 128.5h3v3h-3zM615.8 131.5h3v3h-3zM636.8 131.5h3v3h-3zM621.8 134.5h3v3h-3zM660.8 137.5h3v3h-3zM669.8 137.5h3v3h-3zM681.8 137.5h3v3h-3zM666.8 140.5h3v3h-3zM609.8 143.5h3v3h-3zM651.8 143.5h3v3h-3zM627.8 146.5h3v3h-3zM660.8 146.5h3v3h-3zM675.8 146.5h3v3h-3zM621.8 155.5h3v3h-3zM651.8 155.5h3v3h-3zM675.8 155.5h3v3h-3zM639.8 158.5h3v3h-3zM612.8 161.5h3v3h-3zM669.8 161.5h3v3h-3zM690.8 161.5h3v3h-3zM618.8 164.5h3v3h-3zM642.8 164.5h3v3h-3zM648.8 164.5h3v3h-3zM612.8 167.5h3v3h-3zM627.8 170.5h3v3h-3zM609.8 173.5h3v3h-3zM630.8 173.5h3v3h-3zM627.8 176.5h3v3h-3zM654.8 176.5h3v3h-3zM636.8 179.5h3v3h-3zM666.8 182.5h3v3h-3zM687.8 185.5h3v3h-3z"/><path fill="rgb(180,180,180)" d="M642.8 44.5h3v3h-3zM657.8 44.5h3v3h-3zM609.8 47.5h3v3h-3zM618.8 47.5h3v3h-3zM621.8 47.5h3v3h-3zM657.8 50.5h3v3h-3zM624.8 53.5h3v3h-3zM624.8 56.5h3v3h-3zM672.8 56.5h3v3h-3zM612.8 59.5h3v3h-3zM648.8 65.5h3v3h-3zM624.8 68.5h3v3h-3zM609.8 71.5h3v3h-3zM663.8 71.5h3v3h-3zM684.8 74.5h3v3h-3zM663.8 77.5h3v3h-3zM675.8 77.5h3v3h-3zM666.8 80.5h3v3h-3zM681.8 80.5h3v3h-3zM627.8 83.5h3v3h-3zM633.8 86.5h3v3h-3zM696.8 86.5h3v3h-3zM684.8 89.5h3v3h-3zM690.8 89.5h3v3h-3zM669.8 92.5h3v3h-3zM618.8 101.5h3v3h-3zM621.8 101.5h3v3h-3zM675.8 101.5h3v3h-3zM636.8 104.5h3v3h-3zM675.8 107.5h3v3h-3zM615.8 119.5h3v3h-3zM693.8 119.5h3v3h-3zM639.8 125.5h3v3h-3zM678.8 125.5h3v3h-3zM693.8 125.5h3v3h-3zM618.8 131.5h3v3h-3zM693.8 131.5h3v3h-3zM609.8 134.5h3v3h-3zM696.8 134.5h3v3h-3zM675.8 137.5h3v3h-3zM651.8 140.5h3v3h-3zM657.8 146.5h3v3h-3zM678.8 146.5h3v3h-3zM690.8 146.5h3v3h-3zM606.8 149.5h3v3h-3zM639.8 149.5h3v3h-3zM675.8 149.5h3v3h-3zM696.8 149.5h3v3h-3zM663.8 155.5h3v3h-3zM630.8 158.5h3v3h-3zM630.8 164.5h3v3h-3zM609.8 167.5h3v3h-3zM672.8 167.5h3v3h-3zM693.8 167.5h3v3h-3zM681.8 170.5h3v3h-3zM672.8 173.5h3v3h-3zM624.8 176.5h3v3h-3zM642.8 176.5h3v3h-3zM657.8 176.5h3v3h-3zM660.8 176.5h3v3h-3zM681.8 176.5h3v3h-3zM627.8 179.5h3v3h-3zM633.8 179.5h3v3h-3zM663.8 182.5h3v3h-3z"/><path fill="rgb(184,184,184)" d="M678.8 38.5h3v3h-3zM609.8 41.5h3v3h-3zM663.8 41.5h3v3h-3zM687.8 41.5h3v3h-3zM633.8 47.5h3v3h-3zM645.8 53.5h3v3h-3zM627.8 59.5h3v3h-3zM657.8 59.5h3v3h-3zM615.8 62.5h3v3h-3zM654.8 68.5h3v3h-3zM642.8 74.5h3v3h-3zM681.8 74.5h3v3h-3zM624.8 77.5h3v3h-3zM684.8 77.5h3v3h-3zM696.8 80.5h3v3h-3zM645.8 83.5h3v3h-3zM651.8 86.5h3v3h-3zM612.8 89.5h3v3h-3zM657.8 89.5h3v3h-3zM681.8 89.5h3v3h-3zM687.8 95.5h3v3h-3zM687.8 98.5h3v3h-3zM681.8 107.5h3v3h-3zM627.8 110.5h3v3h-3zM687.8 110.5h3v3h-3zM627.8 113.5h3v3h-3zM639.8 113.5h3v3h-3zM654.8 113.5h3v3h-3zM657.8 113.5h3v3h-3zM636.8 116.5h3v3h-3zM645.8 116.5h3v3h-3zM654.8 116.5h3v3h-3zM669.8 116.5h3v3h-3zM615.8 122.5h3v3h-3zM609.8 125.5h3v3h-3zM627.8 125.5h3v3h-3zM615.8 128.5h3v3h-3zM693.8 128.5h3v3h-3zM672.8 131.5h3v3h-3zM636.8 134.5h3v3h-3zM648.8 134.5h3v3h-3zM693.8 134.5h3v3h-3zM636.8 137.5h3v3h-3zM669.8 140.5h3v3h-3zM672.8 140.5h3v3h-3zM621.8 143.5h3v3h-3zM633.8 143.5h3v3h-3zM666.8 143.5h3v3h-3zM669.8 143.5h3v3h-3zM675.8 143.5h3v3h-3zM615.8 146.5h3v3h-3zM642.8 146.5h3v3h-3zM645.8 146.5h3v3h-3zM651.8 146.5h3v3h-3zM645.8 149.5h3v3h-3zM660.8 149.5h3v3h-3zM636.8 152.5h3v3h-3zM657.8 152.5h3v3h-3zM696.8 152.5h3v3h-3zM645.8 155.5h3v3h-3zM675.8 158.5h3v3h-3zM684.8 158.5h3v3h-3zM675.8 161.5h3v3h-3zM612.8 164.5h3v3h-3zM645.8 164.5h3v3h-3zM651.8 164.5h3v3h-3zM669.8 164.5h3v3h-3zM645.8 167.5h3v3h-3zM660.8 167.5h3v3h-3zM630.8 170.5h3v3h-3zM663.8 170.5h3v3h-3zM666.8 170.5h3v3h-3zM675.8 173.5h3v3h-3zM636.8 176.5h3v3h-3zM663.8 179.5h3v3h-3zM666.8 179.5h3v3h-3zM675.8 182.5h3v3h-3zM672.8 185.5h3v3h-3z"/><path fill="rgb(188,188,188)" d="M660.8 44.5h3v3h-3zM660.8 47.5h3v3h-3zM672.8 47.5h3v3h-3zM678.8 47.5h3v3h-3zM684.8 47.5h3v3h-3zM618.8 50.5h3v3h-3zM660.8 50.5h3v3h-3zM612.8 53.5h3v3h-3zM609.8 62.5h3v3h-3zM657.8 62.5h3v3h-3zM621.8 65.5h3v3h-3zM654.8 65.5h3v3h-3zM618.8 71.5h3v3h-3zM606.8 77.5h3v3h-3zM612.8 80.5h3v3h-3zM612.8 83.5h3v3h-3zM636.8 83.5h3v3h-3zM660.8 83.5h3v3h-3zM663.8 86.5h3v3h-3zM609.8 95.5h3v3h-3zM666.8 98.5h3v3h-3zM636.8 101.5h3v3h-3zM642.8 101.5h3v3h-3zM645.8 101.5h3v3h-3zM648.8 101.5h3v3h-3zM681.8 101.5h3v3h-3zM639.8 107.5h3v3h-3zM624.8 110.5h3v3h-3zM657.8 110.5h3v3h-3zM612.8 113.5h3v3h-3zM606.8 116.5h3v3h-3zM627.8 116.5h3v3h-3zM672.8 116.5h3v3h-3zM648.8 119.5h3v3h-3zM642.8 122.5h3v3h-3zM615.8 125.5h3v3h-3zM648.8 125.5h3v3h-3zM666.8 125.5h3v3h-3zM609.8 128.5h3v3h-3zM630.8 128.5h3v3h-3zM678.8 128.5h3v3h-3zM651.8 131.5h3v3h-3zM687.8 131.5h3v3h-3zM612.8 134.5h3v3h-3zM618.8 134.5h3v3h-3zM693.8 137.5h3v3h-3zM609.8 140.5h3v3h-3zM654.8 143.5h3v3h-3zM690.8 143.5h3v3h-3zM612.8 152.5h3v3h-3zM648.8 155.5h3v3h-3zM642.8 161.5h3v3h-3zM645.8 161.5h3v3h-3zM630.8 167.5h3v3h-3zM642.8 167.5h3v3h-3zM687.8 170.5h3v3h-3zM642.8 173.5h3v3h-3zM666.8 173.5h3v3h-3zM663.8 176.5h3v3h-3zM666.8 176.5h3v3h-3zM630.8 179.5h3v3h-3z"/><path fill="rgb(192,192,192)" d="M657.8 41.5h3v3h-3zM675.8 41.5h3v3h-3zM678.8 41.5h3v3h-3zM696.8 44.5h3v3h-3zM642.8 47.5h3v3h-3zM651.8 47.5h3v3h-3zM636.8 50.5h3v3h-3zM645.8 50.5h3v3h-3zM666.8 50.5h3v3h-3zM684.8 50.5h3v3h-3zM609.8 56.5h3v3h-3zM612.8 56.5h3v3h-3zM666.8 56.5h3v3h-3zM675.8 56.5h3v3h-3zM672.8 59.5h3v3h-3zM624.8 65.5h3v3h-3zM621.8 71.5h3v3h-3zM624.8 71.5h3v3h-3zM645.8 71.5h3v3h-3zM660.8 71.5h3v3h-3zM690.8 74.5h3v3h-3zM627.8 80.5h3v3h-3zM669.8 80.5h3v3h-3zM684.8 80.5h3v3h-3zM693.8 83.5h3v3h-3zM645.8 86.5h3v3h-3zM654.8 86.5h3v3h-3zM660.8 86.5h3v3h-3zM678.8 86.5h3v3h-3zM690.8 86.5h3v3h-3zM630.8 89.5h3v3h-3zM681.8 92.5h3v3h-3zM660.8 98.5h3v3h-3zM690.8 98.5h3v3h-3zM696.8 98.5h3v3h-3zM612.8 101.5h3v3h-3zM639.8 101.5h3v3h-3zM621.8 107.5h3v3h-3zM666.8 110.5h3v3h-3zM645.8 113.5h3v3h-3zM681.8 113.5h3v3h-3zM684.8 113.5h3v3h-3zM660.8 116.5h3v3h-3zM627.8 122.5h3v3h-3zM693.8 122.5h3v3h-3zM612.8 125.5h3v3h-3zM621.8 125.5h3v3h-3zM624.8 125.5h3v3h-3zM651.8 125.5h3v3h-3zM696.8 125.5h3v3h-3zM606.8 128.5h3v3h-3zM675.8 128.5h3v3h-3zM690.8 140.5h3v3h-3zM618.8 143.5h3v3h-3zM642.8 149.5h3v3h-3zM669.8 149.5h3v3h-3zM609.8 152.5h3v3h-3zM621.8 152.5h3v3h-3zM618.8 155.5h3v3h-3zM666.8 155.5h3v3h-3zM645.8 158.5h3v3h-3zM669.8 158.5h3v3h-3zM693.8 164.5h3v3h-3zM648.8 167.5h3v3h-3zM642.8 170.5h3v3h-3zM627.8 173.5h3v3h-3zM645.8 173.5h3v3h-3zM663.8 173.5h3v3h-3zM606.8 176.5h3v3h-3zM690.8 179.5h3v3h-3zM633.8 182.5h3v3h-3zM609.8 185.5h3v3h-3zM678.8 185.5h3v3h-3z"/><path fill="rgb(196,196,196)" d="M660.8 41.5h3v3h-3zM663.8 50.5h3v3h-3zM609.8 53.5h3v3h-3zM630.8 53.5h3v3h-3zM642.8 53.5h3v3h-3zM633.8 56.5h3v3h-3zM690.8 56.5h3v3h-3zM690.8 59.5h3v3h-3zM612.8 62.5h3v3h-3zM648.8 62.5h3v3h-3zM672.8 68.5h3v3h-3zM681.8 68.5h3v3h-3zM618.8 74.5h3v3h-3zM621.8 74.5h3v3h-3zM657.8 74.5h3v3h-3zM672.8 77.5h3v3h-3zM669.8 83.5h3v3h-3zM696.8 83.5h3v3h-3zM621.8 86.5h3v3h-3zM642.8 86.5h3v3h-3zM648.8 86.5h3v3h-3zM672.8 92.5h3v3h-3zM615.8 95.5h3v3h-3zM636.8 95.5h3v3h-3zM618.8 98.5h3v3h-3zM669.8 98.5h3v3h-3zM660.8 101.5h3v3h-3zM687.8 101.5h3v3h-3zM648.8 107.5h3v3h-3zM696.8 107.5h3v3h-3zM606.8 110.5h3v3h-3zM693.8 110.5h3v3h-3zM624.8 113.5h3v3h-3zM687.8 113.5h3v3h-3zM624.8 116.5h3v3h-3zM681.8 116.5h3v3h-3zM606.8 122.5h3v3h-3zM618.8 122.5h3v3h-3zM684.8 122.5h3v3h-3zM642.8 125.5h3v3h-3zM669.8 125.5h3v3h-3zM675.8 125.5h3v3h-3zM612.8 128.5h3v3h-3zM684.8 128.5h3v3h-3zM612.8 131.5h3v3h-3zM630.8 131.5h3v3h-3zM648.8 131.5h3v3h-3zM672.8 134.5h3v3h-3zM663.8 137.5h3v3h-3zM675.8 140.5h3v3h-3zM627.8 143.5h3v3h-3zM636.8 143.5h3v3h-3zM648.8 146.5h3v3h-3zM672.8 146.5h3v3h-3zM621.8 149.5h3v3h-3zM633.8 158.5h3v3h-3zM660.8 158.5h3v3h-3zM666.8 158.5h3v3h-3zM666.8 161.5h3v3h-3zM627.8 164.5h3v3h-3zM636.8 164.5h3v3h-3zM675.8 164.5h3v3h-3zM621.8 167.5h3v3h-3zM636.8 167.5h3v3h-3zM666.8 167.5h3v3h-3zM645.8 170.5h3v3h-3zM660.8 170.5h3v3h-3zM612.8 173.5h3v3h-3zM636.8 173.5h3v3h-3zM672.8 176.5h3v3h-3zM690.8 176.5h3v3h-3zM651.8 182.5h3v3h-3zM681.8 185.5h3v3h-3z"/><path fill="rgb(200,200,200)" d="M660.8 38.5h3v3h-3zM687.8 44.5h3v3h-3zM636.8 47.5h3v3h-3zM639.8 50.5h3v3h-3zM669.8 59.5h3v3h-3zM612.8 65.5h3v3h-3zM681.8 65.5h3v3h-3zM642.8 71.5h3v3h-3zM678.8 71.5h3v3h-3zM693.8 71.5h3v3h-3zM624.8 74.5h3v3h-3zM636.8 86.5h3v3h-3zM639.8 89.5h3v3h-3zM654.8 89.5h3v3h-3zM672.8 89.5h3v3h-3zM651.8 92.5h3v3h-3zM654.8 92.5h3v3h-3zM690.8 92.5h3v3h-3zM612.8 95.5h3v3h-3zM681.8 95.5h3v3h-3zM615.8 98.5h3v3h-3zM651.8 101.5h3v3h-3zM693.8 101.5h3v3h-3zM627.8 104.5h3v3h-3zM663.8 104.5h3v3h-3zM675.8 104.5h3v3h-3zM681.8 104.5h3v3h-3zM654.8 107.5h3v3h-3zM678.8 107.5h3v3h-3zM645.8 110.5h3v3h-3zM690.8 113.5h3v3h-3zM693.8 116.5h3v3h-3zM645.8 119.5h3v3h-3zM624.8 122.5h3v3h-3zM660.8 122.5h3v3h-3zM606.8 125.5h3v3h-3zM618.8 128.5h3v3h-3zM642.8 128.5h3v3h-3zM690.8 131.5h3v3h-3zM687.8 134.5h3v3h-3zM609.8 137.5h3v3h-3zM621.8 137.5h3v3h-3zM624.8 137.5h3v3h-3zM672.8 137.5h3v3h-3zM636.8 140.5h3v3h-3zM621.8 146.5h3v3h-3zM633.8 155.5h3v3h-3zM672.8 155.5h3v3h-3zM651.8 158.5h3v3h-3zM663.8 158.5h3v3h-3zM681.8 158.5h3v3h-3zM639.8 161.5h3v3h-3zM687.8 161.5h3v3h-3zM633.8 164.5h3v3h-3zM684.8 170.5h3v3h-3zM654.8 173.5h3v3h-3zM651.8 179.5h3v3h-3zM657.8 179.5h3v3h-3zM672.8 179.5h3v3h-3zM627.8 185.5h3v3h-3zM636.8 185.5h3v3h-3z"/><path fill="rgb(204,204,204)" d="M681.8 38.5h3v3h-3zM690.8 41.5h3v3h-3zM639.8 44.5h3v3h-3zM642.8 50.5h3v3h-3zM678.8 50.5h3v3h-3zM627.8 53.5h3v3h-3zM675.8 59.5h3v3h-3zM654.8 62.5h3v3h-3zM684.8 62.5h3v3h-3zM690.8 62.5h3v3h-3zM651.8 65.5h3v3h-3zM675.8 71.5h3v3h-3zM660.8 74.5h3v3h-3zM618.8 77.5h3v3h-3zM666.8 77.5h3v3h-3zM675.8 80.5h3v3h-3zM690.8 80.5h3v3h-3zM663.8 83.5h3v3h-3zM666.8 83.5h3v3h-3zM606.8 86.5h3v3h-3zM672.8 86.5h3v3h-3zM681.8 86.5h3v3h-3zM618.8 89.5h3v3h-3zM645.8 89.5h3v3h-3zM609.8 92.5h3v3h-3zM618.8 95.5h3v3h-3zM630.8 98.5h3v3h-3zM627.8 101.5h3v3h-3zM678.8 101.5h3v3h-3zM690.8 101.5h3v3h-3zM630.8 104.5h3v3h-3zM624.8 107.5h3v3h-3zM645.8 107.5h3v3h-3zM651.8 107.5h3v3h-3zM690.8 110.5h3v3h-3zM678.8 116.5h3v3h-3zM627.8 119.5h3v3h-3zM663.8 119.5h3v3h-3zM654.8 122.5h3v3h-3zM660.8 125.5h3v3h-3zM663.8 125.5h3v3h-3zM672.8 125.5h3v3h-3zM681.8 125.5h3v3h-3zM690.8 125.5h3v3h-3zM633.8 128.5h3v3h-3zM639.8 131.5h3v3h-3zM660.8 134.5h3v3h-3zM663.8 134.5h3v3h-3zM615.8 143.5h3v3h-3zM663.8 143.5h3v3h-3zM669.8 146.5h3v3h-3zM681.8 146.5h3v3h-3zM636.8 149.5h3v3h-3zM654.8 149.5h3v3h-3zM672.8 152.5h3v3h-3zM621.8 158.5h3v3h-3zM648.8 158.5h3v3h-3zM618.8 161.5h3v3h-3zM630.8 161.5h3v3h-3zM690.8 164.5h3v3h-3zM627.8 167.5h3v3h-3zM633.8 167.5h3v3h-3zM684.8 167.5h3v3h-3zM648.8 173.5h3v3h-3zM651.8 173.5h3v3h-3zM660.8 173.5h3v3h-3zM678.8 176.5h3v3h-3zM636.8 182.5h3v3h-3zM648.8 182.5h3v3h-3zM690.8 182.5h3v3h-3z"/><path fill="rgb(208,208,208)" d="M669.8 44.5h3v3h-3zM621.8 50.5h3v3h-3zM681.8 50.5h3v3h-3zM621.8 56.5h3v3h-3zM630.8 56.5h3v3h-3zM654.8 59.5h3v3h-3zM678.8 59.5h3v3h-3zM690.8 65.5h3v3h-3zM690.8 71.5h3v3h-3zM633.8 74.5h3v3h-3zM663.8 74.5h3v3h-3zM621.8 77.5h3v3h-3zM669.8 77.5h3v3h-3zM681.8 77.5h3v3h-3zM636.8 80.5h3v3h-3zM672.8 80.5h3v3h-3zM675.8 83.5h3v3h-3zM684.8 83.5h3v3h-3zM621.8 89.5h3v3h-3zM624.8 89.5h3v3h-3zM636.8 89.5h3v3h-3zM612.8 92.5h3v3h-3zM618.8 92.5h3v3h-3zM627.8 92.5h3v3h-3zM639.8 95.5h3v3h-3zM675.8 95.5h3v3h-3zM642.8 98.5h3v3h-3zM654.8 98.5h3v3h-3zM657.8 98.5h3v3h-3zM678.8 98.5h3v3h-3zM609.8 101.5h3v3h-3zM672.8 101.5h3v3h-3zM624.8 104.5h3v3h-3zM633.8 104.5h3v3h-3zM606.8 107.5h3v3h-3zM660.8 119.5h3v3h-3zM612.8 122.5h3v3h-3zM651.8 122.5h3v3h-3zM675.8 122.5h3v3h-3zM690.8 122.5h3v3h-3zM696.8 122.5h3v3h-3zM669.8 128.5h3v3h-3zM690.8 128.5h3v3h-3zM645.8 131.5h3v3h-3zM630.8 134.5h3v3h-3zM633.8 134.5h3v3h-3zM618.8 137.5h3v3h-3zM645.8 137.5h3v3h-3zM654.8 140.5h3v3h-3zM627.8 149.5h3v3h-3zM684.8 152.5h3v3h-3zM630.8 155.5h3v3h-3zM657.8 158.5h3v3h-3zM693.8 161.5h3v3h-3zM624.8 170.5h3v3h-3zM633.8 173.5h3v3h-3zM657.8 173.5h3v3h-3z"/><path fill="rgb(212,212,212)" d="M651.8 44.5h3v3h-3zM690.8 44.5h3v3h-3zM639.8 47.5h3v3h-3zM687.8 47.5h3v3h-3zM627.8 56.5h3v3h-3zM627.8 62.5h3v3h-3zM651.8 62.5h3v3h-3zM657.8 68.5h3v3h-3zM627.8 74.5h3v3h-3zM672.8 83.5h3v3h-3zM678.8 89.5h3v3h-3zM645.8 92.5h3v3h-3zM645.8 95.5h3v3h-3zM648.8 98.5h3v3h-3zM651.8 104.5h3v3h-3zM660.8 104.5h3v3h-3zM678.8 104.5h3v3h-3zM690.8 104.5h3v3h-3zM642.8 113.5h3v3h-3zM693.8 113.5h3v3h-3zM675.8 116.5h3v3h-3zM651.8 119.5h3v3h-3zM672.8 122.5h3v3h-3zM696.8 131.5h3v3h-3zM660.8 140.5h3v3h-3zM663.8 140.5h3v3h-3zM660.8 143.5h3v3h-3zM648.8 149.5h3v3h-3zM672.8 149.5h3v3h-3zM678.8 149.5h3v3h-3zM687.8 149.5h3v3h-3zM627.8 155.5h3v3h-3zM681.8 161.5h3v3h-3zM666.8 164.5h3v3h-3zM681.8 164.5h3v3h-3zM624.8 173.5h3v3h-3zM693.8 176.5h3v3h-3zM654.8 185.5h3v3h-3z"/><path fill="rgb(216,216,216)" d="M612.8 38.5h3v3h-3zM609.8 44.5h3v3h-3zM615.8 59.5h3v3h-3zM618.8 59.5h3v3h-3zM666.8 59.5h3v3h-3zM687.8 62.5h3v3h-3zM627.8 65.5h3v3h-3zM684.8 65.5h3v3h-3zM627.8 77.5h3v3h-3zM630.8 83.5h3v3h-3zM675.8 86.5h3v3h-3zM615.8 89.5h3v3h-3zM609.8 98.5h3v3h-3zM639.8 98.5h3v3h-3zM645.8 98.5h3v3h-3zM633.8 101.5h3v3h-3zM666.8 101.5h3v3h-3zM693.8 104.5h3v3h-3zM642.8 110.5h3v3h-3zM696.8 113.5h3v3h-3zM672.8 128.5h3v3h-3zM642.8 137.5h3v3h-3zM687.8 137.5h3v3h-3zM657.8 143.5h3v3h-3zM657.8 149.5h3v3h-3zM675.8 152.5h3v3h-3zM681.8 152.5h3v3h-3zM654.8 158.5h3v3h-3zM621.8 161.5h3v3h-3zM654.8 161.5h3v3h-3zM684.8 161.5h3v3h-3zM663.8 164.5h3v3h-3zM687.8 164.5h3v3h-3zM609.8 176.5h3v3h-3zM612.8 176.5h3v3h-3zM657.8 182.5h3v3h-3z"/><path fill="rgb(220,220,220)" d="M633.8 41.5h3v3h-3zM636.8 44.5h3v3h-3zM663.8 44.5h3v3h-3zM666.8 44.5h3v3h-3zM681.8 53.5h3v3h-3zM684.8 53.5h3v3h-3zM678.8 65.5h3v3h-3zM630.8 74.5h3v3h-3zM633.8 83.5h3v3h-3zM687.8 83.5h3v3h-3zM684.8 86.5h3v3h-3zM687.8 89.5h3v3h-3zM633.8 98.5h3v3h-3zM636.8 98.5h3v3h-3zM672.8 104.5h3v3h-3zM660.8 110.5h3v3h-3zM660.8 113.5h3v3h-3zM612.8 116.5h3v3h-3zM642.8 116.5h3v3h-3zM660.8 128.5h3v3h-3zM660.8 131.5h3v3h-3zM663.8 131.5h3v3h-3zM630.8 143.5h3v3h-3zM681.8 143.5h3v3h-3zM627.8 152.5h3v3h-3zM633.8 152.5h3v3h-3zM621.8 164.5h3v3h-3zM660.8 164.5h3v3h-3zM684.8 164.5h3v3h-3zM651.8 167.5h3v3h-3zM681.8 167.5h3v3h-3zM636.8 170.5h3v3h-3z"/><path fill="rgb(224,224,224)" d="M645.8 38.5h3v3h-3zM693.8 41.5h3v3h-3zM615.8 53.5h3v3h-3zM621.8 53.5h3v3h-3zM615.8 56.5h3v3h-3zM687.8 71.5h3v3h-3zM606.8 80.5h3v3h-3zM687.8 92.5h3v3h-3zM612.8 98.5h3v3h-3zM651.8 98.5h3v3h-3zM630.8 101.5h3v3h-3zM642.8 107.5h3v3h-3zM690.8 107.5h3v3h-3zM693.8 107.5h3v3h-3zM696.8 116.5h3v3h-3zM624.8 119.5h3v3h-3zM639.8 119.5h3v3h-3zM654.8 119.5h3v3h-3zM618.8 125.5h3v3h-3zM684.8 125.5h3v3h-3zM633.8 131.5h3v3h-3zM639.8 140.5h3v3h-3zM657.8 140.5h3v3h-3zM636.8 146.5h3v3h-3zM633.8 149.5h3v3h-3zM618.8 158.5h3v3h-3zM663.8 161.5h3v3h-3zM624.8 164.5h3v3h-3zM672.8 164.5h3v3h-3zM648.8 170.5h3v3h-3zM657.8 170.5h3v3h-3z"/><path fill="rgb(228,228,228)" d="M654.8 44.5h3v3h-3zM690.8 47.5h3v3h-3zM606.8 56.5h3v3h-3zM678.8 62.5h3v3h-3zM609.8 65.5h3v3h-3zM687.8 65.5h3v3h-3zM696.8 65.5h3v3h-3zM657.8 71.5h3v3h-3zM675.8 89.5h3v3h-3zM654.8 101.5h3v3h-3zM657.8 107.5h3v3h-3zM639.8 116.5h3v3h-3zM612.8 119.5h3v3h-3zM642.8 131.5h3v3h-3zM690.8 134.5h3v3h-3zM630.8 137.5h3v3h-3zM690.8 137.5h3v3h-3zM606.8 140.5h3v3h-3zM687.8 140.5h3v3h-3zM612.8 146.5h3v3h-3zM633.8 146.5h3v3h-3zM687.8 146.5h3v3h-3zM678.8 152.5h3v3h-3zM654.8 164.5h3v3h-3zM675.8 176.5h3v3h-3zM654.8 179.5h3v3h-3zM648.8 185.5h3v3h-3z"/><path fill="rgb(232,232,232)" d="M633.8 38.5h3v3h-3zM693.8 44.5h3v3h-3zM669.8 47.5h3v3h-3zM681.8 62.5h3v3h-3zM606.8 65.5h3v3h-3zM696.8 71.5h3v3h-3zM690.8 83.5h3v3h-3zM687.8 86.5h3v3h-3zM642.8 89.5h3v3h-3zM615.8 92.5h3v3h-3zM642.8 92.5h3v3h-3zM666.8 107.5h3v3h-3zM663.8 110.5h3v3h-3zM642.8 119.5h3v3h-3zM639.8 134.5h3v3h-3zM681.8 140.5h3v3h-3zM630.8 146.5h3v3h-3zM651.8 149.5h3v3h-3zM681.8 149.5h3v3h-3zM636.8 161.5h3v3h-3zM657.8 161.5h3v3h-3zM672.8 161.5h3v3h-3zM657.8 164.5h3v3h-3zM624.8 167.5h3v3h-3zM654.8 170.5h3v3h-3zM675.8 179.5h3v3h-3z"/><path fill="rgb(236,236,236)" d="M663.8 47.5h3v3h-3zM693.8 47.5h3v3h-3zM684.8 59.5h3v3h-3zM693.8 62.5h3v3h-3zM690.8 68.5h3v3h-3zM684.8 71.5h3v3h-3zM630.8 77.5h3v3h-3zM633.8 77.5h3v3h-3zM657.8 101.5h3v3h-3zM666.8 113.5h3v3h-3zM687.8 128.5h3v3h-3zM627.8 137.5h3v3h-3zM630.8 152.5h3v3h-3zM633.8 170.5h3v3h-3z"/><path fill="rgb(240,240,240)" d="M654.8 41.5h3v3h-3zM687.8 59.5h3v3h-3zM693.8 65.5h3v3h-3zM675.8 68.5h3v3h-3zM627.8 89.5h3v3h-3zM675.8 92.5h3v3h-3zM642.8 95.5h3v3h-3zM654.8 104.5h3v3h-3zM660.8 107.5h3v3h-3zM687.8 122.5h3v3h-3zM666.8 128.5h3v3h-3zM639.8 137.5h3v3h-3zM684.8 140.5h3v3h-3zM612.8 143.5h3v3h-3zM687.8 143.5h3v3h-3zM633.8 161.5h3v3h-3zM660.8 161.5h3v3h-3zM651.8 170.5h3v3h-3zM696.8 176.5h3v3h-3zM654.8 182.5h3v3h-3zM639.8 185.5h3v3h-3z"/><path fill="rgb(244,244,244)" d="M651.8 41.5h3v3h-3zM633.8 44.5h3v3h-3zM666.8 47.5h3v3h-3zM687.8 56.5h3v3h-3zM666.8 104.5h3v3h-3zM669.8 104.5h3v3h-3zM684.8 146.5h3v3h-3zM672.8 158.5h3v3h-3zM657.8 167.5h3v3h-3z"/><path fill="rgb(248,248,248)" d="M681.8 59.5h3v3h-3zM678.8 68.5h3v3h-3zM693.8 68.5h3v3h-3zM687.8 125.5h3v3h-3zM630.8 149.5h3v3h-3zM684.8 149.5h3v3h-3z"/><path fill="rgb(252,252,252)" d="M606.8 38.5h3v3h-3zM618.8 38.5h3v3h-3zM651.8 38.5h3v3h-3zM675.8 38.5h3v3h-3zM693.8 38.5h3v3h-3zM696.8 38.5h3v3h-3zM696.8 47.5h3v3h-3zM606.8 53.5h3v3h-3zM618.8 53.5h3v3h-3zM618.8 56.5h3v3h-3zM681.8 56.5h3v3h-3zM684.8 56.5h3v3h-3zM696.8 56.5h3v3h-3zM696.8 62.5h3v3h-3zM684.8 68.5h3v3h-3zM687.8 68.5h3v3h-3zM606.8 71.5h3v3h-3zM696.8 74.5h3v3h-3zM630.8 80.5h3v3h-3zM633.8 80.5h3v3h-3zM678.8 92.5h3v3h-3zM678.8 95.5h3v3h-3zM669.8 101.5h3v3h-3zM696.8 101.5h3v3h-3zM606.8 104.5h3v3h-3zM657.8 104.5h3v3h-3zM696.8 104.5h3v3h-3zM663.8 107.5h3v3h-3zM606.8 113.5h3v3h-3zM663.8 113.5h3v3h-3zM663.8 116.5h3v3h-3zM666.8 116.5h3v3h-3zM696.8 119.5h3v3h-3zM663.8 128.5h3v3h-3zM696.8 128.5h3v3h-3zM642.8 134.5h3v3h-3zM645.8 134.5h3v3h-3zM606.8 137.5h3v3h-3zM627.8 140.5h3v3h-3zM630.8 140.5h3v3h-3zM684.8 143.5h3v3h-3zM606.8 152.5h3v3h-3zM696.8 161.5h3v3h-3zM606.8 167.5h3v3h-3zM654.8 167.5h3v3h-3zM615.8 185.5h3v3h-3zM645.8 185.5h3v3h-3zM657.8 185.5h3v3h-3zM675.8 185.5h3v3h-3zM684.8 185.5h3v3h-3zM690.8 185.5h3v3h-3z"/></g></g><rect x="714.0" y="41" width="20.0" height="143.6" fill="url(#g3)"/><path d="M714.5 41V184.6M733.5 41V184.6" stroke="#444" stroke-width="1"/><path d="M733.5 41V184.6" stroke="#8a8a8a" stroke-width="1"/><path d="M714.0 40.6H734.0" stroke="#e8505a" stroke-width="1.6"/>
<path d="M68.00 480.5V423.4H69.10V408.4H70.20V424.3H71.30V457.8H72.40V456.4H73.50V432.1H74.60V434.1H75.70V438.8H76.80V417.7H77.90V423.3H79.00V408.4H80.10V424.1H81.20V458.5H82.30V406.7H83.40V411.1H84.50V437.9H85.60V451.6H86.70V449.0H87.80V430.1H88.90V376.8H90.00V362.3H91.10V436.9H92.20V399.3H93.30V448.6H94.40V393.3H95.50V414.9H96.60V384.1H97.70V398.9H98.80V402.0H99.90V382.8H101.00V458.2H102.10V342.3H103.20V452.9H104.30V402.9H105.40V432.5H106.50V435.5H107.60V374.8H108.70V421.2H109.80V409.0H110.90V385.9H112.00V455.0H113.10V389.5H114.20V429.0H115.30V415.3H116.40V366.2H117.50V407.5H118.60V403.5H119.70V424.9H120.80V419.2H121.90V373.8H123.00V370.6H124.10V424.9H125.20V375.0H126.30V431.4H127.40V400.9H128.50V422.6H129.60V412.6H130.70V376.2H131.80V454.3H132.90V460.7H134.00V396.5H135.10V403.6H136.20V378.2H137.30V390.0H138.40V433.0H139.50V429.8H140.60V454.5H141.70V414.5H142.80V458.6H143.90V376.7H145.00V406.4H146.10V435.5H147.20V401.5H148.30V405.5H149.40V413.1H150.50V408.2H151.60V417.9H152.70V445.9H153.80V389.0H154.90V419.7H156.00V406.3H157.10V415.0H158.20V420.4H159.30V426.1H160.40V375.6H161.50V407.2H162.60V397.5H163.70V402.7H164.80V433.4H165.90V433.6H167.00V384.1H168.10V421.2H169.20V392.3H170.30V374.5H171.40V453.8H172.50V444.7H173.60V393.3H174.70V463.8H175.80V420.1H176.90V395.7H178.00V405.2H179.10V400.3H180.20V392.3H181.30V408.1H182.40V459.5H183.50V431.4H184.60V420.1H185.70V339.5H186.80V435.6H187.90V396.0H189.00V399.5H190.10V459.0H191.20V455.3H192.30V456.2H193.40V462.4H194.50V407.6H195.60V445.5H196.70V427.2H197.80V394.4H198.90V431.3H200.00V461.2H201.10V369.5H202.20V456.7H203.30V400.8H204.40V460.1H205.50V461.6H206.60V454.3H207.70V372.3H208.80V409.1H209.90V400.1H211.00V413.1H212.10V405.7H213.20V447.6H214.30V414.7H215.40V453.8H216.50V408.7H217.60V385.3H218.70V413.1H219.80V458.7H220.90V370.5H222.00V425.7H223.10V429.2H224.20V455.8H225.30V443.0H226.40V429.2H227.50V423.5H228.60V414.9H229.70V408.4H230.80V439.1H231.90V424.6H233.00V443.9H234.10V406.6H235.20V406.3H236.30V414.4H237.40V433.0H238.50V419.6H239.60V395.4H240.70V433.2H241.80V359.5H242.90V423.0H244.00V393.0H245.10V415.0H246.20V411.1H247.30V405.8H248.40V460.1H249.50V421.6H250.60V452.1H251.70V375.1H252.80V452.6H253.90V394.5H255.00V425.4H256.10V384.9H257.20V454.9H258.30V448.8H259.40V420.1H260.50V423.3H261.60V443.6H262.70V429.3H263.80V408.5H264.90V412.2H266.00V399.2H267.10V430.6H268.20V406.5H269.30V390.9H270.40V360.6H271.50V454.0H272.60V402.8H273.70V430.5H274.80V387.9H275.90V385.4H277.00V407.5H278.10V453.3H279.20V409.3H280.30V454.8H281.40V403.8H282.50V432.7H283.60V422.4H284.70V453.8H285.80V363.4H286.90V379.0H288.00V401.8H289.10V424.6H290.20V416.5H291.30V406.8H292.40V416.1H293.50V456.6H294.60V422.7H295.70V456.2H296.80V435.1H297.90V426.3H299.00V382.9H300.10V437.4H301.20V447.1H302.30V397.7H303.40V460.9H304.50V394.7H305.60V434.9H306.70V414.7H307.80V433.1H308.90V370.6H310.00V461.4H311.10V454.1H312.20V446.8H313.30V387.3H314.40V432.2H315.50V408.2H316.60V440.6H317.70V406.7H318.80V380.6H319.90V419.4H321.00V402.7H322.10V421.5H323.20V443.7H324.30V431.1H325.40V424.2H326.50V413.4H327.60V390.1H328.70V411.2H329.80V426.2H330.90V413.7H332.00V438.9H333.10V397.8H334.20V450.6H335.30V434.2H336.40V407.0H337.50V429.2H338.60V393.0H339.70V383.8H340.80V416.3H341.90V414.8H343.00V435.0H344.10V369.5H345.20V439.8H346.30V399.5H347.40V384.3H348.50V439.5H349.60V459.3H350.70V450.6H351.80V417.3H352.90V370.6H354.00V433.4H355.10V409.2H356.20V386.4H357.30V429.3H358.40V440.2H359.50V389.6H360.60V387.6H361.70V424.0H362.80V459.3H363.90V461.9H365.00V432.2H366.10V461.8H367.20V417.2H368.30V373.4H369.40V416.9H370.50V457.2H371.60V406.0H372.70V438.3H373.80V383.9H374.90V381.1H376.00V439.1H377.10V437.2H378.20V439.2H379.30V404.4H380.40V397.9H381.50V458.4H382.60V444.7H383.70V443.5H384.80V444.3H385.90V459.5H387.00V430.2H388.10V452.3H389.20V402.0H390.30V438.6H391.40V409.4H392.50V408.3H393.60V456.7H394.70V416.2H395.80V480.5Z" fill="#000"/><path d="M404.00 702.5V648.2H405.10V611.0H406.20V688.2H407.30V635.5H408.40V657.5H409.50V652.9H410.60V661.2H411.70V592.1H412.80V672.1H413.90V661.2H415.00V677.4H416.10V654.4H417.20V659.2H418.30V614.2H419.40V616.5H420.50V682.3H421.60V676.8H422.70V630.6H423.80V580.4H424.90V637.3H426.00V657.8H427.10V621.5H428.20V614.0H429.30V624.2H430.40V583.2H431.50V662.1H432.60V661.8H433.70V683.0H434.80V671.0H435.90V676.3H437.00V630.0H438.10V641.9H439.20V664.7H440.30V641.9H441.40V628.6H442.50V626.9H443.60V670.6H444.70V636.5H445.80V615.1H446.90V656.0H448.00V641.3H449.10V668.5H450.20V646.1H451.30V625.0H452.40V659.6H453.50V678.4H454.60V651.0H455.70V589.3H456.80V623.2H457.90V609.9H459.00V679.3H460.10V608.0H461.20V608.5H462.30V665.1H463.40V628.6H464.50V624.0H465.60V651.7H466.70V685.4H467.80V685.7H468.90V670.8H470.00V613.0H471.10V659.3H472.20V633.7H473.30V600.9H474.40V641.1H475.50V660.4H476.60V673.4H477.70V654.2H478.80V666.5H479.90V618.8H481.00V643.1H482.10V638.6H483.20V652.3H484.30V666.2H485.40V655.8H486.50V664.6H487.60V640.6H488.70V668.7H489.80V639.5H490.90V630.3H492.00V616.4H493.10V661.2H494.20V659.6H495.30V669.5H496.40V664.4H497.50V677.9H498.60V610.6H499.70V651.5H500.80V608.9H501.90V647.6H503.00V615.6H504.10V629.3H505.20V639.1H506.30V657.2H507.40V648.4H508.50V667.5H509.60V597.3H510.70V634.2H511.80V631.9H512.90V658.0H514.00V642.7H515.10V646.0H516.20V630.1H517.30V615.8H518.40V637.6H519.50V636.3H520.60V652.3H521.70V589.3H522.80V659.5H523.90V642.4H525.00V611.8H526.10V627.6H527.20V630.7H528.30V680.6H529.40V682.6H530.50V662.2H531.60V663.8H532.70V681.6H533.80V633.1H534.90V653.1H536.00V659.1H537.10V610.1H538.20V648.7H539.30V609.7H540.40V689.2H541.50V676.6H542.60V651.1H543.70V646.4H544.80V691.0H545.90V685.1H547.00V669.7H548.10V689.4H549.20V671.7H550.30V665.2H551.40V662.2H552.50V613.4H553.60V620.2H554.70V649.4H555.80V685.2H556.90V662.1H558.00V659.5H559.10V656.2H560.20V629.3H561.30V629.8H562.40V685.2H563.50V652.7H564.60V663.0H565.70V649.6H566.80V618.1H567.90V627.9H569.00V604.8H570.10V658.9H571.20V650.8H572.30V686.5H573.40V652.1H574.50V608.2H575.60V617.1H576.70V681.5H577.80V665.8H578.90V619.2H580.00V607.0H581.10V667.7H582.20V684.7H583.30V664.3H584.40V664.5H585.50V684.4H586.60V616.7H587.70V690.8H588.80V656.3H589.90V663.4H591.00V631.5H592.10V630.2H593.20V624.2H594.30V646.5H595.40V652.6H596.50V683.7H597.60V673.3H598.70V651.4H599.80V628.7H600.90V636.6H602.00V648.1H603.10V683.4H604.20V622.4H605.30V583.2H606.40V665.3H607.50V650.2H608.60V685.2H609.70V664.7H610.80V683.2H611.90V645.6H613.00V621.8H614.10V657.2H615.20V681.7H616.30V656.0H617.40V653.4H618.50V626.0H619.60V640.0H620.70V579.3H621.80V684.6H622.90V671.3H624.00V668.4H625.10V670.4H626.20V597.9H627.30V642.2H628.40V644.0H629.50V661.9H630.60V661.0H631.70V668.9H632.80V662.8H633.90V635.9H635.00V620.2H636.10V633.4H637.20V680.0H638.30V664.5H639.40V686.2H640.50V627.0H641.60V682.5H642.70V634.1H643.80V664.8H644.90V620.7H646.00V626.6H647.10V634.9H648.20V685.8H649.30V677.0H650.40V648.2H651.50V640.6H652.60V661.8H653.70V678.0H654.80V628.0H655.90V681.9H657.00V683.8H658.10V633.7H659.20V648.2H660.30V635.5H661.40V686.3H662.50V659.7H663.60V614.8H664.70V677.8H665.80V605.1H666.90V627.1H668.00V646.6H669.10V629.9H670.20V608.2H671.30V659.5H672.40V662.1H673.50V687.4H674.60V688.0H675.70V685.3H676.80V637.4H677.90V593.2H679.00V657.5H680.10V610.5H681.20V633.1H682.30V654.7H683.40V637.1H684.50V603.3H685.60V678.9H686.70V664.5H687.80V687.5H688.90V608.1H690.00V666.7H691.10V655.2H692.20V663.3H693.30V636.6H694.40V663.6H695.50V686.9H696.60V603.5H697.70V599.2H698.80V646.7H699.90V684.4H701.00V663.9H702.10V624.5H703.20V637.2H704.30V603.2H705.40V627.6H706.50V636.2H707.60V606.4H708.70V662.3H709.80V659.2H710.90V653.6H712.00V606.7H713.10V673.1H714.20V626.2H715.30V649.8H716.40V656.4H717.50V687.3H718.60V611.3H719.70V607.5H720.80V659.6H721.90V677.7H723.00V690.3H724.10V667.2H725.20V607.6H726.30V623.9H727.40V650.5H728.50V635.7H729.60V645.1H730.70V702.5Z" fill="#000"/><path d="M404.00 480.5V458.7H405.10V466.9H406.20V474.3H407.30V466.0H408.40V462.0H409.50V451.4H410.60V452.3H411.70V455.0H412.80V476.3H413.90V458.2H415.00V470.3H416.10V461.8H417.20V459.9H418.30V457.8H419.40V473.2H420.50V479.8H421.60V472.4H422.70V413.2H423.80V366.1H424.90V474.2H426.00V434.4H427.10V461.9H428.20V479.0H429.30V454.5H430.40V458.9H431.50V462.6H432.60V412.8H433.70V429.8H434.80V316.6H435.90V434.0H437.00V479.3H438.10V479.8H439.20V432.8H440.30V466.4H441.40V459.4H442.50V465.5H443.60V461.3H444.70V388.9H445.80V443.0H446.90V324.7H448.00V435.0H449.10V433.6H450.20V479.8H451.30V441.9H452.40V453.0H453.50V430.7H454.60V411.7H455.70V433.7H456.80V437.0H457.90V367.4H459.00V444.6H460.10V453.0H461.20V370.5H462.30V422.6H463.40V477.8H464.50V480.1H465.60V437.5H466.70V463.7H467.80V470.9H468.90V417.5H470.00V449.1H471.10V459.2H472.20V455.3H473.30V399.0H474.40V458.3H475.50V479.1H476.60V451.2H477.70V442.8H478.80V472.1H479.90V480.3H481.00V461.0H482.10V471.5H483.20V477.3H484.30V466.9H485.40V472.7H486.50V466.0H487.60V468.8H488.70V471.1H489.80V474.5H490.90V467.8H492.00V474.7H493.10V473.2H494.20V466.5H495.30V468.9H496.40V472.8H497.50V476.9H498.60V464.3H499.70V464.6H500.80V475.8H501.90V477.0H503.00V465.5H504.10V470.0H505.20V459.6H506.30V457.7H507.40V459.3H508.50V474.3H509.60V475.4H510.70V467.9H511.80V472.5H512.90V469.0H514.00V469.4H515.10V463.6H516.20V466.9H517.30V475.6H518.40V469.5H519.50V465.6H520.60V462.5H521.70V462.8H522.80V466.6H523.90V461.6H525.00V474.3H526.10V462.9H527.20V463.4H528.30V463.6H529.40V466.3H530.50V468.5H531.60V476.9H532.70V468.2H533.80V466.8H534.90V475.9H536.00V467.1H537.10V464.9H538.20V470.3H539.30V469.3H540.40V474.5H541.50V467.8H542.60V473.5H543.70V467.4H544.80V476.2H545.90V458.4H547.00V475.3H548.10V475.7H549.20V469.1H550.30V472.7H551.40V475.6H552.50V473.1H553.60V468.4H554.70V471.6H555.80V469.3H556.90V467.6H558.00V467.9H559.10V471.4H560.20V463.1H561.30V467.6H562.40V462.5H563.50V465.7H564.60V465.6H565.70V467.7H566.80V475.4H567.90V467.7H569.00V469.5H570.10V468.1H571.20V471.6H572.30V459.7H573.40V464.1H574.50V470.5H575.60V473.4H576.70V471.7H577.80V461.3H578.90V467.9H580.00V466.3H581.10V466.8H582.20V475.1H583.30V471.5H584.40V464.2H585.50V476.0H586.60V469.5H587.70V476.8H588.80V468.3H589.90V471.1H591.00V467.4H592.10V472.6H593.20V470.7H594.30V468.5H595.40V467.8H596.50V468.4H597.60V466.7H598.70V456.9H599.80V468.9H600.90V462.2H602.00V465.9H603.10V474.3H604.20V465.5H605.30V474.7H606.40V470.6H607.50V471.8H608.60V471.0H609.70V470.9H610.80V477.5H611.90V459.1H613.00V469.6H614.10V475.9H615.20V473.8H616.30V467.6H617.40V472.2H618.50V471.8H619.60V466.6H620.70V466.3H621.80V472.2H622.90V470.0H624.00V476.0H625.10V470.6H626.20V473.8H627.30V476.4H628.40V472.0H629.50V465.3H630.60V466.7H631.70V476.0H632.80V465.0H633.90V469.8H635.00V473.9H636.10V464.2H637.20V463.5H638.30V471.5H639.40V466.4H640.50V461.5H641.60V459.8H642.70V461.0H643.80V471.4H644.90V469.5H646.00V475.1H647.10V475.6H648.20V465.3H649.30V471.4H650.40V476.5H651.50V470.0H652.60V472.6H653.70V475.6H654.80V473.0H655.90V472.5H657.00V475.9H658.10V460.8H659.20V464.2H660.30V468.6H661.40V476.8H662.50V458.5H663.60V476.0H664.70V470.5H665.80V475.2H666.90V462.2H668.00V467.8H669.10V475.2H670.20V468.7H671.30V473.4H672.40V468.7H673.50V476.5H674.60V459.0H675.70V469.6H676.80V475.3H677.90V469.0H679.00V476.8H680.10V473.0H681.20V466.5H682.30V472.4H683.40V476.7H684.50V462.0H685.60V471.2H686.70V473.7H687.80V464.7H688.90V477.1H690.00V464.3H691.10V476.8H692.20V467.0H693.30V471.1H694.40V472.5H695.50V470.8H696.60V475.8H697.70V465.8H698.80V472.3H699.90V459.4H701.00V458.1H702.10V463.6H703.20V472.4H704.30V467.5H705.40V458.7H706.50V471.5H707.60V469.9H708.70V472.3H709.80V459.5H710.90V471.6H712.00V468.9H713.10V465.0H714.20V470.5H715.30V474.7H716.40V462.4H717.50V472.2H718.60V472.9H719.70V477.3H720.80V462.0H721.90V470.6H723.00V477.3H724.10V464.7H725.20V471.9H726.30V462.4H727.40V470.0H728.50V469.5H729.60V465.1H730.70V480.5Z" fill="#000"/><path d="M68.00 702.5V696.6H69.10V688.2H70.20V686.9H71.30V692.2H72.40V687.9H73.50V697.6H74.60V688.5H75.70V695.5H76.80V698.6H77.90V689.8H79.00V690.2H80.10V682.4H81.20V683.9H82.30V676.3H83.40V679.2H84.50V701.7H85.60V701.7H86.70V672.5H87.80V590.5H88.90V671.4H90.00V701.6H91.10V670.3H92.20V690.3H93.30V701.7H94.40V675.1H95.50V677.6H96.60V635.9H97.70V661.0H98.80V606.8H99.90V528.2H101.00V690.6H102.10V701.9H103.20V685.3H104.30V659.9H105.40V693.2H106.50V691.0H107.60V682.5H108.70V688.1H109.80V607.0H110.90V622.9H112.00V535.1H113.10V680.2H114.20V701.9H115.30V695.9H116.40V671.8H117.50V621.1H118.60V637.1H119.70V676.6H120.80V689.9H121.90V649.1H123.00V592.2H124.10V691.2H125.20V638.2H126.30V589.4H127.40V692.5H128.50V702.1H129.60V680.8H130.70V685.1H131.80V702.2H132.90V698.2H134.00V683.9H135.10V688.1H136.20V696.0H137.30V654.1H138.40V578.8H139.50V683.3H140.60V695.9H141.70V658.6H142.80V617.5H143.90V695.6H145.00V701.0H146.10V699.8H147.20V697.5H148.30V652.6H149.40V701.0H150.50V680.9H151.60V685.3H152.70V679.3H153.80V663.3H154.90V692.3H156.00V696.3H157.10V692.2H158.20V695.9H159.30V698.1H160.40V679.1H161.50V690.4H162.60V692.6H163.70V697.1H164.80V691.8H165.90V691.6H167.00V692.0H168.10V677.4H169.20V691.2H170.30V699.5H171.40V696.8H172.50V686.5H173.60V697.7H174.70V688.9H175.80V698.3H176.90V697.6H178.00V684.0H179.10V694.0H180.20V690.5H181.30V693.8H182.40V690.3H183.50V695.0H184.60V691.9H185.70V683.4H186.80V691.7H187.90V688.8H189.00V686.7H190.10V692.0H191.20V695.2H192.30V699.1H193.40V694.6H194.50V694.8H195.60V686.8H196.70V694.2H197.80V691.7H198.90V684.0H200.00V665.8H201.10V686.7H202.20V693.9H203.30V694.6H204.40V671.8H205.50V648.9H206.60V689.7H207.70V699.0H208.80V692.7H209.90V689.0H211.00V686.7H212.10V678.7H213.20V691.7H214.30V692.8H215.40V693.6H216.50V689.9H217.60V690.3H218.70V687.9H219.80V675.0H220.90V679.5H222.00V696.3H223.10V678.7H224.20V698.1H225.30V696.8H226.40V690.0H227.50V698.8H228.60V671.8H229.70V698.6H230.80V699.6H231.90V691.3H233.00V686.0H234.10V683.5H235.20V699.3H236.30V698.7H237.40V694.0H238.50V691.5H239.60V693.1H240.70V670.2H241.80V690.6H242.90V692.8H244.00V698.6H245.10V698.8H246.20V695.8H247.30V682.2H248.40V685.6H249.50V685.5H250.60V696.0H251.70V692.4H252.80V680.5H253.90V692.8H255.00V675.2H256.10V698.1H257.20V692.6H258.30V692.6H259.40V696.0H260.50V686.5H261.60V686.4H262.70V690.1H263.80V691.8H264.90V699.1H266.00V695.4H267.10V692.8H268.20V692.8H269.30V668.8H270.40V691.4H271.50V684.7H272.60V693.3H273.70V681.4H274.80V663.7H275.90V698.5H277.00V677.9H278.10V682.9H279.20V689.8H280.30V689.6H281.40V688.3H282.50V690.4H283.60V694.4H284.70V694.3H285.80V693.2H286.90V657.2H288.00V683.4H289.10V667.3H290.20V689.7H291.30V682.9H292.40V698.5H293.50V698.6H294.60V695.4H295.70V698.3H296.80V683.4H297.90V690.5H299.00V665.9H300.10V698.6H301.20V691.7H302.30V694.4H303.40V693.4H304.50V675.2H305.60V678.2H306.70V692.7H307.80V694.8H308.90V699.9H310.00V683.0H311.10V694.6H312.20V698.2H313.30V678.8H314.40V690.7H315.50V694.8H316.60V696.9H317.70V694.4H318.80V664.8H319.90V687.7H321.00V694.0H322.10V681.6H323.20V692.1H324.30V667.0H325.40V690.5H326.50V695.3H327.60V698.5H328.70V690.9H329.80V688.2H330.90V698.3H332.00V692.2H333.10V650.7H334.20V683.6H335.30V695.0H336.40V684.8H337.50V692.2H338.60V690.9H339.70V690.7H340.80V691.8H341.90V689.8H343.00V694.5H344.10V692.0H345.20V682.4H346.30V684.7H347.40V696.2H348.50V687.0H349.60V690.5H350.70V683.4H351.80V684.5H352.90V669.5H354.00V688.5H355.10V690.1H356.20V697.9H357.30V698.4H358.40V690.3H359.50V681.3H360.60V699.5H361.70V697.6H362.80V696.3H363.90V695.1H365.00V699.1H366.10V692.2H367.20V693.1H368.30V687.0H369.40V693.6H370.50V683.5H371.60V675.1H372.70V692.9H373.80V695.3H374.90V683.3H376.00V699.4H377.10V699.5H378.20V690.3H379.30V693.3H380.40V696.8H381.50V686.3H382.60V695.9H383.70V672.0H384.80V688.6H385.90V692.4H387.00V692.3H388.10V693.7H389.20V697.7H390.30V694.8H391.40V691.9H392.50V694.6H393.60V678.2H394.70V702.5Z" fill="#000"/>
<path d="M67.5 258H738.5" stroke="#262626" stroke-width="1.9"/><path d="M67.5 702.9H738.5" stroke="#111" stroke-width="1.4"/><path d="M67.5 257.2V703.6M738.5 257.2V703.6" stroke="#111" stroke-width="1.2"/><path d="M403 258.5V702.5" stroke="#707070" stroke-width="1.9"/><path d="M67.5 480.5H738.5" stroke="#222" stroke-width="1"/><path d="M67.5 480.5h5M67.5 452.8h3M67.5 425.0h5M67.5 397.2h3M67.5 369.5h5M67.5 341.8h3M67.5 314.0h5M67.5 286.2h3M67.5 258.5h5M67.5 702.5h5M67.5 665.5h3M67.5 628.5h5M67.5 591.5h3M67.5 554.5h5M67.5 517.5h3M67.5 480.5h5M738.5 480.5h-5M738.5 452.8h-3M738.5 425.0h-5M738.5 397.2h-3M738.5 369.5h-5M738.5 341.8h-3M738.5 314.0h-5M738.5 286.2h-3M738.5 258.5h-5M738.5 702.5h-5M738.5 674.8h-3M738.5 647.0h-5M738.5 619.2h-3M738.5 591.5h-5M738.5 563.8h-3M738.5 536.0h-5M738.5 508.2h-3M738.5 480.5h-5" stroke="#111" stroke-width="1"/>
<text transform="translate(65.40,485.20) scale(1.08,1)" font-size="16.2" font-weight="bold" fill="#000" text-anchor="end"  stroke="#000" stroke-width="0.3">0</text><text transform="translate(65.40,429.70) scale(1.08,1)" font-size="16.2" font-weight="bold" fill="#000" text-anchor="end"  stroke="#000" stroke-width="0.3">100</text><text transform="translate(65.40,374.20) scale(1.08,1)" font-size="16.2" font-weight="bold" fill="#000" text-anchor="end"  stroke="#000" stroke-width="0.3">200</text><text transform="translate(65.40,318.70) scale(1.08,1)" font-size="16.2" font-weight="bold" fill="#000" text-anchor="end"  stroke="#000" stroke-width="0.3">300</text><text transform="translate(65.40,263.20) scale(1.08,1)" font-size="16.2" font-weight="bold" fill="#000" text-anchor="end"  stroke="#000" stroke-width="0.3">400</text><text transform="translate(65.40,708.10) scale(1.08,1)" font-size="16.2" font-weight="bold" fill="#000" text-anchor="end"  stroke="#000" stroke-width="0.3">0</text><text transform="translate(65.40,634.10) scale(1.08,1)" font-size="16.2" font-weight="bold" fill="#000" text-anchor="end"  stroke="#000" stroke-width="0.3">500</text><text transform="translate(65.40,560.10) scale(1.08,1)" font-size="16.2" font-weight="bold" fill="#000" text-anchor="end"  stroke="#000" stroke-width="0.3">1000</text><text transform="translate(740.40,485.20) scale(1.08,1)" font-size="16.2" font-weight="bold" fill="#000" text-anchor="start"  stroke="#000" stroke-width="0.3">0</text><text transform="translate(740.40,429.70) scale(1.08,1)" font-size="16.2" font-weight="bold" fill="#000" text-anchor="start"  stroke="#000" stroke-width="0.3">500</text><text transform="translate(740.40,374.20) scale(1.08,1)" font-size="16.2" font-weight="bold" fill="#000" text-anchor="start"  stroke="#000" stroke-width="0.3">1000</text><text transform="translate(740.40,318.70) scale(1.08,1)" font-size="16.2" font-weight="bold" fill="#000" text-anchor="start"  stroke="#000" stroke-width="0.3">1500</text><text transform="translate(740.40,263.20) scale(1.08,1)" font-size="16.2" font-weight="bold" fill="#000" text-anchor="start"  stroke="#000" stroke-width="0.3">2000</text><text transform="translate(740.40,708.10) scale(1.08,1)" font-size="16.2" font-weight="bold" fill="#000" text-anchor="start"  stroke="#000" stroke-width="0.3">0</text><text transform="translate(740.40,652.60) scale(1.08,1)" font-size="16.2" font-weight="bold" fill="#000" text-anchor="start"  stroke="#000" stroke-width="0.3">100</text><text transform="translate(740.40,597.10) scale(1.08,1)" font-size="16.2" font-weight="bold" fill="#000" text-anchor="start"  stroke="#000" stroke-width="0.3">200</text><text transform="translate(740.40,541.60) scale(1.08,1)" font-size="16.2" font-weight="bold" fill="#000" text-anchor="start"  stroke="#000" stroke-width="0.3">300</text><text transform="translate(67.50,721.10) scale(1.08,1)" font-size="16.2" font-weight="bold" fill="#000" text-anchor="middle"  stroke="#000" stroke-width="0.3">300</text><text transform="translate(123.42,721.10) scale(1.08,1)" font-size="16.2" font-weight="bold" fill="#000" text-anchor="middle"  stroke="#000" stroke-width="0.3">400</text><text transform="translate(179.33,721.10) scale(1.08,1)" font-size="16.2" font-weight="bold" fill="#000" text-anchor="middle"  stroke="#000" stroke-width="0.3">500</text><text transform="translate(235.25,721.10) scale(1.08,1)" font-size="16.2" font-weight="bold" fill="#000" text-anchor="middle"  stroke="#000" stroke-width="0.3">600</text><text transform="translate(291.17,721.10) scale(1.08,1)" font-size="16.2" font-weight="bold" fill="#000" text-anchor="middle"  stroke="#000" stroke-width="0.3">700</text><text transform="translate(347.08,721.10) scale(1.08,1)" font-size="16.2" font-weight="bold" fill="#000" text-anchor="middle"  stroke="#000" stroke-width="0.3">800</text><text transform="translate(403.00,721.10) scale(1.08,1)" font-size="16.2" font-weight="bold" fill="#000" text-anchor="middle"  stroke="#000" stroke-width="0.3">300</text><text transform="translate(458.92,721.10) scale(1.08,1)" font-size="16.2" font-weight="bold" fill="#000" text-anchor="middle"  stroke="#000" stroke-width="0.3">400</text><text transform="translate(514.83,721.10) scale(1.08,1)" font-size="16.2" font-weight="bold" fill="#000" text-anchor="middle"  stroke="#000" stroke-width="0.3">500</text><text transform="translate(570.75,721.10) scale(1.08,1)" font-size="16.2" font-weight="bold" fill="#000" text-anchor="middle"  stroke="#000" stroke-width="0.3">600</text><text transform="translate(626.67,721.10) scale(1.08,1)" font-size="16.2" font-weight="bold" fill="#000" text-anchor="middle"  stroke="#000" stroke-width="0.3">700</text><text transform="translate(682.58,721.10) scale(1.08,1)" font-size="16.2" font-weight="bold" fill="#000" text-anchor="middle"  stroke="#000" stroke-width="0.3">800</text><text transform="translate(738.50,721.10) scale(1.08,1)" font-size="16.2" font-weight="bold" fill="#000" text-anchor="middle"  stroke="#000" stroke-width="0.3">900</text><text transform="translate(253.60,766.40) scale(1.01,1)" font-size="20" font-weight="bold" fill="#000" text-anchor="middle"  stroke="#000" stroke-width="0.3">Wavelength(nm)</text><text transform="translate(594.00,765.70) scale(1.01,1)" font-size="20" font-weight="bold" fill="#000" text-anchor="middle"  stroke="#000" stroke-width="0.3">Wavelength(nm)</text><text transform="translate(412.40,784.30) scale(0.98,1)" font-size="26.5" font-weight="bold" fill="#000" text-anchor="middle" >(e)</text><text transform="translate(23.6,393.45) rotate(-90) scale(1.059,1)" font-size="24" fill="#000" text-anchor="middle" stroke="#000" stroke-width="0.45">Intensity(a.u.)</text><text transform="translate(18.8,608.6) rotate(-90) scale(1.059,1)" font-size="24" fill="#000" text-anchor="middle" stroke="#000" stroke-width="0.45">Intensity(a.u.)</text><text x="131.8" y="295.6" font-size="19.4" font-weight="bold" fill="#000" stroke="#000" stroke-width="0.35">Al<tspan font-size="11.3" dy="7">2</tspan><tspan dy="-7">O</tspan><tspan font-size="11.3" dy="7">3</tspan><tspan dy="-7" fill="#d01010" stroke="#d01010">(</tspan><tspan fill="#d01010" stroke="#d01010">0</tspan><tspan fill="#d01010" stroke="#d01010"> 0</tspan><tspan fill="#d01010" stroke="#d01010"> 0</tspan><tspan fill="#d01010" stroke="#d01010"> 1</tspan><tspan fill="#d01010" stroke="#d01010">)</tspan><tspan x="256.5">and SiO</tspan><tspan font-size="11.3" dy="7">2</tspan><tspan dy="-7">(1 1 0)</tspan></text><text x="462.8" y="293.1" font-size="19.4" font-weight="bold" fill="#000" stroke="#000" stroke-width="0.35">Al<tspan font-size="11.3" dy="7">2</tspan><tspan dy="-7">O</tspan><tspan font-size="11.3" dy="7">3</tspan><tspan dy="-7" fill="#d01010" stroke="#d01010">(</tspan><tspan fill="#d01010" stroke="#d01010">1</tspan><tspan fill="#d01010" stroke="#d01010"> 1</tspan><tspan fill="#d01010" stroke="#d01010"> </tspan><tspan fill="#d01010" stroke="#d01010" x="553.5">2</tspan><tspan fill="#d01010" stroke="#d01010"> 0</tspan><tspan fill="#d01010" stroke="#d01010">)</tspan><tspan x="592.2">and SiO</tspan><tspan font-size="11.3" dy="7">2</tspan><tspan dy="-7">(1 1 0)</tspan></text><rect x="553.1" y="275.8" width="10.5" height="1.6" fill="#a81020"/><text x="128.1" y="514.6" font-size="19.4" font-weight="bold" fill="#000" stroke="#000" stroke-width="0.35">Al<tspan font-size="11.3" dy="7">2</tspan><tspan dy="-7">O</tspan><tspan font-size="11.3" dy="7">3</tspan><tspan dy="-7" fill="#d01010" stroke="#d01010">(</tspan><tspan fill="#d01010" stroke="#d01010">1</tspan><tspan fill="#d01010" stroke="#d01010"> 0</tspan><tspan fill="#d01010" stroke="#d01010"> </tspan><tspan fill="#d01010" stroke="#d01010" x="217.4">1</tspan><tspan fill="#d01010" stroke="#d01010"> 0</tspan><tspan fill="#d01010" stroke="#d01010">)</tspan><tspan x="257.4">and SiO</tspan><tspan font-size="11.3" dy="7">2</tspan><tspan dy="-7">(1 1 0)</tspan></text><rect x="218.4" y="497.4" width="10.4" height="1.6" fill="#a81020"/><text x="461.6" y="515.6" font-size="19.4" font-weight="bold" fill="#000" stroke="#000" stroke-width="0.35">Al<tspan font-size="11.3" dy="7">2</tspan><tspan dy="-7">O</tspan><tspan font-size="11.3" dy="7">3</tspan><tspan dy="-7" fill="#d01010" stroke="#d01010">(</tspan><tspan fill="#d01010" stroke="#d01010">1</tspan><tspan fill="#d01010" stroke="#d01010"> </tspan><tspan fill="#d01010" stroke="#d01010" x="534.5">1</tspan><tspan fill="#d01010" stroke="#d01010"> 0</tspan><tspan fill="#d01010" stroke="#d01010"> 2</tspan><tspan fill="#d01010" stroke="#d01010">)</tspan><tspan x="590.5">and SiO</tspan><tspan font-size="11.3" dy="7">2</tspan><tspan dy="-7">(1 1 0)</tspan></text><rect x="535.3" y="498.4" width="10.6" height="1.6" fill="#a81020"/><text transform="translate(41.00,18.80)" font-size="23.5" font-weight="normal" fill="#111" text-anchor="start" >Intensity(a.u.)</text><text transform="translate(143.90,53.00)" font-size="23.5" font-weight="bold" fill="#f20000" text-anchor="start"  stroke="#f20000" stroke-width="0.3">92</text><text transform="translate(146.00,186.40)" font-size="23.5" font-weight="bold" fill="#000" text-anchor="start"  stroke="#000" stroke-width="0.3">0</text><text transform="translate(86.55,215.70)" font-size="26.5" font-weight="bold" fill="#000" text-anchor="middle" >(a)</text><text transform="translate(240.90,18.80)" font-size="23.5" font-weight="normal" fill="#111" text-anchor="start" >Intensity(a.u.)</text><text transform="translate(330.00,53.00)" font-size="23.5" font-weight="bold" fill="#f20000" text-anchor="start"  stroke="#f20000" stroke-width="0.3">198</text><text transform="translate(330.40,186.40)" font-size="23.5" font-weight="bold" fill="#000" text-anchor="start"  stroke="#000" stroke-width="0.3">0</text><text transform="translate(270.35,215.70)" font-size="26.5" font-weight="bold" fill="#000" text-anchor="middle" >(b)</text><text transform="translate(446.40,18.80)" font-size="23.5" font-weight="normal" fill="#111" text-anchor="start" >Intensity(a.u.)</text><text transform="translate(541.90,53.00)" font-size="23.5" font-weight="bold" fill="#f20000" text-anchor="start"  stroke="#f20000" stroke-width="0.3">223</text><text transform="translate(539.50,186.40)" font-size="23.5" font-weight="bold" fill="#000" text-anchor="start"  stroke="#000" stroke-width="0.3">0</text><text transform="translate(475.40,215.70)" font-size="26.5" font-weight="bold" fill="#000" text-anchor="middle" >(c)</text><text transform="translate(642.40,18.80)" font-size="23.5" font-weight="normal" fill="#111" text-anchor="start" >Intensity(a.u.)</text><text transform="translate(739.30,53.00)" font-size="23.5" font-weight="bold" fill="#f20000" text-anchor="start"  stroke="#f20000" stroke-width="0.3">91</text><text transform="translate(739.50,191.10)" font-size="23.5" font-weight="bold" fill="#000" text-anchor="start"  stroke="#000" stroke-width="0.3">0</text><text transform="translate(680.90,215.70)" font-size="26.5" font-weight="bold" fill="#000" text-anchor="middle" >(d)</text>
</svg>
</body></html>
